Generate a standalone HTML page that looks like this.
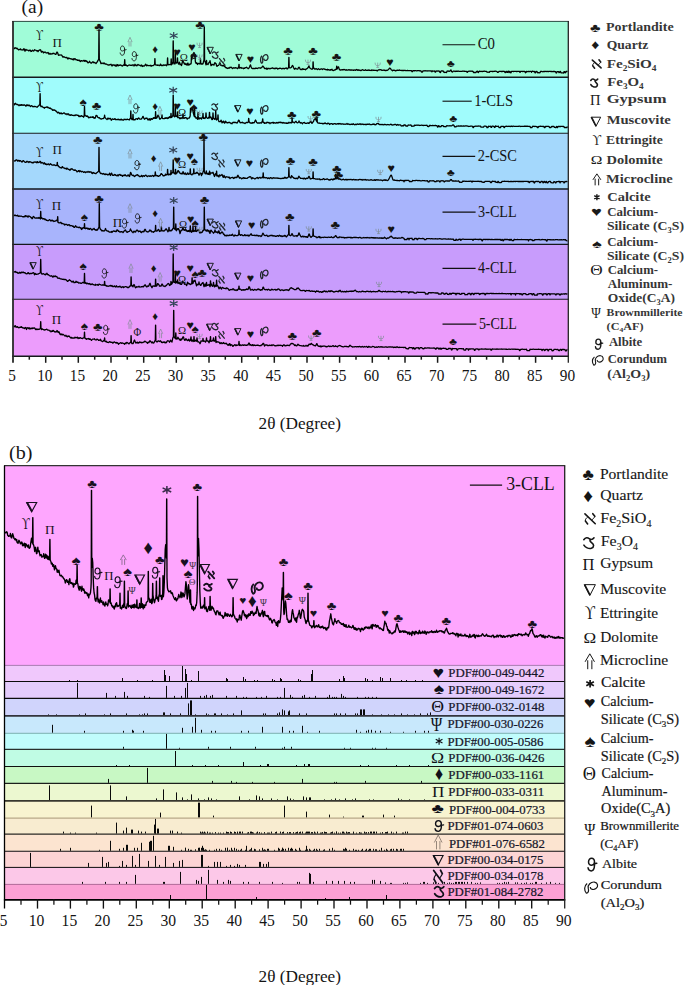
<!DOCTYPE html>
<html><head><meta charset="utf-8"><title>XRD patterns</title>
<style>html,body{margin:0;padding:0;background:#fff;width:685px;height:985px;overflow:hidden}svg{display:block;font-family:"Liberation Serif",serif}</style>
</head><body>
<svg width="685" height="985" viewBox="0 0 685 985" font-family="'Liberation Serif', serif">
<rect width="685" height="985" fill="#fff"/>
<rect x="13.0" y="21.4" width="555.3" height="55.8" fill="#a0fcd8"/>
<rect x="13.0" y="77.2" width="555.3" height="56.1" fill="#a0fcfc"/>
<rect x="13.0" y="133.3" width="555.3" height="55.7" fill="#a4d8fc"/>
<rect x="13.0" y="189.0" width="555.3" height="55.4" fill="#a8b4fc"/>
<rect x="13.0" y="244.4" width="555.3" height="54.8" fill="#c89cfc"/>
<rect x="13.0" y="299.2" width="555.3" height="57.2" fill="#ec9cfc"/>
<polyline points="13.50,48.4 14.00,48.6 14.50,48.5 15.00,47.7 15.50,48.0 16.00,48.0 16.50,48.5 17.00,48.2 17.50,48.9 18.00,49.2 18.50,49.9 19.00,49.7 19.50,49.6 20.00,49.2 20.50,48.9 21.00,49.9 21.50,49.8 22.00,49.8 22.50,49.8 23.00,50.1 23.50,49.1 24.00,48.7 24.50,49.8 25.00,51.2 25.50,49.7 26.00,49.4 26.50,50.2 27.00,50.1 27.50,50.2 28.00,50.2 28.50,50.8 29.00,50.7 29.50,50.6 30.00,50.0 30.50,50.6 31.00,51.5 31.50,51.3 32.00,50.6 32.50,50.1 33.00,50.7 33.50,51.1 34.00,50.8 34.50,49.7 35.00,50.0 35.50,50.2 36.00,50.3 36.50,50.9 37.00,50.5 37.50,50.7 38.00,51.6 38.50,50.8 39.00,50.3 39.50,50.2 40.00,49.7 40.50,49.8 41.00,51.1 41.50,52.1 42.00,51.2 42.50,51.5 43.00,51.9 43.50,52.9 44.00,52.1 44.50,52.3 45.00,52.2 45.50,52.2 46.00,52.8 46.50,52.9 47.00,53.0 47.50,52.8 48.00,52.4 48.50,53.4 49.00,54.2 49.50,53.7 50.00,53.3 50.50,54.0 51.00,54.0 51.50,53.8 52.00,54.1 52.50,53.5 53.00,53.2 53.50,53.6 54.00,53.3 54.50,53.7 55.00,54.0 55.50,54.4 56.00,54.3 56.50,52.8 57.00,52.0 57.50,52.4 58.00,54.1 58.50,55.3 59.00,55.1 59.50,55.1 60.00,54.8 60.50,55.0 61.00,55.2 61.50,55.0 62.00,55.6 62.50,56.5 63.00,57.2 63.50,56.9 64.00,56.7 64.50,57.0 65.00,57.4 65.50,57.6 66.00,57.6 66.50,57.5 67.00,57.5 67.50,58.8 68.00,58.9 68.50,58.0 69.00,58.5 69.50,58.3 70.00,58.6 70.50,58.7 71.00,59.1 71.50,59.0 72.00,59.0 72.50,59.5 73.00,59.8 73.50,58.8 74.00,59.7 74.50,58.9 75.00,58.6 75.50,59.2 76.00,59.9 76.50,59.9 77.00,59.7 77.50,60.4 78.00,60.3 78.50,60.1 79.00,60.6 79.50,60.1 80.00,61.2 80.50,61.5 81.00,60.8 81.50,60.6 82.00,60.7 82.50,61.1 83.00,61.1 83.50,60.6 84.00,60.3 84.50,61.3 85.00,60.7 85.50,60.5 86.00,61.6 86.50,60.9 87.00,61.3 87.50,62.1 88.00,62.9 88.50,62.7 89.00,62.1 89.50,61.3 90.00,62.3 90.50,62.8 91.00,63.0 91.50,63.1 92.00,62.5 92.50,62.1 93.00,61.7 93.50,62.3 94.00,62.9 94.50,62.4 95.00,62.6 95.50,63.1 96.00,63.6 96.50,62.7 97.00,62.3 97.50,61.4 98.00,60.2 98.50,59.8 98.70,59.8 98.95,30.3 99.05,30.3 99.30,59.8 99.50,59.8 100.00,60.9 100.50,62.0 101.00,63.7 101.50,63.4 102.00,63.2 102.50,63.1 103.00,63.7 103.50,63.6 104.00,62.8 104.50,63.6 105.00,64.0 105.50,63.9 106.00,64.0 106.50,64.2 107.00,64.4 107.50,64.8 108.00,64.9 108.50,65.0 109.00,65.0 109.50,64.9 110.00,64.6 110.50,64.7 111.00,64.2 111.50,65.1 112.00,66.0 112.50,65.3 113.00,64.6 113.50,65.1 114.00,65.1 114.50,65.6 115.00,64.8 115.50,65.7 116.00,66.3 116.50,65.8 117.00,64.5 117.50,64.7 118.00,65.9 118.50,65.7 119.00,65.0 119.50,65.2 120.00,65.4 120.50,64.8 121.00,65.1 121.50,65.7 122.00,65.9 122.50,66.0 123.00,65.6 123.50,64.8 124.00,64.7 124.40,65.4 124.65,59.7 124.75,59.7 125.00,65.4 125.50,65.4 126.00,64.8 126.50,65.6 127.00,65.7 127.50,66.1 128.00,65.5 128.50,65.2 129.00,65.2 129.50,65.0 130.00,65.1 130.50,65.4 131.00,65.3 131.50,65.2 132.00,65.5 132.50,64.9 133.00,64.9 133.50,64.9 134.00,66.0 134.50,65.4 135.00,64.3 135.50,65.0 136.00,65.6 136.50,65.1 137.00,65.8 137.50,64.9 138.00,64.4 138.50,65.0 139.00,65.2 139.50,65.2 140.00,65.6 140.50,65.5 141.00,66.0 141.50,65.0 142.00,65.4 142.50,66.5 143.00,65.9 143.50,65.8 144.00,66.2 144.50,65.8 145.00,65.3 145.50,64.2 146.00,64.6 146.50,65.8 147.00,65.7 147.50,65.1 148.00,65.5 148.50,65.6 149.00,65.7 149.50,65.5 150.00,65.7 150.50,65.3 151.00,66.2 151.50,66.2 152.00,65.5 152.50,65.7 153.00,65.6 153.50,65.4 154.00,64.8 154.50,64.5 154.60,64.5 154.85,58.6 154.95,58.6 155.20,64.5 155.50,64.6 156.00,65.2 156.50,65.1 157.00,65.0 157.50,65.4 158.00,65.0 158.50,65.2 159.00,65.5 159.50,65.6 160.00,65.4 160.50,64.1 161.00,64.9 161.50,65.6 162.00,65.1 162.50,65.6 163.00,65.5 163.50,64.9 164.00,65.0 164.50,65.3 165.00,65.1 165.50,64.9 166.00,65.3 166.50,65.7 167.00,64.5 167.30,64.1 167.55,57.9 167.65,57.9 167.90,64.6 168.00,64.9 168.50,64.7 169.00,64.5 169.50,64.6 170.00,64.6 170.50,64.5 170.90,64.4 171.15,59.0 171.25,59.0 171.50,64.8 171.50,64.8 172.00,64.2 172.50,63.2 172.90,61.7 173.15,40.8 173.25,40.8 173.50,61.8 173.50,61.8 174.00,63.8 174.50,63.7 175.00,63.8 175.00,63.8 175.25,52.5 175.35,52.5 175.60,62.8 176.00,62.6 176.50,63.0 177.00,62.1 177.20,62.3 177.45,58.0 177.55,58.0 177.80,62.6 178.00,62.7 178.50,64.1 179.00,63.4 179.50,62.2 180.00,64.7 180.50,64.5 181.00,64.1 181.50,65.6 182.00,63.8 182.50,60.9 183.00,60.7 183.50,62.0 184.00,63.1 184.50,64.1 185.00,63.3 185.50,64.5 186.00,64.3 186.50,63.9 187.00,65.3 187.50,63.4 188.00,63.1 188.50,65.0 189.00,64.9 189.50,64.6 190.00,63.9 190.50,64.2 191.00,63.8 191.20,62.8 191.45,55.0 191.55,55.0 191.80,59.6 192.00,58.5 192.50,56.0 193.00,54.4 193.50,53.3 194.00,52.5 194.50,55.4 194.70,56.9 194.95,54.5 195.05,54.5 195.30,61.0 195.50,62.2 196.00,63.3 196.50,62.7 197.00,63.2 197.50,64.5 198.00,63.4 198.50,63.6 199.00,63.5 199.50,63.9 200.00,63.9 200.20,63.6 200.45,59.0 200.55,59.0 200.80,63.7 201.00,64.0 201.50,64.2 202.00,63.7 202.50,64.0 203.00,63.9 203.50,61.6 204.00,59.8 204.00,59.8 204.25,26.8 204.35,26.8 204.60,60.9 205.00,61.2 205.50,62.9 206.00,64.9 206.20,64.7 206.45,60.5 206.55,60.5 206.80,64.2 207.00,64.1 207.50,64.0 208.00,64.5 208.50,63.6 209.00,62.5 209.50,62.4 210.00,60.7 210.50,63.2 211.00,65.7 211.50,65.3 212.00,64.4 212.50,64.3 213.00,64.9 213.50,64.7 214.00,65.1 214.50,63.1 215.00,62.7 215.50,63.3 216.00,63.5 216.50,65.5 217.00,66.4 217.50,65.8 218.00,65.4 218.50,65.4 219.00,64.8 219.50,63.1 220.00,63.0 220.50,64.3 221.00,65.4 221.50,65.6 222.00,65.4 222.50,65.6 223.00,66.1 223.50,65.3 224.00,65.1 224.50,66.5 225.00,66.5 225.50,67.7 226.00,67.6 226.50,67.6 227.00,68.3 227.50,68.5 228.00,68.1 228.50,67.8 229.00,68.4 229.50,67.7 230.00,67.2 230.50,67.5 231.00,67.2 231.50,67.3 232.00,68.0 232.50,68.6 233.00,68.1 233.50,68.0 234.00,67.6 234.50,68.2 235.00,68.2 235.50,67.6 236.00,67.7 236.50,68.0 237.00,68.3 237.50,68.7 238.00,68.3 238.50,67.0 238.70,67.0 238.95,64.4 239.05,64.4 239.30,67.7 239.50,68.1 240.00,67.6 240.50,67.9 241.00,67.4 241.50,68.3 242.00,68.0 242.50,68.2 243.00,68.0 243.50,68.7 244.00,68.4 244.50,68.3 245.00,67.6 245.50,67.8 246.00,67.7 246.50,67.2 247.00,67.7 247.50,68.0 248.00,68.5 248.50,68.5 249.00,67.8 249.50,67.0 250.00,65.7 250.50,64.9 251.00,66.5 251.50,67.8 252.00,68.4 252.50,68.5 253.00,68.6 253.50,68.5 254.00,68.5 254.50,68.5 255.00,68.7 255.50,68.2 256.00,68.0 256.50,68.4 257.00,68.4 257.50,68.5 258.00,68.2 258.50,67.8 259.00,67.9 259.50,67.9 260.00,68.0 260.50,68.3 261.00,67.9 261.50,67.6 262.00,67.2 262.50,66.2 263.00,66.1 263.50,66.9 264.00,67.3 264.50,68.5 265.00,68.5 265.50,68.6 266.00,68.5 266.50,68.1 267.00,69.4 267.50,68.5 268.00,68.4 268.50,68.6 269.00,68.3 269.50,68.6 270.00,68.8 270.50,68.5 271.00,68.5 271.50,68.3 272.00,67.9 272.50,67.8 273.00,68.3 273.50,68.4 274.00,68.7 274.50,68.3 275.00,68.7 275.50,68.2 276.00,68.4 276.50,68.1 277.00,68.1 277.50,69.0 278.00,68.9 278.50,68.7 279.00,68.5 279.50,68.4 280.00,68.1 280.50,68.3 281.00,68.4 281.50,68.9 282.00,68.8 282.50,68.4 283.00,68.4 283.50,68.5 284.00,68.4 284.50,68.9 285.00,68.4 285.50,68.3 286.00,67.9 286.50,68.1 287.00,68.8 287.50,68.9 288.00,68.1 288.50,67.5 288.60,67.4 288.85,57.5 288.95,57.5 289.20,67.5 289.50,67.6 290.00,67.9 290.50,67.8 291.00,67.6 291.50,67.2 292.00,66.1 292.50,65.5 293.00,65.9 293.50,67.5 294.00,68.5 294.50,69.2 295.00,68.9 295.50,68.2 296.00,68.6 296.50,68.8 297.00,69.0 297.50,69.2 298.00,68.7 298.50,67.6 299.00,67.2 299.50,67.9 300.00,68.8 300.50,69.5 301.00,69.2 301.50,69.3 302.00,69.7 302.50,68.9 303.00,68.7 303.50,69.3 304.00,69.4 304.50,69.3 305.00,69.2 305.50,69.7 306.00,69.3 306.50,68.9 307.00,68.6 307.50,68.3 308.00,67.7 308.50,66.8 309.00,65.9 309.50,67.6 310.00,68.1 310.50,68.5 311.00,68.8 311.50,69.2 312.00,69.0 312.50,69.0 312.80,68.8 313.05,61.8 313.15,61.8 313.40,68.1 313.50,68.0 314.00,68.2 314.50,69.0 315.00,69.0 315.50,69.1 316.00,68.7 316.50,68.9 317.00,69.2 317.50,69.6 318.00,69.1 318.50,68.6 319.00,69.2 319.50,69.5 320.00,69.5 320.50,69.2 321.00,68.8 321.50,68.8 322.00,69.2 322.50,69.5 323.00,68.9 323.50,68.9 324.00,68.9 324.50,69.1 325.00,69.4 325.50,69.5 326.00,69.5 326.50,69.7 327.00,70.0 327.50,69.3 328.00,69.9 328.50,69.7 329.00,69.9 329.50,70.0 330.00,70.3 330.50,69.6 331.00,69.9 331.50,69.8 332.00,69.3 332.50,70.2 333.00,70.6 333.50,70.6 334.00,70.2 334.50,70.0 335.00,70.1 335.50,69.4 336.00,69.4 336.40,69.1 336.65,66.2 336.75,66.2 337.00,69.0 337.00,69.0 337.50,68.4 338.00,67.0 338.50,66.8 339.00,68.4 339.50,69.9 340.00,69.9 340.50,70.0 341.00,70.0 341.50,69.8 342.00,69.6 342.50,69.7 343.00,70.0 343.50,69.6 344.00,69.5 344.50,69.6 345.00,69.8 345.50,70.1 346.00,70.0 346.50,69.7 347.00,70.2 347.50,70.2 348.00,70.0 348.50,69.9 349.00,69.7 349.50,70.1 350.00,69.9 350.50,69.9 351.00,70.3 351.50,69.9 352.00,70.0 352.50,70.1 353.00,70.1 353.50,70.4 354.00,70.0 354.50,70.0 355.00,70.2 355.50,70.3 356.00,69.8 356.50,69.5 357.00,70.0 357.50,70.3 358.00,69.8 358.50,70.3 359.00,70.0 359.50,70.3 360.00,70.2 360.50,70.5 361.00,70.5 361.50,70.4 362.00,69.9 362.50,69.7 363.00,70.1 363.50,70.1 364.00,70.4 364.50,70.3 365.00,70.2 365.50,69.8 366.00,70.3 366.50,70.4 367.00,70.4 367.50,70.4 368.00,70.0 368.50,70.1 369.00,70.4 369.50,70.1 370.00,70.3 370.50,70.5 371.00,70.3 371.50,70.0 372.00,70.5 372.50,70.1 373.00,70.1 373.50,70.3 374.00,70.2 374.50,70.3 375.00,70.4 375.50,70.3 376.00,70.3 376.50,70.3 377.00,70.8 377.50,70.8 378.00,70.2 378.50,69.8 379.00,69.9 379.50,69.9 380.00,69.5 380.50,69.7 381.00,70.0 381.50,70.0 382.00,70.4 382.50,70.3 383.00,70.2 383.50,70.2 384.00,70.4 384.50,70.1 385.00,70.5 385.50,70.5 386.00,70.6 386.50,70.3 387.00,70.2 387.50,70.3 388.00,69.9 388.50,69.3 389.00,68.9 389.50,68.1 390.00,68.2 390.50,68.5 391.00,69.4 391.50,70.0 392.00,70.3 392.50,70.7 393.00,70.2 393.50,70.3 394.00,70.2 394.50,70.4 395.00,70.5 395.50,70.9 396.00,70.8 396.50,70.3 397.00,70.3 397.50,70.1 398.00,70.3 398.50,70.3 399.00,70.1 399.50,70.0 400.00,70.4 400.50,70.4 401.00,70.3 401.50,70.5 402.00,70.5 402.50,70.4 403.00,70.5 403.50,70.5 404.00,70.5 404.50,70.4 405.00,70.4 405.50,70.5 406.00,70.7 406.50,70.6 407.00,70.6 407.50,70.5 408.00,70.5 408.50,70.7 409.00,70.7 409.50,70.6 410.00,70.7 410.50,70.6 411.00,70.6 411.50,70.7 412.00,71.7 412.50,71.6 413.00,70.6 413.50,70.7 414.00,70.7 414.50,70.9 415.00,70.7 415.50,70.7 416.00,70.7 416.50,70.8 417.00,70.8 417.50,70.7 418.00,70.6 418.50,70.6 419.00,70.7 419.50,70.8 420.00,70.7 420.50,70.8 421.00,70.9 421.50,72.1 422.00,72.1 422.50,72.1 423.00,70.8 423.50,70.8 424.00,70.8 424.50,70.8 425.00,70.7 425.50,70.9 426.00,70.9 426.50,70.8 427.00,71.0 427.50,70.9 428.00,70.8 428.50,70.8 429.00,70.9 429.50,70.9 430.00,70.9 430.50,70.9 431.00,71.1 431.50,71.0 432.00,71.8 432.50,70.9 433.00,71.1 433.50,71.1 434.00,71.1 434.50,71.0 435.00,72.0 435.50,72.2 436.00,70.9 436.50,71.1 437.00,71.1 437.50,71.1 438.00,70.9 438.50,71.0 439.00,71.2 439.50,71.2 440.00,72.4 440.50,72.5 441.00,71.1 441.50,70.9 442.00,70.9 442.50,71.0 443.00,71.1 443.50,71.1 444.00,72.4 444.50,72.4 445.00,72.5 445.50,72.3 446.00,72.4 446.50,72.6 447.00,71.2 447.50,71.1 448.00,71.0 448.50,71.1 449.00,71.3 449.50,71.3 450.00,70.9 450.50,70.2 451.00,70.0 451.50,71.4 452.00,71.8 452.50,72.0 453.00,71.3 453.50,71.2 454.00,71.2 454.50,71.2 455.00,71.5 455.50,71.4 456.00,71.2 456.50,71.3 457.00,71.1 457.50,71.3 458.00,71.2 458.50,71.2 459.00,71.4 459.50,71.3 460.00,71.4 460.50,71.4 461.00,71.3 461.50,71.3 462.00,71.4 462.50,71.2 463.00,71.2 463.50,71.2 464.00,71.3 464.50,71.2 465.00,71.3 465.50,71.3 466.00,71.3 466.50,71.3 467.00,72.3 467.50,72.3 468.00,71.4 468.50,71.3 469.00,71.2 469.50,71.2 470.00,71.3 470.50,71.2 471.00,71.2 471.50,71.2 472.00,71.3 472.50,71.2 473.00,71.3 473.50,72.5 474.00,72.5 474.50,72.5 475.00,72.5 475.50,72.5 476.00,72.5 476.50,71.4 477.00,71.4 477.50,71.2 478.00,72.4 478.50,72.5 479.00,71.3 479.50,71.2 480.00,71.3 480.50,71.4 481.00,71.5 481.50,71.4 482.00,71.4 482.50,71.5 483.00,71.4 483.50,71.4 484.00,71.2 484.50,71.2 485.00,71.4 485.50,71.4 486.00,71.3 486.50,71.3 487.00,72.1 487.50,72.2 488.00,72.3 488.50,72.2 489.00,72.2 489.50,72.3 490.00,71.3 490.50,71.3 491.00,71.4 491.50,71.3 492.00,71.5 492.50,71.5 493.00,71.5 493.50,71.4 494.00,71.3 494.50,71.4 495.00,71.1 495.50,71.2 496.00,71.3 496.50,71.3 497.00,71.5 497.50,72.4 498.00,72.3 498.50,72.2 499.00,71.4 499.50,71.4 500.00,71.3 500.50,71.3 501.00,71.5 501.50,71.4 502.00,71.5 502.50,71.5 503.00,71.2 503.50,71.3 504.00,71.5 504.50,71.5 505.00,72.5 505.50,72.5 506.00,71.4 506.50,71.3 507.00,72.4 507.50,72.4 508.00,71.2 508.50,71.2 509.00,72.6 509.50,71.5 510.00,71.4 510.50,72.7 511.00,72.8 511.50,71.4 512.00,71.3 512.50,71.4 513.00,71.4 513.50,71.6 514.00,71.4 514.50,71.3 515.00,71.4 515.50,71.4 516.00,71.4 516.50,71.5 517.00,71.5 517.50,71.4 518.00,71.4 518.50,71.3 519.00,71.3 519.50,71.4 520.00,72.4 520.50,71.4 521.00,71.4 521.50,71.3 522.00,71.4 522.50,71.5 523.00,71.4 523.50,71.4 524.00,71.5 524.50,71.4 525.00,71.6 525.50,72.8 526.00,72.5 526.50,71.3 527.00,71.5 527.50,71.6 528.00,71.6 528.50,71.4 529.00,71.5 529.50,71.7 530.00,71.3 530.50,71.3 531.00,71.3 531.50,72.3 532.00,71.3 532.50,71.2 533.00,71.3 533.50,71.5 534.00,71.6 534.50,71.5 535.00,72.8 535.50,72.8 536.00,71.5 536.50,71.6 537.00,71.5 537.50,72.7 538.00,72.8 538.50,72.6 539.00,72.7 539.50,72.8 540.00,72.7 540.50,71.5 541.00,71.4 541.50,71.4 542.00,71.5 542.50,71.7 543.00,71.8 543.50,71.5 544.00,71.5 544.50,71.5 545.00,71.5 545.50,71.4 546.00,71.3 546.50,71.5 547.00,71.6 547.50,71.3 548.00,71.5 548.50,71.6 549.00,71.4 549.50,71.4 550.00,71.3 550.50,71.4 551.00,71.6 551.50,71.5 552.00,71.6 552.50,71.6 553.00,71.5 553.50,71.5 554.00,71.5 554.50,71.5 555.00,71.6 555.50,71.6 556.00,72.8 556.50,73.0 557.00,71.7 557.50,71.7 558.00,71.6 558.50,71.6 559.00,72.7 559.50,72.5 560.00,71.5 560.50,71.5 561.00,72.8 561.50,72.9 562.00,72.9 562.50,72.8 563.00,72.9 563.50,73.1 564.00,71.7 564.50,71.6 565.00,72.8 565.50,72.7 566.00,71.5 566.50,71.5 567.00,71.4 567.50,71.6" fill="none" stroke="#000" stroke-width="1.3" stroke-linejoin="round"/>
<polyline points="13.50,103.5 14.00,103.6 14.50,104.8 15.00,104.2 15.50,103.3 16.00,104.0 16.50,104.3 17.00,104.6 17.50,104.3 18.00,104.9 18.50,105.0 19.00,105.7 19.50,105.3 20.00,104.8 20.50,105.3 21.00,105.4 21.50,104.6 22.00,105.1 22.50,104.8 23.00,105.4 23.50,105.0 24.00,105.1 24.50,104.9 25.00,105.2 25.50,105.9 26.00,106.1 26.50,105.3 27.00,104.7 27.50,105.5 28.00,105.4 28.50,105.1 29.00,105.8 29.50,105.3 30.00,105.9 30.50,106.5 31.00,106.1 31.50,105.6 32.00,105.8 32.50,106.7 33.00,106.5 33.50,106.8 34.00,106.5 34.50,106.4 35.00,106.5 35.50,106.6 36.00,106.7 36.50,107.0 37.00,107.3 37.50,106.8 38.00,106.2 38.50,105.9 39.00,105.5 39.50,104.5 39.80,104.8 40.05,93.7 40.15,93.7 40.40,105.1 40.50,105.2 41.00,106.7 41.50,106.7 42.00,106.2 42.50,107.0 43.00,107.3 43.50,107.6 44.00,107.5 44.50,108.2 45.00,107.4 45.50,107.4 46.00,107.3 46.50,107.2 47.00,106.7 47.50,107.6 48.00,107.1 48.50,107.6 49.00,108.2 49.50,108.4 50.00,107.8 50.50,108.7 51.00,108.7 51.50,109.1 52.00,109.2 52.50,110.3 53.00,109.9 53.50,109.8 54.00,110.3 54.50,109.9 55.00,110.2 55.50,110.7 56.00,111.2 56.50,111.2 57.00,112.2 57.50,112.9 58.00,112.8 58.50,112.2 59.00,112.5 59.50,113.4 60.00,113.8 60.50,113.4 61.00,112.8 61.50,113.5 62.00,113.9 62.50,113.7 63.00,113.5 63.50,113.0 64.00,112.8 64.50,113.0 65.00,113.8 65.50,114.1 66.00,113.8 66.50,113.9 67.00,114.7 67.50,114.0 68.00,113.9 68.50,113.8 69.00,115.1 69.50,114.8 70.00,115.2 70.50,115.3 71.00,114.6 71.50,115.0 72.00,115.1 72.50,115.3 73.00,115.3 73.50,115.5 74.00,115.6 74.50,115.1 75.00,115.6 75.50,115.3 76.00,114.8 76.50,115.2 77.00,115.2 77.50,115.3 78.00,115.2 78.50,116.0 79.00,116.5 79.50,115.9 80.00,116.6 80.50,116.4 81.00,115.9 81.50,115.7 82.00,116.3 82.50,116.3 83.00,116.2 83.50,117.2 84.00,116.5 84.20,116.1 84.45,106.5 84.55,106.5 84.80,115.3 85.00,115.1 85.50,115.7 86.00,116.1 86.50,116.3 87.00,115.7 87.50,116.5 88.00,116.5 88.50,117.8 89.00,117.4 89.50,117.5 90.00,117.5 90.50,117.0 91.00,117.3 91.50,117.2 92.00,117.2 92.50,117.4 93.00,116.6 93.50,117.8 94.00,118.1 94.50,117.7 95.00,118.3 95.50,117.3 96.00,115.4 96.50,115.5 97.00,115.7 97.50,116.9 98.00,117.5 98.50,117.8 99.00,117.6 99.50,117.9 100.00,118.5 100.50,118.6 101.00,119.1 101.50,119.0 102.00,118.7 102.50,118.6 103.00,118.7 103.50,118.4 104.00,117.7 104.30,117.6 104.55,115.2 104.65,115.2 104.90,117.4 105.00,117.4 105.50,118.1 106.00,118.7 106.50,119.1 107.00,119.5 107.50,119.0 108.00,118.0 108.50,118.4 109.00,119.0 109.50,118.4 110.00,118.4 110.50,118.5 111.00,119.9 111.50,120.2 112.00,119.2 112.50,118.9 113.00,119.2 113.50,119.4 114.00,119.4 114.50,118.8 115.00,118.6 115.50,119.7 116.00,119.5 116.50,119.7 117.00,119.5 117.50,119.4 118.00,119.5 118.50,119.2 119.00,119.8 119.50,119.9 120.00,119.4 120.50,119.4 121.00,120.0 121.50,119.2 122.00,119.5 122.50,120.0 123.00,120.2 123.50,120.2 124.00,119.2 124.50,119.5 125.00,119.3 125.50,119.6 126.00,119.5 126.50,119.7 127.00,119.2 127.50,119.2 128.00,119.6 128.50,119.6 129.00,119.7 129.50,119.9 130.00,118.6 130.50,118.2 130.50,118.2 130.75,110.9 130.85,110.9 131.10,117.8 131.50,118.5 132.00,119.7 132.50,119.2 132.70,119.2 132.95,114.5 133.05,114.5 133.30,119.7 133.50,119.9 134.00,119.6 134.50,119.6 135.00,119.9 135.50,119.1 136.00,118.6 136.50,118.9 137.00,118.8 137.50,119.4 138.00,118.4 138.50,118.0 139.00,118.1 139.50,119.0 140.00,119.2 140.50,119.2 141.00,119.1 141.50,118.9 142.00,118.1 142.50,117.2 143.00,116.4 143.50,117.4 144.00,118.6 144.50,119.2 145.00,118.7 145.50,118.4 146.00,118.1 146.50,118.4 147.00,118.1 147.50,119.1 148.00,120.0 148.50,119.8 149.00,118.7 149.50,118.9 150.00,120.4 150.50,119.7 151.00,118.5 151.50,118.7 152.00,119.5 152.50,119.2 153.00,118.4 153.50,117.7 154.00,118.3 154.50,117.7 155.00,118.2 155.30,118.4 155.55,111.7 155.65,111.7 155.90,118.3 156.00,118.3 156.50,118.1 157.00,117.7 157.50,116.3 158.00,115.1 158.50,115.7 159.00,117.0 159.50,118.6 160.00,119.3 160.50,118.5 161.00,118.2 161.50,117.8 161.70,117.8 161.95,115.0 162.05,115.0 162.30,118.2 162.50,118.5 163.00,118.7 163.50,118.7 164.00,118.7 164.50,118.7 165.00,118.0 165.50,118.4 166.00,117.6 166.50,118.0 167.00,118.4 167.50,118.5 168.00,117.4 168.50,118.2 169.00,117.8 169.50,116.7 170.00,117.3 170.50,117.6 170.70,117.3 170.95,113.5 171.05,113.5 171.30,117.2 171.50,117.5 172.00,117.0 172.50,116.0 172.90,115.1 173.15,95.1 173.25,95.1 173.50,115.6 173.50,115.6 174.00,116.4 174.50,116.9 175.00,115.8 175.00,115.8 175.25,106.5 175.35,106.5 175.60,115.9 176.00,116.5 176.50,116.0 177.00,116.2 177.20,116.9 177.45,112.0 177.55,112.0 177.80,117.7 178.00,117.6 178.50,117.5 179.00,117.4 179.50,118.3 180.00,118.8 180.50,118.4 181.00,117.6 181.50,118.1 182.00,118.5 182.50,117.7 182.70,117.7 182.95,114.0 183.05,114.0 183.30,117.9 183.50,118.1 184.00,118.4 184.50,118.2 185.00,117.5 185.50,117.8 186.00,117.7 186.50,117.8 187.00,118.9 187.50,119.0 188.00,118.2 188.50,118.1 189.00,118.2 189.50,117.8 190.00,116.6 190.20,115.8 190.45,108.5 190.55,108.5 190.80,112.1 191.00,110.5 191.50,108.4 192.00,108.8 192.50,108.2 193.00,111.7 193.50,113.8 194.00,115.6 194.20,116.3 194.45,108.5 194.55,108.5 194.80,116.9 195.00,116.6 195.50,116.6 196.00,118.3 196.50,118.0 197.00,118.0 197.50,119.3 197.70,118.5 197.95,112.5 198.05,112.5 198.30,117.7 198.50,117.9 199.00,119.2 199.50,118.3 200.00,117.7 200.50,118.4 201.00,118.6 201.50,119.1 202.00,117.3 202.50,117.1 202.70,117.6 202.95,113.5 203.05,113.5 203.30,118.3 203.50,118.4 204.00,117.8 204.50,118.4 205.00,118.5 205.50,117.2 205.70,116.8 205.95,113.0 206.05,113.0 206.30,116.7 206.50,117.2 207.00,117.9 207.50,118.3 208.00,118.5 208.50,117.5 209.00,117.1 209.20,117.6 209.45,112.3 209.55,112.3 209.80,118.0 210.00,117.7 210.50,117.0 211.00,117.2 211.50,118.4 212.00,119.7 212.50,119.5 212.70,118.7 212.95,113.0 213.05,113.0 213.30,117.8 213.50,118.0 214.00,118.4 214.50,119.3 215.00,119.2 215.40,118.8 215.65,110.9 215.75,110.9 216.00,118.3 216.00,118.3 216.50,120.0 217.00,119.2 217.50,119.1 217.70,119.0 217.95,115.0 218.05,115.0 218.30,119.9 218.50,120.5 219.00,121.7 219.50,121.5 220.00,121.8 220.50,121.4 221.00,120.2 221.50,121.0 222.00,122.9 222.50,121.9 223.00,122.2 223.50,121.1 224.00,121.9 224.50,123.2 225.00,122.8 225.50,121.1 226.00,122.1 226.50,122.1 227.00,122.9 227.50,122.9 228.00,122.6 228.50,122.7 229.00,122.2 229.50,122.3 230.00,122.9 230.50,122.9 231.00,123.5 231.50,123.3 232.00,123.8 232.50,122.7 233.00,122.4 233.50,122.7 234.00,122.1 234.50,122.6 235.00,122.5 235.50,122.5 236.00,122.5 236.50,122.8 237.00,123.1 237.50,122.3 238.00,121.7 238.50,120.1 239.00,120.4 239.50,121.4 240.00,122.6 240.50,122.8 241.00,122.4 241.50,122.6 242.00,122.7 242.50,122.2 243.00,122.9 243.50,122.9 244.00,123.0 244.50,123.2 245.00,123.6 245.50,123.1 246.00,122.6 246.50,122.4 247.00,122.4 247.50,122.7 248.00,122.4 248.40,122.1 248.65,118.4 248.75,118.4 249.00,121.7 249.00,121.7 249.50,122.1 250.00,122.9 250.50,123.1 251.00,122.9 251.50,123.2 252.00,123.3 252.50,122.5 253.00,122.9 253.50,122.7 254.00,122.8 254.50,122.1 255.00,121.0 255.50,120.0 256.00,120.8 256.50,122.3 257.00,122.8 257.50,123.1 258.00,122.9 258.50,123.0 259.00,123.1 259.50,123.0 260.00,123.1 260.50,122.7 261.00,123.1 261.50,123.1 262.00,121.7 262.40,121.3 262.65,118.8 262.75,118.8 263.00,122.1 263.00,122.1 263.50,122.7 264.00,122.4 264.50,123.4 265.00,123.0 265.50,123.0 266.00,123.3 266.50,122.8 267.00,122.2 267.50,122.5 268.00,122.4 268.50,122.9 269.00,122.4 269.50,122.9 270.00,123.7 270.50,123.1 271.00,122.6 271.50,122.9 272.00,122.9 272.50,122.5 273.00,122.2 273.50,123.2 274.00,122.7 274.50,122.7 275.00,123.0 275.50,123.1 276.00,123.0 276.50,122.5 277.00,122.8 277.50,123.0 278.00,122.4 278.50,122.8 279.00,122.2 279.50,122.5 280.00,122.4 280.50,122.2 281.00,122.8 281.50,122.4 282.00,122.7 282.50,123.1 283.00,122.5 283.50,122.6 284.00,123.2 284.50,122.8 285.00,122.8 285.50,123.1 286.00,123.1 286.50,123.4 287.00,122.8 287.50,123.4 288.00,123.4 288.50,122.8 289.00,122.3 289.50,122.9 290.00,122.9 290.50,122.5 291.00,122.8 291.50,122.9 291.80,122.8 292.05,118.2 292.15,118.2 292.40,122.3 292.50,122.1 293.00,122.1 293.50,122.2 294.00,122.6 294.50,122.9 295.00,122.2 295.50,121.6 296.00,121.3 296.50,122.3 297.00,122.6 297.50,122.8 298.00,122.7 298.50,122.1 299.00,120.9 299.50,122.1 300.00,122.7 300.50,123.1 301.00,122.5 301.50,122.9 302.00,123.2 302.50,123.8 303.00,122.8 303.50,122.7 304.00,122.6 304.50,122.4 305.00,123.3 305.50,123.3 306.00,123.3 306.50,123.3 307.00,123.1 307.50,123.1 308.00,122.7 308.50,123.3 309.00,123.5 309.50,122.7 310.00,122.2 310.50,121.3 311.00,121.4 311.50,122.8 312.00,123.4 312.50,122.5 313.00,122.1 313.50,121.5 314.00,119.9 314.50,119.1 315.00,119.0 315.50,118.6 316.00,120.0 316.50,121.1 316.70,121.3 316.95,117.0 317.05,117.0 317.30,122.3 317.50,122.7 318.00,122.9 318.50,123.2 319.00,123.2 319.50,123.0 320.00,123.4 320.50,123.4 321.00,123.4 321.50,123.3 322.00,123.5 322.50,123.5 323.00,123.9 323.50,123.5 324.00,123.6 324.50,123.4 325.00,122.8 325.50,123.5 326.00,123.7 326.50,123.7 327.00,124.0 327.50,123.4 328.00,123.2 328.50,123.3 329.00,123.4 329.50,124.5 330.00,124.1 330.50,123.8 331.00,123.6 331.50,123.7 332.00,123.7 332.50,124.3 333.00,123.9 333.50,124.1 334.00,123.8 334.50,123.7 335.00,123.6 335.50,124.0 336.00,123.9 336.50,124.1 337.00,124.1 337.50,123.7 338.00,123.5 338.50,124.0 339.00,123.6 339.50,123.9 340.00,123.5 340.50,123.9 341.00,124.1 341.50,124.0 342.00,124.1 342.50,123.8 343.00,123.8 343.50,124.1 344.00,124.3 344.50,124.2 345.00,124.1 345.50,124.1 346.00,124.3 346.50,124.0 347.00,123.5 347.50,124.1 348.00,124.3 348.50,123.9 349.00,124.1 349.50,124.5 350.00,124.7 350.50,124.3 351.00,124.4 351.50,124.1 352.00,124.2 352.50,124.5 353.00,124.1 353.50,123.8 354.00,124.5 354.50,124.7 355.00,124.8 355.50,124.4 356.00,124.1 356.50,124.6 357.00,124.4 357.50,123.9 358.00,124.1 358.50,124.4 359.00,124.4 359.50,123.8 360.00,124.1 360.50,123.9 361.00,124.6 361.50,124.2 362.00,124.0 362.50,124.3 363.00,124.2 363.50,124.6 364.00,124.3 364.50,124.4 365.00,124.5 365.50,124.5 366.00,124.2 366.50,124.7 367.00,124.4 367.50,124.1 368.00,124.3 368.50,124.4 369.00,123.9 369.50,124.1 370.00,124.7 370.50,124.6 371.00,124.5 371.50,124.7 372.00,124.6 372.50,124.2 373.00,124.1 373.50,124.4 374.00,123.9 374.50,124.3 375.00,124.9 375.50,124.6 376.00,124.7 376.50,123.9 377.00,123.7 377.50,123.6 378.00,123.4 378.50,123.6 379.00,124.4 379.50,124.6 380.00,124.5 380.50,124.5 381.00,124.7 381.50,124.5 382.00,124.5 382.50,124.5 383.00,124.8 383.50,124.8 384.00,124.4 384.50,124.5 385.00,124.4 385.50,124.7 386.00,124.7 386.50,124.8 387.00,124.8 387.50,124.5 388.00,124.7 388.50,124.7 389.00,124.8 389.50,124.8 390.00,124.7 390.50,124.3 391.00,124.2 391.50,124.6 392.00,125.1 392.50,125.1 393.00,124.7 393.50,124.8 394.00,124.8 394.50,124.5 395.00,124.5 395.50,124.3 396.00,124.7 396.50,125.3 397.00,125.0 397.50,124.5 398.00,124.8 398.50,125.1 399.00,124.8 399.50,124.9 400.00,124.9 400.50,124.9 401.00,125.8 401.50,125.9 402.00,126.1 402.50,125.7 403.00,125.7 403.50,125.9 404.00,124.9 404.50,124.9 405.00,125.0 405.50,125.1 406.00,126.2 406.50,126.0 407.00,126.1 407.50,126.2 408.00,125.2 408.50,125.0 409.00,125.1 409.50,125.1 410.00,125.2 410.50,125.0 411.00,124.9 411.50,126.1 412.00,126.3 412.50,126.2 413.00,126.2 413.50,126.1 414.00,126.1 414.50,125.1 415.00,125.1 415.50,125.3 416.00,125.3 416.50,125.2 417.00,125.2 417.50,125.1 418.00,125.3 418.50,125.2 419.00,125.2 419.50,125.5 420.00,125.3 420.50,125.3 421.00,125.3 421.50,125.2 422.00,125.2 422.50,125.3 423.00,125.5 423.50,125.5 424.00,125.3 424.50,125.4 425.00,125.4 425.50,125.3 426.00,125.3 426.50,125.4 427.00,125.2 427.50,126.3 428.00,126.5 428.50,126.6 429.00,126.4 429.50,125.3 430.00,125.4 430.50,125.5 431.00,125.6 431.50,125.6 432.00,125.6 432.50,125.5 433.00,125.5 433.50,125.6 434.00,125.7 434.50,125.6 435.00,125.5 435.50,125.5 436.00,125.5 436.50,125.7 437.00,125.7 437.50,127.0 438.00,127.0 438.50,125.7 439.00,125.7 439.50,126.7 440.00,126.8 440.50,126.6 441.00,126.6 441.50,125.6 442.00,125.6 442.50,125.7 443.00,125.6 443.50,126.5 444.00,126.5 444.50,126.6 445.00,126.6 445.50,126.7 446.00,126.8 446.50,125.8 447.00,125.7 447.50,125.9 448.00,125.9 448.50,125.9 449.00,125.9 449.50,125.9 450.00,125.7 450.50,125.8 451.00,125.8 451.50,125.8 452.00,125.6 452.50,125.2 453.00,124.8 453.50,125.1 454.00,125.5 454.50,126.8 455.00,126.7 455.50,126.8 456.00,126.8 456.50,126.1 457.00,126.1 457.50,126.1 458.00,126.1 458.50,125.9 459.00,126.0 459.50,126.1 460.00,126.1 460.50,126.0 461.00,125.9 461.50,126.0 462.00,126.1 462.50,126.2 463.00,126.0 463.50,126.0 464.00,126.1 464.50,126.1 465.00,126.0 465.50,125.9 466.00,125.9 466.50,125.9 467.00,126.0 467.50,126.1 468.00,126.2 468.50,126.5 469.00,126.3 469.50,126.3 470.00,126.3 470.50,126.2 471.00,126.1 471.50,126.1 472.00,126.2 472.50,126.3 473.00,127.5 473.50,127.6 474.00,126.3 474.50,126.3 475.00,126.3 475.50,126.1 476.00,126.1 476.50,126.2 477.00,126.3 477.50,126.2 478.00,126.1 478.50,126.0 479.00,126.2 479.50,126.1 480.00,126.2 480.50,126.1 481.00,127.2 481.50,127.1 482.00,127.2 482.50,127.2 483.00,127.1 483.50,127.1 484.00,126.2 484.50,126.2 485.00,126.2 485.50,126.2 486.00,126.3 486.50,126.3 487.00,127.7 487.50,127.5 488.00,127.6 488.50,126.2 489.00,126.3 489.50,126.3 490.00,126.3 490.50,126.2 491.00,127.3 491.50,127.4 492.00,126.2 492.50,126.1 493.00,126.2 493.50,126.3 494.00,126.4 494.50,127.5 495.00,127.3 495.50,125.9 496.00,126.2 496.50,126.4 497.00,126.3 497.50,126.3 498.00,126.4 498.50,126.2 499.00,127.6 499.50,127.6 500.00,127.7 500.50,127.7 501.00,126.3 501.50,126.4 502.00,126.4 502.50,126.4 503.00,126.3 503.50,126.3 504.00,127.6 504.50,127.5 505.00,126.4 505.50,126.4 506.00,126.3 506.50,126.2 507.00,126.3 507.50,126.5 508.00,126.3 508.50,126.3 509.00,126.2 509.50,126.3 510.00,126.5 510.50,126.5 511.00,126.2 511.50,126.2 512.00,126.4 512.50,126.5 513.00,126.2 513.50,126.2 514.00,126.3 514.50,126.4 515.00,126.4 515.50,126.4 516.00,126.3 516.50,126.4 517.00,126.4 517.50,126.4 518.00,126.4 518.50,126.4 519.00,126.2 519.50,126.2 520.00,126.3 520.50,126.5 521.00,126.4 521.50,126.3 522.00,126.3 522.50,126.3 523.00,126.3 523.50,126.4 524.00,126.4 524.50,126.2 525.00,126.4 525.50,126.2 526.00,126.3 526.50,126.2 527.00,126.3 527.50,126.2 528.00,126.3 528.50,126.3 529.00,126.4 529.50,126.4 530.00,126.3 530.50,127.7 531.00,127.6 531.50,127.7 532.00,127.6 532.50,126.3 533.00,126.2 533.50,126.3 534.00,126.4 534.50,126.5 535.00,126.3 535.50,126.3 536.00,126.5 536.50,126.6 537.00,126.6 537.50,127.6 538.00,127.6 538.50,126.6 539.00,126.5 539.50,126.4 540.00,126.3 540.50,126.2 541.00,126.3 541.50,126.4 542.00,126.4 542.50,126.4 543.00,126.5 543.50,126.4 544.00,126.4 544.50,127.7 545.00,127.6 545.50,126.4 546.00,126.3 546.50,126.4 547.00,126.5 547.50,126.3 548.00,126.4 548.50,126.4 549.00,126.4 549.50,127.6 550.00,127.5 550.50,127.4 551.00,127.5 551.50,126.6 552.00,126.4 552.50,126.5 553.00,126.4 553.50,126.5 554.00,126.5 554.50,127.4 555.00,127.4 555.50,127.6 556.00,127.7 556.50,126.5 557.00,126.6 557.50,127.6 558.00,126.5 558.50,126.5 559.00,126.5 559.50,126.5 560.00,126.6 560.50,126.5 561.00,126.5 561.50,126.3 562.00,126.4 562.50,126.4 563.00,126.5 563.50,126.5 564.00,126.6 564.50,127.7 565.00,127.7 565.50,127.5 566.00,127.5 566.50,127.4 567.00,127.5 567.50,126.4" fill="none" stroke="#000" stroke-width="1.3" stroke-linejoin="round"/>
<polyline points="13.50,160.7 14.00,160.8 14.50,160.8 15.00,161.1 15.50,160.3 16.00,160.0 16.50,160.0 17.00,160.0 17.50,161.0 18.00,161.1 18.50,160.4 19.00,160.3 19.50,161.2 20.00,160.7 20.50,160.6 21.00,161.2 21.50,161.8 22.00,162.0 22.50,161.3 23.00,160.7 23.50,160.7 24.00,161.4 24.50,161.7 25.00,162.2 25.50,162.3 26.00,162.4 26.50,161.5 27.00,161.2 27.50,161.7 28.00,162.1 28.50,161.8 29.00,162.5 29.50,161.6 30.00,161.8 30.50,161.8 31.00,162.3 31.50,162.6 32.00,162.3 32.50,162.5 33.00,163.1 33.50,162.4 34.00,162.1 34.50,162.0 35.00,162.3 35.50,162.2 36.00,161.8 36.50,162.7 37.00,162.4 37.50,161.6 38.00,162.7 38.50,162.4 39.00,162.3 39.50,162.2 40.00,161.3 40.50,161.6 41.00,163.2 41.50,162.7 42.00,162.4 42.50,162.8 43.00,162.9 43.50,163.9 44.00,163.7 44.50,162.8 45.00,163.9 45.50,164.3 46.00,163.8 46.50,164.6 47.00,164.7 47.50,164.5 48.00,163.9 48.50,163.9 49.00,164.8 49.50,164.8 50.00,164.3 50.50,163.7 51.00,164.3 51.50,164.6 52.00,165.0 52.50,165.1 53.00,165.1 53.50,164.9 54.00,165.0 54.50,164.9 55.00,165.2 55.50,165.6 56.00,165.6 56.50,165.2 57.00,165.6 57.25,162.4 57.35,162.4 57.60,165.7 58.00,165.5 58.50,166.2 59.00,166.9 59.50,166.8 60.00,167.7 60.50,167.7 61.00,167.9 61.50,168.0 62.00,167.0 62.50,166.6 63.00,167.7 63.50,167.9 64.00,167.8 64.50,168.3 65.00,168.6 65.50,168.6 66.00,168.2 66.50,169.1 67.00,168.1 67.50,168.9 68.00,169.0 68.50,169.4 69.00,169.5 69.50,169.6 70.00,170.3 70.50,169.7 71.00,168.8 71.50,169.2 72.00,168.8 72.50,169.3 73.00,169.6 73.50,170.2 74.00,170.1 74.50,170.4 75.00,169.8 75.50,170.3 76.00,170.5 76.50,171.0 77.00,171.9 77.50,171.5 78.00,171.4 78.50,170.7 79.00,170.5 79.50,171.8 80.00,170.8 80.50,170.8 81.00,171.5 81.50,171.9 82.00,171.4 82.50,171.4 83.00,171.9 83.50,172.4 84.00,172.0 84.50,171.7 85.00,172.3 85.50,172.6 86.00,171.9 86.50,172.0 87.00,172.1 87.50,172.1 88.00,171.4 88.50,172.0 89.00,172.3 89.50,171.7 90.00,172.1 90.50,172.0 91.00,172.0 91.50,172.2 92.00,173.4 92.50,173.5 93.00,172.4 93.50,173.0 94.00,172.8 94.50,173.3 95.00,173.4 95.50,173.6 96.00,173.6 96.50,172.9 97.00,172.5 97.50,172.3 98.00,171.7 98.50,171.2 98.70,171.3 98.95,147.5 99.05,147.5 99.30,171.4 99.50,171.3 100.00,172.7 100.50,173.4 101.00,173.7 101.50,173.3 102.00,173.6 102.50,174.1 103.00,173.9 103.50,173.5 104.00,173.8 104.50,174.5 105.00,174.7 105.50,174.0 106.00,174.5 106.50,174.3 107.00,174.1 107.50,174.9 108.00,174.9 108.50,174.6 109.00,174.5 109.50,173.2 110.00,174.4 110.50,175.5 111.00,173.9 111.50,173.1 112.00,174.1 112.50,175.3 113.00,175.3 113.50,175.4 114.00,174.8 114.50,174.5 115.00,175.2 115.50,174.7 116.00,175.5 116.50,175.8 117.00,175.4 117.50,174.9 118.00,175.9 118.50,175.7 119.00,174.6 119.50,174.7 120.00,174.4 120.50,175.4 121.00,175.1 121.50,175.2 122.00,175.7 122.50,176.2 123.00,175.2 123.50,175.6 124.00,175.5 124.50,175.5 125.00,174.6 125.50,175.3 126.00,175.8 126.50,175.9 127.00,176.1 127.50,175.6 128.00,174.9 128.50,175.8 129.00,175.3 129.50,176.5 130.00,175.0 130.50,172.3 131.00,173.0 131.50,174.5 132.00,175.1 132.50,175.5 133.00,175.7 133.50,175.2 134.00,176.1 134.50,176.6 135.00,176.2 135.50,175.5 136.00,175.5 136.50,175.2 137.00,174.6 137.50,174.7 138.00,175.6 138.50,175.4 139.00,176.0 139.50,176.7 140.00,176.6 140.50,176.5 141.00,176.3 141.50,175.4 142.00,176.3 142.50,176.7 143.00,175.7 143.50,175.6 144.00,176.2 144.50,176.3 145.00,175.5 145.50,175.2 146.00,175.2 146.50,175.8 147.00,176.4 147.50,176.5 148.00,176.0 148.50,176.0 149.00,175.8 149.50,176.3 150.00,176.2 150.50,175.8 151.00,176.4 151.50,176.2 152.00,175.8 152.50,175.4 153.00,175.7 153.50,176.5 154.00,175.6 154.50,175.9 155.00,175.2 155.00,175.2 155.25,172.0 155.35,172.0 155.60,175.1 156.00,175.9 156.50,175.5 157.00,175.5 157.50,175.7 158.00,176.4 158.50,176.4 159.00,175.8 159.50,175.6 160.00,175.8 160.50,174.7 161.00,173.7 161.50,173.6 162.00,174.5 162.50,174.7 163.00,175.8 163.50,175.6 164.00,175.9 164.50,175.7 165.00,175.1 165.50,174.1 166.00,175.2 166.50,174.5 167.00,174.3 167.30,174.4 167.55,169.4 167.65,169.4 167.90,174.8 168.00,174.8 168.50,174.0 169.00,174.9 169.50,174.4 170.00,173.9 170.50,174.8 170.70,174.6 170.95,170.3 171.05,170.3 171.30,174.0 171.50,173.8 172.00,172.9 172.50,172.7 172.90,171.7 173.15,159.8 173.25,159.8 173.50,172.1 173.50,172.1 174.00,173.3 174.50,173.7 175.00,172.8 175.20,173.5 175.45,169.4 175.55,169.4 175.80,174.1 176.00,173.9 176.50,173.1 177.00,173.1 177.50,171.5 178.00,170.6 178.50,170.9 179.00,172.2 179.50,172.0 180.00,173.4 180.50,173.7 181.00,173.5 181.50,173.9 182.00,173.2 182.50,173.7 183.00,171.7 183.50,172.4 184.00,174.1 184.50,174.0 185.00,173.3 185.50,173.0 186.00,174.6 186.50,174.3 187.00,174.4 187.50,173.0 188.00,173.1 188.50,174.3 189.00,174.1 189.50,173.8 190.00,173.1 190.00,173.1 190.25,168.9 190.35,168.9 190.60,174.1 191.00,174.1 191.50,174.6 192.00,174.9 192.50,173.9 193.00,173.8 193.50,173.9 193.50,173.9 193.75,168.9 193.85,168.9 194.10,173.3 194.50,173.7 195.00,173.7 195.50,173.2 196.00,173.4 196.50,172.6 197.00,172.1 197.50,173.1 198.00,173.5 198.50,173.7 199.00,175.2 199.50,174.5 200.00,173.1 200.50,172.8 201.00,173.5 201.50,175.5 202.00,173.7 202.50,174.0 203.00,172.2 203.50,170.5 203.70,170.2 203.95,137.9 204.05,137.9 204.30,171.0 204.50,171.9 205.00,173.7 205.50,173.2 206.00,174.0 206.00,174.0 206.25,171.0 206.35,171.0 206.60,172.9 207.00,173.1 207.50,174.1 208.00,174.0 208.50,174.4 209.00,172.6 209.30,174.0 209.55,171.2 209.65,171.2 209.90,174.7 210.00,174.6 210.50,172.9 211.00,173.2 211.50,173.1 212.00,172.7 212.50,173.1 213.00,172.3 213.50,173.7 214.00,175.3 214.50,176.5 215.00,174.9 215.50,173.8 216.00,174.5 216.30,175.2 216.55,171.2 216.65,171.2 216.90,176.0 217.00,176.1 217.50,175.3 218.00,175.4 218.50,176.7 219.00,176.9 219.50,174.8 220.00,175.4 220.50,175.8 221.00,175.2 221.50,175.1 222.00,174.5 222.50,175.8 223.00,177.1 223.50,177.3 224.00,175.3 224.50,176.7 225.00,177.5 225.50,177.8 226.00,176.7 226.50,176.9 227.00,176.8 227.50,177.0 228.00,177.3 228.50,177.5 229.00,176.9 229.50,177.6 230.00,178.6 230.50,178.0 231.00,177.7 231.50,177.7 232.00,177.5 232.50,177.5 233.00,177.5 233.50,178.5 234.00,178.3 234.50,177.5 235.00,177.4 235.50,177.6 236.00,177.2 236.50,177.7 237.00,177.7 237.50,175.7 238.00,175.3 238.50,176.5 239.00,177.2 239.50,178.2 240.00,177.6 240.50,177.8 241.00,178.2 241.50,178.8 242.00,178.4 242.50,178.1 243.00,178.5 243.50,177.7 244.00,177.7 244.50,178.4 245.00,178.1 245.50,178.1 246.00,178.4 246.50,178.3 247.00,178.4 247.50,178.2 248.00,177.5 248.50,177.3 249.00,177.0 249.50,177.0 250.00,176.6 250.50,176.8 251.00,177.2 251.50,178.8 252.00,178.7 252.50,177.7 253.00,178.2 253.50,178.2 254.00,178.4 254.50,178.9 255.00,178.9 255.50,178.5 256.00,178.2 256.50,178.0 257.00,177.6 257.50,177.5 258.00,178.6 258.50,178.3 259.00,177.7 259.50,177.7 260.00,177.3 260.50,178.0 261.00,177.9 261.50,177.9 262.00,177.6 262.50,176.7 262.90,177.6 263.15,172.9 263.25,172.9 263.50,177.8 263.50,177.8 264.00,177.3 264.50,177.4 265.00,177.8 265.50,177.9 266.00,177.7 266.50,177.6 267.00,178.1 267.50,178.6 268.00,177.9 268.50,178.0 269.00,178.5 269.50,178.7 270.00,178.0 270.50,177.6 271.00,177.7 271.50,178.1 272.00,178.6 272.50,178.3 273.00,177.8 273.50,177.7 274.00,178.2 274.50,178.0 275.00,177.9 275.50,178.1 276.00,178.1 276.50,178.2 277.00,177.8 277.50,178.0 278.00,178.4 278.50,178.2 279.00,178.3 279.50,178.5 280.00,178.3 280.50,178.6 281.00,178.6 281.50,178.5 282.00,178.3 282.50,178.2 283.00,178.6 283.50,178.2 284.00,178.4 284.50,177.3 285.00,177.2 285.50,177.7 286.00,178.3 286.50,178.1 287.00,177.6 287.50,177.9 288.00,177.3 288.50,176.7 288.60,176.7 288.85,167.7 288.95,167.7 289.20,176.6 289.50,176.8 290.00,177.2 290.50,177.9 291.00,177.9 291.50,175.6 292.00,176.3 292.50,176.7 293.00,177.5 293.50,177.7 294.00,178.3 294.50,178.2 295.00,178.5 295.50,178.3 296.00,178.7 296.50,178.1 297.00,178.3 297.50,178.7 298.00,178.2 298.50,176.9 299.00,176.2 299.50,177.3 300.00,177.6 300.50,178.3 301.00,178.4 301.50,178.3 302.00,178.3 302.50,178.4 303.00,178.7 303.50,178.9 304.00,178.0 304.50,178.6 305.00,178.5 305.50,179.1 306.00,178.7 306.50,178.2 307.00,178.2 307.50,178.5 308.00,178.2 308.50,177.0 309.00,176.3 309.50,176.9 310.00,178.7 310.50,179.0 311.00,178.7 311.50,178.6 312.00,178.6 312.50,178.2 312.80,178.2 313.05,172.0 313.15,172.0 313.40,178.5 313.50,178.6 314.00,178.6 314.50,178.7 315.00,178.7 315.50,179.1 316.00,179.1 316.50,179.2 317.00,178.9 317.50,179.3 318.00,179.0 318.50,179.2 319.00,179.0 319.50,178.9 320.00,179.8 320.50,179.7 321.00,179.3 321.50,179.5 322.00,179.7 322.50,179.4 323.00,179.0 323.50,178.6 324.00,178.7 324.50,179.7 325.00,179.5 325.50,179.3 326.00,179.4 326.50,179.0 327.00,179.2 327.50,178.9 328.00,179.4 328.50,179.9 329.00,179.6 329.50,179.8 330.00,180.2 330.50,179.4 331.00,179.3 331.50,179.1 332.00,179.2 332.50,179.9 333.00,179.9 333.50,178.9 334.00,179.3 334.50,179.3 335.00,178.4 335.40,178.7 335.65,174.2 335.75,174.2 336.00,178.9 336.00,178.9 336.50,178.6 337.00,178.7 337.20,178.6 337.45,175.5 337.55,175.5 337.80,178.5 338.00,178.5 338.50,179.1 339.00,178.9 339.50,178.9 340.00,179.2 340.50,179.5 341.00,179.7 341.50,179.8 342.00,179.8 342.50,179.5 343.00,179.4 343.50,179.2 344.00,179.7 344.50,179.9 345.00,179.9 345.50,179.4 346.00,179.5 346.50,179.5 347.00,180.1 347.50,179.6 348.00,179.4 348.50,179.6 349.00,179.7 349.50,179.5 350.00,179.6 350.50,179.5 351.00,179.3 351.50,179.7 352.00,179.8 352.50,179.6 353.00,179.9 353.50,179.4 354.00,179.4 354.50,179.9 355.00,179.9 355.50,179.7 356.00,179.6 356.50,179.9 357.00,179.9 357.50,179.8 358.00,179.8 358.50,180.0 359.00,179.6 359.50,179.5 360.00,179.3 360.50,179.6 361.00,179.6 361.50,179.8 362.00,179.4 362.50,180.0 363.00,179.9 363.50,179.9 364.00,179.4 364.50,179.9 365.00,179.9 365.50,179.5 366.00,179.9 366.50,180.1 367.00,179.9 367.50,179.8 368.00,179.9 368.50,180.2 369.00,180.2 369.50,180.1 370.00,180.1 370.50,179.8 371.00,179.7 371.50,179.9 372.00,180.0 372.50,180.2 373.00,180.3 373.50,180.2 374.00,180.1 374.50,179.7 375.00,180.3 375.50,180.3 376.00,179.6 376.50,179.9 377.00,180.0 377.50,180.0 378.00,179.7 378.50,180.0 379.00,180.1 379.50,180.1 380.00,180.2 380.50,180.0 381.00,180.1 381.50,180.1 382.00,180.5 382.50,180.8 383.00,180.2 383.50,180.2 384.00,180.3 384.50,179.8 385.00,180.1 385.50,180.3 386.00,179.8 386.50,180.2 387.00,180.5 387.50,180.5 388.00,180.2 388.50,179.8 389.00,178.8 389.50,177.8 390.00,176.7 390.50,175.8 391.00,175.1 391.50,175.5 392.00,176.9 392.50,178.4 393.00,179.7 393.50,180.2 394.00,180.1 394.50,180.0 395.00,180.4 395.50,180.4 396.00,180.3 396.50,180.4 397.00,180.7 397.50,180.4 398.00,180.6 398.50,180.7 399.00,180.6 399.50,180.8 400.00,180.4 400.50,180.2 401.00,180.3 401.50,180.4 402.00,180.6 402.50,180.6 403.00,180.5 403.50,180.6 404.00,181.8 404.50,180.5 405.00,180.5 405.50,180.4 406.00,180.6 406.50,180.3 407.00,180.3 407.50,180.4 408.00,180.4 408.50,180.4 409.00,180.6 409.50,181.7 410.00,181.5 410.50,181.5 411.00,181.6 411.50,181.6 412.00,181.6 412.50,180.5 413.00,180.5 413.50,180.7 414.00,180.7 414.50,180.7 415.00,180.7 415.50,180.5 416.00,180.4 416.50,180.4 417.00,180.4 417.50,180.7 418.00,180.7 418.50,180.6 419.00,180.5 419.50,180.6 420.00,180.7 420.50,180.8 421.00,180.9 421.50,180.8 422.00,180.7 422.50,180.5 423.00,180.7 423.50,180.7 424.00,180.7 424.50,180.7 425.00,180.9 425.50,180.8 426.00,180.8 426.50,180.8 427.00,180.7 427.50,180.7 428.00,181.8 428.50,181.9 429.00,182.0 429.50,180.8 430.00,180.7 430.50,180.8 431.00,180.9 431.50,180.9 432.00,180.8 432.50,180.8 433.00,180.7 433.50,180.9 434.00,180.9 434.50,181.7 435.00,181.7 435.50,181.7 436.00,181.8 436.50,180.9 437.00,181.0 437.50,181.1 438.00,180.8 438.50,180.9 439.00,180.8 439.50,181.8 440.00,182.0 440.50,180.9 441.00,180.9 441.50,180.9 442.00,180.7 442.50,180.9 443.00,180.9 443.50,180.9 444.00,181.8 444.50,181.9 445.00,181.2 445.50,181.0 446.00,181.0 446.50,180.9 447.00,180.9 447.50,181.0 448.00,181.0 448.50,181.0 449.00,181.1 449.50,181.1 450.00,180.5 450.50,179.8 451.00,179.5 451.50,179.7 452.00,180.7 452.50,181.0 453.00,181.0 453.50,181.0 454.00,181.0 454.50,181.1 455.00,181.1 455.50,180.9 456.00,181.0 456.50,181.1 457.00,181.1 457.50,181.1 458.00,181.2 458.50,180.9 459.00,181.2 459.50,182.3 460.00,182.0 460.50,182.3 461.00,182.4 461.50,182.4 462.00,182.2 462.50,181.2 463.00,181.2 463.50,181.4 464.00,181.2 464.50,181.2 465.00,181.3 465.50,181.3 466.00,181.2 466.50,181.3 467.00,181.3 467.50,181.3 468.00,181.3 468.50,181.3 469.00,181.2 469.50,181.4 470.00,181.3 470.50,181.1 471.00,181.1 471.50,181.3 472.00,182.1 472.50,181.2 473.00,181.2 473.50,181.3 474.00,181.3 474.50,181.3 475.00,181.3 475.50,181.4 476.00,181.3 476.50,181.3 477.00,181.4 477.50,181.3 478.00,181.2 478.50,181.4 479.00,181.3 479.50,181.5 480.00,181.5 480.50,181.5 481.00,181.3 481.50,181.3 482.00,182.1 482.50,182.2 483.00,182.3 483.50,182.2 484.00,182.3 484.50,182.2 485.00,181.3 485.50,181.4 486.00,181.4 486.50,181.4 487.00,181.4 487.50,181.4 488.00,181.4 488.50,181.4 489.00,181.4 489.50,181.3 490.00,181.4 490.50,182.6 491.00,182.4 491.50,182.5 492.00,181.3 492.50,181.2 493.00,181.3 493.50,181.4 494.00,181.4 494.50,181.6 495.00,181.4 495.50,181.3 496.00,182.4 496.50,182.4 497.00,182.4 497.50,182.5 498.00,181.3 498.50,181.5 499.00,182.7 499.50,182.7 500.00,182.6 500.50,182.6 501.00,182.5 501.50,182.4 502.00,181.3 502.50,181.4 503.00,181.3 503.50,181.3 504.00,181.3 504.50,181.2 505.00,181.3 505.50,181.4 506.00,181.3 506.50,181.4 507.00,181.4 507.50,181.3 508.00,181.5 508.50,181.4 509.00,181.6 509.50,181.7 510.00,181.5 510.50,181.5 511.00,181.6 511.50,181.5 512.00,181.4 512.50,181.6 513.00,181.6 513.50,181.5 514.00,181.4 514.50,181.4 515.00,181.5 515.50,181.5 516.00,181.4 516.50,181.3 517.00,181.3 517.50,181.4 518.00,181.5 518.50,181.4 519.00,181.5 519.50,181.4 520.00,181.5 520.50,181.4 521.00,181.6 521.50,181.5 522.00,181.4 522.50,181.5 523.00,181.5 523.50,181.5 524.00,181.4 524.50,181.4 525.00,181.3 525.50,181.3 526.00,181.4 526.50,181.4 527.00,181.4 527.50,181.6 528.00,181.5 528.50,181.5 529.00,182.6 529.50,182.5 530.00,181.5 530.50,181.7 531.00,181.4 531.50,181.4 532.00,181.5 532.50,181.5 533.00,181.4 533.50,181.3 534.00,182.7 534.50,183.0 535.00,181.7 535.50,181.6 536.00,181.4 536.50,181.4 537.00,181.5 537.50,181.6 538.00,181.4 538.50,181.3 539.00,181.5 539.50,182.5 540.00,182.5 540.50,182.5 541.00,181.5 541.50,181.5 542.00,181.4 542.50,181.6 543.00,182.8 543.50,182.6 544.00,181.4 544.50,181.5 545.00,182.5 545.50,182.7 546.00,181.5 546.50,181.5 547.00,182.8 547.50,182.7 548.00,182.8 548.50,181.6 549.00,181.7 549.50,181.4 550.00,181.4 550.50,181.4 551.00,182.7 551.50,182.7 552.00,182.8 552.50,182.9 553.00,182.8 553.50,182.8 554.00,181.5 554.50,181.7 555.00,181.8 555.50,182.9 556.00,182.8 556.50,181.7 557.00,181.6 557.50,181.6 558.00,181.6 558.50,181.5 559.00,181.4 559.50,181.5 560.00,182.9 560.50,181.7 561.00,181.7 561.50,181.7 562.00,181.7 562.50,181.7 563.00,181.7 563.50,181.8 564.00,182.9 564.50,182.7 565.00,181.5 565.50,181.6 566.00,181.6 566.50,181.5 567.00,181.6 567.50,181.7" fill="none" stroke="#000" stroke-width="1.3" stroke-linejoin="round"/>
<polyline points="13.50,216.0 14.00,215.7 14.50,215.4 15.00,214.9 15.50,215.4 16.00,215.9 16.50,215.7 17.00,215.6 17.50,215.1 18.00,216.2 18.50,216.4 19.00,215.9 19.50,216.2 20.00,216.3 20.50,216.2 21.00,216.1 21.50,216.2 22.00,216.5 22.50,216.7 23.00,216.9 23.50,216.7 24.00,216.9 24.50,216.6 25.00,215.8 25.50,215.6 26.00,216.7 26.50,216.1 27.00,216.0 27.50,216.5 28.00,217.2 28.50,216.1 29.00,215.9 29.50,216.3 30.00,216.5 30.50,216.9 31.00,217.5 31.50,217.6 32.00,218.6 32.50,218.5 33.00,217.0 33.50,216.4 34.00,217.0 34.50,217.3 35.00,218.0 35.50,218.1 36.00,218.2 36.50,217.9 37.00,218.0 37.50,218.1 38.00,217.9 38.50,218.2 39.00,217.5 39.50,218.1 40.00,218.3 40.40,219.0 40.65,211.5 40.75,211.5 41.00,218.4 41.50,217.5 42.00,218.1 42.50,218.8 43.00,218.8 43.50,218.6 44.00,219.0 44.50,218.8 45.00,219.8 45.50,219.2 46.00,219.7 46.50,220.4 47.00,220.3 47.50,220.7 48.00,220.5 48.50,220.6 49.00,220.1 49.50,219.6 50.00,220.0 50.50,220.5 51.00,221.1 51.50,220.3 52.00,220.2 52.50,220.4 53.00,221.1 53.50,220.9 54.00,221.5 54.50,221.3 55.00,221.0 55.50,221.1 56.00,220.7 56.50,220.1 57.00,220.7 57.40,221.0 57.65,216.7 57.75,216.7 58.00,222.4 58.50,222.6 59.00,222.8 59.50,222.9 60.00,222.8 60.50,222.3 61.00,222.3 61.50,223.7 62.00,223.5 62.50,223.3 63.00,223.9 63.50,223.9 64.00,223.8 64.50,225.0 65.00,224.8 65.50,224.3 66.00,224.3 66.50,224.3 67.00,224.8 67.50,225.3 68.00,224.9 68.50,225.0 69.00,224.6 69.50,225.0 70.00,225.9 70.50,225.5 71.00,225.7 71.50,225.7 72.00,225.8 72.50,226.3 73.00,226.0 73.50,226.7 74.00,227.3 74.50,227.4 75.00,226.6 75.50,225.8 76.00,226.3 76.50,227.0 77.00,227.1 77.50,227.1 78.00,227.3 78.50,227.3 79.00,227.7 79.50,227.1 80.00,227.6 80.50,228.1 81.00,227.8 81.50,229.5 82.00,229.0 82.50,228.3 83.00,227.6 83.50,227.9 84.00,228.0 84.20,228.2 84.45,223.7 84.55,223.7 84.80,228.2 85.00,228.0 85.50,228.7 86.00,228.1 86.50,228.4 87.00,228.0 87.50,228.5 88.00,229.2 88.50,228.4 89.00,229.0 89.50,229.4 90.00,228.5 90.50,228.5 91.00,228.9 91.50,229.5 92.00,230.1 92.50,229.5 93.00,229.0 93.50,229.2 94.00,228.4 94.50,229.4 95.00,229.8 95.50,229.7 96.00,230.4 96.50,230.1 97.00,229.5 97.50,230.0 98.00,229.0 98.50,228.0 99.00,227.1 99.25,203.6 99.35,203.6 99.60,227.4 100.00,228.2 100.50,229.4 101.00,229.6 101.50,230.8 102.00,230.7 102.50,230.5 103.00,231.1 103.50,230.8 104.00,230.9 104.50,230.9 105.00,229.8 105.50,228.5 106.00,229.7 106.50,230.7 107.00,230.8 107.50,230.8 108.00,231.4 108.50,231.2 109.00,231.9 109.50,232.2 110.00,232.0 110.50,232.2 111.00,232.2 111.50,231.5 112.00,232.5 112.50,231.5 113.00,231.4 113.50,230.9 114.00,231.2 114.50,231.4 115.00,231.0 115.50,231.6 116.00,231.7 116.50,231.2 117.00,229.8 117.50,230.0 118.00,230.4 118.50,231.4 119.00,231.1 119.50,232.0 120.00,231.8 120.50,232.1 121.00,231.7 121.50,231.6 122.00,231.9 122.50,231.8 123.00,232.6 123.50,232.0 124.00,231.1 124.50,230.8 125.00,230.1 125.50,230.0 126.00,231.0 126.50,232.0 127.00,232.0 127.50,232.3 128.00,231.5 128.50,231.7 129.00,231.5 129.50,231.2 130.00,230.3 130.50,228.9 131.00,230.0 131.50,230.9 132.00,231.8 132.50,232.1 133.00,232.7 133.50,231.9 134.00,231.1 134.50,231.8 135.00,231.5 135.50,232.1 136.00,231.2 136.50,230.2 137.00,230.3 137.50,230.2 138.00,231.0 138.50,231.7 139.00,231.2 139.50,231.4 140.00,231.1 140.50,231.4 141.00,232.4 141.50,232.6 142.00,231.9 142.50,231.6 143.00,231.3 143.50,231.8 144.00,231.7 144.50,230.0 145.00,229.3 145.50,229.8 146.00,231.1 146.50,231.7 147.00,231.7 147.50,231.9 148.00,232.0 148.50,231.7 149.00,231.4 149.50,230.2 150.00,230.0 150.50,230.9 151.00,230.4 151.50,231.8 152.00,231.9 152.50,231.9 153.00,231.7 153.50,232.2 154.00,231.7 154.50,231.4 155.00,230.8 155.30,230.8 155.55,225.5 155.65,225.5 155.90,231.0 156.00,231.1 156.50,230.8 157.00,231.1 157.50,230.6 158.00,229.7 158.50,229.4 159.00,230.0 159.50,231.5 160.00,231.3 160.50,230.8 161.00,230.8 161.10,230.7 161.35,226.7 161.45,226.7 161.70,230.6 162.00,230.9 162.50,230.8 163.00,230.7 163.50,231.1 164.00,230.9 164.50,230.8 165.00,230.3 165.50,229.4 166.00,228.8 166.50,229.3 167.00,230.0 167.50,231.0 168.00,231.8 168.50,230.8 168.70,230.5 168.95,227.5 169.05,227.5 169.30,230.6 169.50,230.9 170.00,230.7 170.50,230.4 171.00,231.0 171.50,230.2 172.00,230.3 172.50,229.2 173.00,228.5 173.40,228.0 173.65,207.1 173.75,207.1 174.00,227.5 174.00,227.5 174.50,229.0 175.00,228.8 175.50,229.8 175.50,229.8 175.75,224.0 175.85,224.0 176.10,230.0 176.50,230.7 177.00,229.3 177.50,228.7 178.00,229.2 178.50,228.6 179.00,229.7 179.50,231.2 180.00,233.5 180.50,232.0 181.00,230.4 181.50,230.6 182.00,230.2 182.50,228.8 183.00,227.4 183.50,229.9 184.00,229.7 184.50,230.3 185.00,229.7 185.50,228.9 186.00,230.8 186.50,230.3 187.00,231.2 187.50,231.5 188.00,230.6 188.50,231.4 189.00,230.4 189.50,231.0 190.00,231.8 190.00,231.8 190.25,226.0 190.35,226.0 190.60,230.4 191.00,230.7 191.50,232.4 192.00,231.9 192.50,230.2 192.70,230.6 192.95,226.0 193.05,226.0 193.30,231.4 193.50,231.4 194.00,231.5 194.50,230.6 195.00,231.1 195.30,231.3 195.55,226.5 195.65,226.5 195.90,230.7 196.00,230.5 196.50,231.5 197.00,231.1 197.50,230.2 198.00,229.7 198.50,229.5 199.00,230.1 199.50,232.4 200.00,233.0 200.50,231.8 201.00,232.6 201.50,232.7 202.00,232.4 202.50,231.4 203.00,230.3 203.50,230.6 204.00,229.4 204.00,229.4 204.25,207.1 204.35,207.1 204.60,229.0 205.00,230.0 205.50,230.0 206.00,230.8 206.50,230.1 207.00,231.3 207.50,229.8 208.00,230.6 208.50,231.2 209.00,230.5 209.50,232.8 210.00,233.3 210.50,231.1 211.00,230.1 211.50,230.7 212.00,231.6 212.50,231.9 213.00,232.4 213.50,233.2 214.00,232.6 214.50,231.9 215.00,230.0 215.50,232.0 216.00,232.3 216.50,231.8 217.00,231.9 217.50,232.9 218.00,232.6 218.50,231.0 219.00,231.0 219.50,233.5 220.00,233.8 220.50,233.3 221.00,232.7 221.50,232.8 222.00,231.8 222.50,232.6 223.00,232.9 223.50,234.4 224.00,234.1 224.50,235.3 225.00,235.8 225.50,235.3 226.00,235.6 226.50,235.9 227.00,235.0 227.50,235.6 228.00,235.7 228.50,235.7 229.00,235.2 229.50,235.0 230.00,235.5 230.50,235.2 231.00,235.0 231.50,235.4 232.00,234.7 232.50,234.2 233.00,235.3 233.50,235.8 234.00,236.1 234.50,235.8 235.00,234.9 235.50,235.3 236.00,235.6 236.50,235.7 237.00,235.7 237.50,235.5 238.00,235.4 238.50,234.5 238.70,234.6 238.95,230.2 239.05,230.2 239.30,234.5 239.50,234.3 240.00,234.5 240.50,235.3 241.00,235.1 241.50,234.6 242.00,234.8 242.50,235.4 243.00,235.7 243.50,235.6 244.00,235.7 244.50,234.7 245.00,234.9 245.50,235.6 246.00,235.4 246.50,235.5 247.00,235.2 247.50,235.2 248.00,235.8 248.50,235.3 249.00,236.0 249.50,235.7 250.00,234.9 250.50,234.7 251.00,233.7 251.50,234.3 252.00,235.4 252.50,235.3 253.00,235.3 253.50,235.4 254.00,235.4 254.50,235.2 255.00,235.7 255.50,235.7 256.00,235.2 256.50,235.2 257.00,235.8 257.50,235.3 258.00,235.3 258.50,236.0 259.00,236.1 259.50,235.7 260.00,235.8 260.50,235.8 261.00,236.5 261.50,236.2 262.00,235.4 262.50,233.9 263.00,233.2 263.50,234.0 264.00,234.9 264.50,235.5 265.00,235.7 265.50,235.6 266.00,235.5 266.50,235.2 267.00,235.2 267.50,236.2 268.00,236.5 268.50,236.1 269.00,236.0 269.50,235.9 270.00,235.5 270.50,235.7 271.00,235.2 271.50,235.5 272.00,235.4 272.50,235.5 273.00,236.1 273.50,235.9 274.00,235.7 274.50,236.0 275.00,236.0 275.50,236.4 276.00,236.2 276.50,236.3 277.00,235.9 277.50,235.6 278.00,236.0 278.50,236.3 279.00,235.6 279.50,235.2 280.00,235.5 280.50,236.2 281.00,235.8 281.50,235.9 282.00,236.6 282.50,236.4 283.00,236.0 283.50,236.0 284.00,236.3 284.50,235.5 285.00,235.4 285.50,235.8 286.00,236.6 286.50,236.9 287.00,236.1 287.50,235.7 288.00,234.9 288.50,234.5 288.60,234.5 288.85,225.5 288.95,225.5 289.20,234.8 289.50,234.8 290.00,235.5 290.50,235.8 291.00,235.5 291.50,234.6 292.00,233.6 292.50,234.4 293.00,235.6 293.50,235.9 294.00,236.1 294.50,236.1 295.00,235.9 295.50,235.9 296.00,235.9 296.50,235.6 297.00,236.5 297.50,235.7 298.00,235.5 298.50,234.1 299.00,232.8 299.50,234.0 300.00,235.2 300.50,235.9 301.00,236.8 301.50,236.9 302.00,236.6 302.50,236.7 303.00,236.0 303.50,236.8 304.00,236.9 304.50,236.4 305.00,236.6 305.50,237.0 306.00,236.6 306.50,236.6 307.00,237.4 307.50,237.4 308.00,236.6 308.50,235.2 309.00,233.9 309.50,234.7 310.00,236.2 310.50,236.8 311.00,237.4 311.50,236.8 312.00,236.4 312.50,236.0 312.80,235.6 313.05,229.0 313.15,229.0 313.40,235.8 313.50,235.9 314.00,236.1 314.50,236.3 315.00,236.4 315.50,236.9 316.00,236.8 316.50,237.1 317.00,237.8 317.50,237.4 318.00,237.2 318.50,236.9 319.00,236.5 319.50,237.6 320.00,236.8 320.50,237.6 321.00,237.9 321.50,237.3 322.00,237.4 322.50,237.3 323.00,237.4 323.50,237.5 324.00,237.3 324.50,237.1 325.00,237.2 325.50,237.3 326.00,237.3 326.50,237.3 327.00,237.5 327.50,237.4 328.00,237.3 328.50,237.2 329.00,237.2 329.50,237.3 330.00,237.3 330.50,237.4 331.00,237.2 331.50,236.8 332.00,237.4 332.50,237.7 333.00,237.7 333.50,237.7 334.00,237.0 334.50,237.0 335.00,236.4 335.50,235.7 336.00,235.7 336.50,236.7 337.00,237.5 337.50,237.8 338.00,237.4 338.50,237.4 339.00,237.7 339.50,237.0 340.00,237.0 340.50,237.2 341.00,237.1 341.50,237.3 342.00,237.6 342.50,237.4 343.00,237.3 343.50,237.3 344.00,237.8 344.50,238.0 345.00,237.5 345.50,237.7 346.00,237.9 346.50,237.6 347.00,237.5 347.50,237.6 348.00,237.3 348.50,237.4 349.00,237.5 349.50,237.3 350.00,237.4 350.50,237.8 351.00,237.3 351.50,237.7 352.00,238.1 352.50,237.7 353.00,237.6 353.50,237.6 354.00,237.2 354.50,237.5 355.00,237.5 355.50,237.6 356.00,237.1 356.50,237.6 357.00,237.7 357.50,237.7 358.00,237.6 358.50,237.9 359.00,237.6 359.50,237.4 360.00,237.3 360.50,237.6 361.00,237.9 361.50,238.1 362.00,238.0 362.50,237.8 363.00,237.8 363.50,237.6 364.00,237.5 364.50,237.8 365.00,237.8 365.50,237.6 366.00,237.7 366.50,237.9 367.00,237.4 367.50,237.7 368.00,237.8 368.50,237.8 369.00,237.5 369.50,237.9 370.00,238.0 370.50,237.8 371.00,237.5 371.50,237.6 372.00,237.8 372.50,237.7 373.00,237.9 373.50,237.6 374.00,238.2 374.50,237.8 375.00,237.6 375.50,238.0 376.00,238.0 376.50,237.9 377.00,237.8 377.50,238.0 378.00,238.0 378.50,238.1 379.00,238.2 379.50,237.9 380.00,238.2 380.50,238.2 381.00,237.8 381.50,238.3 382.00,237.9 382.50,238.4 383.00,238.0 383.50,238.3 384.00,237.9 384.50,237.2 385.00,237.9 385.50,238.0 386.00,238.3 386.50,238.9 387.00,238.4 387.50,238.0 388.00,238.0 388.50,238.2 389.00,237.8 389.50,237.2 390.00,236.9 390.50,236.8 391.00,236.1 391.50,236.3 392.00,237.0 392.50,237.5 393.00,237.9 393.50,238.2 394.00,238.4 394.50,238.0 395.00,237.7 395.50,238.2 396.00,237.9 396.50,238.1 397.00,238.2 397.50,238.4 398.00,238.2 398.50,238.2 399.00,237.9 399.50,238.1 400.00,238.1 400.50,238.2 401.00,238.1 401.50,237.7 402.00,237.3 402.50,237.5 403.00,237.9 403.50,238.1 404.00,238.3 404.50,239.7 405.00,239.7 405.50,239.6 406.00,239.5 406.50,239.4 407.00,239.6 407.50,238.3 408.00,238.3 408.50,238.4 409.00,239.9 409.50,238.4 410.00,238.3 410.50,238.3 411.00,238.4 411.50,238.3 412.00,238.2 412.50,239.7 413.00,239.7 413.50,239.7 414.00,239.8 414.50,238.5 415.00,238.6 415.50,238.5 416.00,238.4 416.50,238.4 417.00,239.6 417.50,239.6 418.00,238.6 418.50,238.5 419.00,238.4 419.50,238.4 420.00,238.6 420.50,238.6 421.00,238.7 421.50,238.7 422.00,238.6 422.50,238.5 423.00,238.5 423.50,238.6 424.00,238.7 424.50,239.6 425.00,239.6 425.50,239.6 426.00,239.5 426.50,238.6 427.00,238.6 427.50,238.6 428.00,238.6 428.50,238.6 429.00,238.6 429.50,238.6 430.00,238.7 430.50,238.8 431.00,238.8 431.50,238.7 432.00,238.7 432.50,238.9 433.00,238.9 433.50,238.8 434.00,238.8 434.50,238.9 435.00,238.8 435.50,238.7 436.00,238.8 436.50,238.8 437.00,238.8 437.50,239.0 438.00,238.9 438.50,238.8 439.00,238.8 439.50,238.7 440.00,238.7 440.50,238.8 441.00,238.9 441.50,239.1 442.00,239.1 442.50,239.1 443.00,239.0 443.50,238.8 444.00,238.8 444.50,238.9 445.00,238.9 445.50,238.9 446.00,239.1 446.50,239.1 447.00,239.1 447.50,239.2 448.00,239.0 448.50,238.9 449.00,239.1 449.50,239.2 450.00,239.0 450.50,239.0 451.00,239.2 451.50,239.2 452.00,239.3 452.50,239.1 453.00,239.1 453.50,239.2 454.00,240.4 454.50,240.4 455.00,240.4 455.50,240.4 456.00,239.2 456.50,239.3 457.00,240.1 457.50,240.1 458.00,240.1 458.50,239.3 459.00,239.3 459.50,239.2 460.00,239.0 460.50,240.2 461.00,240.3 461.50,239.4 462.00,239.4 462.50,239.2 463.00,239.1 463.50,239.2 464.00,239.3 464.50,239.4 465.00,239.4 465.50,239.4 466.00,239.3 466.50,239.3 467.00,239.4 467.50,239.3 468.00,239.3 468.50,239.3 469.00,239.3 469.50,239.3 470.00,239.3 470.50,239.3 471.00,239.3 471.50,239.4 472.00,239.3 472.50,239.4 473.00,240.4 473.50,239.3 474.00,239.2 474.50,239.3 475.00,239.3 475.50,239.2 476.00,239.3 476.50,239.4 477.00,239.4 477.50,239.4 478.00,239.5 478.50,239.5 479.00,239.5 479.50,239.4 480.00,239.2 480.50,239.4 481.00,239.5 481.50,239.5 482.00,240.9 482.50,240.8 483.00,239.5 483.50,239.4 484.00,239.4 484.50,239.4 485.00,239.5 485.50,239.4 486.00,239.6 486.50,239.4 487.00,239.4 487.50,239.5 488.00,239.5 488.50,239.5 489.00,239.4 489.50,239.4 490.00,239.6 490.50,239.6 491.00,239.4 491.50,239.4 492.00,239.7 492.50,239.5 493.00,239.5 493.50,239.7 494.00,239.7 494.50,239.5 495.00,239.4 495.50,239.5 496.00,239.5 496.50,239.5 497.00,239.5 497.50,239.5 498.00,239.5 498.50,239.6 499.00,239.5 499.50,239.6 500.00,239.4 500.50,239.5 501.00,240.4 501.50,240.3 502.00,239.4 502.50,239.6 503.00,240.8 503.50,240.7 504.00,239.4 504.50,239.5 505.00,239.5 505.50,239.5 506.00,239.5 506.50,239.5 507.00,239.6 507.50,239.4 508.00,239.6 508.50,239.8 509.00,239.6 509.50,239.5 510.00,240.4 510.50,239.5 511.00,239.5 511.50,239.5 512.00,240.6 512.50,240.6 513.00,240.7 513.50,240.7 514.00,239.4 514.50,239.4 515.00,239.6 515.50,239.7 516.00,239.7 516.50,239.6 517.00,239.6 517.50,239.5 518.00,239.6 518.50,239.7 519.00,239.6 519.50,239.7 520.00,239.6 520.50,239.6 521.00,239.6 521.50,239.5 522.00,239.6 522.50,239.7 523.00,239.6 523.50,239.7 524.00,239.7 524.50,239.6 525.00,239.7 525.50,239.7 526.00,239.8 526.50,239.6 527.00,239.6 527.50,239.6 528.00,239.7 528.50,240.9 529.00,239.6 529.50,239.7 530.00,239.5 530.50,239.5 531.00,239.7 531.50,239.8 532.00,239.6 532.50,240.6 533.00,240.7 533.50,240.5 534.00,240.6 534.50,239.7 535.00,239.8 535.50,239.6 536.00,239.6 536.50,239.6 537.00,239.6 537.50,239.6 538.00,239.7 538.50,239.6 539.00,239.5 539.50,239.6 540.00,239.8 540.50,239.8 541.00,239.9 541.50,239.7 542.00,239.5 542.50,239.5 543.00,239.7 543.50,239.6 544.00,239.7 544.50,239.6 545.00,239.8 545.50,239.7 546.00,239.7 546.50,240.9 547.00,241.1 547.50,239.6 548.00,239.5 548.50,239.7 549.00,239.7 549.50,239.7 550.00,239.8 550.50,239.7 551.00,239.8 551.50,239.8 552.00,239.7 552.50,239.8 553.00,239.8 553.50,239.7 554.00,239.8 554.50,239.8 555.00,239.8 555.50,239.7 556.00,239.6 556.50,239.6 557.00,239.6 557.50,239.6 558.00,239.8 558.50,239.9 559.00,239.9 559.50,239.8 560.00,239.6 560.50,239.8 561.00,239.8 561.50,239.7 562.00,239.8 562.50,239.8 563.00,239.9 563.50,239.7 564.00,239.7 564.50,239.8 565.00,239.7 565.50,239.7 566.00,240.5 566.50,240.5 567.00,240.8 567.50,240.8" fill="none" stroke="#000" stroke-width="1.3" stroke-linejoin="round"/>
<polyline points="13.50,272.5 14.00,272.0 14.50,271.8 15.00,271.6 15.50,271.5 16.00,272.5 16.50,272.4 17.00,272.1 17.50,272.6 18.00,273.3 18.50,273.1 19.00,273.0 19.50,272.3 20.00,272.9 20.50,273.1 21.00,272.3 21.50,272.1 22.00,272.8 22.50,272.4 23.00,272.1 23.50,272.2 24.00,272.9 24.50,272.7 25.00,272.7 25.50,273.2 26.00,273.7 26.50,273.8 27.00,273.7 27.50,273.6 28.00,272.6 28.50,272.9 29.00,273.7 29.50,273.9 30.00,273.3 30.50,273.6 31.00,273.5 31.50,273.5 32.00,273.4 32.50,273.1 33.00,272.7 33.50,272.7 34.00,273.2 34.50,274.8 35.00,273.5 35.50,273.6 36.00,274.3 36.50,274.4 37.00,274.1 37.50,274.1 38.00,274.2 38.50,273.8 39.00,273.5 39.50,273.3 40.00,272.9 40.40,272.6 40.65,259.5 40.75,259.5 41.00,272.3 41.50,273.5 42.00,274.2 42.50,274.1 43.00,273.6 43.50,273.6 44.00,274.2 44.50,274.5 45.00,274.4 45.50,274.9 46.00,273.9 46.50,274.0 47.00,273.2 47.50,274.4 48.00,274.9 48.50,274.6 49.00,275.2 49.50,275.6 50.00,275.8 50.50,276.2 51.00,276.1 51.50,275.7 52.00,276.1 52.50,276.9 53.00,277.1 53.50,276.1 54.00,276.0 54.50,276.4 55.00,276.7 55.50,276.0 56.00,276.4 56.50,276.7 57.00,276.7 57.50,278.1 58.00,278.2 58.50,278.1 59.00,278.4 59.50,278.2 60.00,278.6 60.50,278.9 61.00,278.9 61.50,278.9 62.00,279.3 62.50,279.3 63.00,279.1 63.50,279.3 64.00,279.6 64.50,279.4 65.00,279.6 65.50,279.5 66.00,279.8 66.50,280.3 67.00,280.8 67.50,281.4 68.00,281.3 68.50,280.4 69.00,280.4 69.50,279.8 70.00,280.3 70.50,280.6 71.00,281.1 71.50,281.5 72.00,282.0 72.50,281.9 73.00,281.1 73.50,281.4 74.00,282.7 74.50,282.6 75.00,282.5 75.50,282.4 76.00,281.3 76.50,281.8 77.00,282.4 77.50,282.0 78.00,282.2 78.50,283.0 79.00,283.0 79.50,282.9 80.00,282.9 80.50,283.1 81.00,283.4 81.50,283.4 82.00,282.9 82.50,282.7 83.00,282.3 83.50,282.9 84.00,282.6 84.20,282.7 84.45,273.5 84.55,273.5 84.80,283.0 85.00,283.2 85.50,282.7 86.00,283.1 86.50,283.8 87.00,283.0 87.50,283.5 88.00,283.8 88.50,283.6 89.00,284.0 89.50,283.5 90.00,283.8 90.50,284.6 91.00,284.1 91.50,284.5 92.00,284.1 92.50,284.0 93.00,284.6 93.50,284.6 94.00,284.8 94.50,285.0 95.00,285.3 95.50,284.3 96.00,285.0 96.50,284.8 97.00,284.7 97.50,284.5 98.00,285.3 98.50,285.2 99.00,284.1 99.50,284.2 100.00,284.5 100.50,284.7 101.00,285.0 101.50,285.2 102.00,285.0 102.50,285.0 103.00,285.0 103.50,284.8 104.00,285.4 104.30,285.3 104.55,281.4 104.65,281.4 104.90,285.2 105.00,285.1 105.50,285.5 106.00,285.3 106.50,286.1 107.00,286.0 107.50,286.3 108.00,286.0 108.50,286.3 109.00,286.2 109.50,285.8 110.00,285.7 110.50,285.4 111.00,286.2 111.50,285.9 112.00,285.4 112.50,286.5 113.00,286.4 113.50,286.5 114.00,286.5 114.50,285.9 115.00,286.2 115.50,287.0 116.00,286.7 116.50,285.8 117.00,286.8 117.50,286.9 118.00,286.9 118.50,286.6 119.00,286.9 119.50,286.5 120.00,286.1 120.50,287.0 121.00,287.2 121.50,287.6 122.00,286.8 122.50,286.8 123.00,286.6 123.50,287.6 124.00,287.1 124.50,287.1 125.00,286.6 125.50,286.6 126.00,286.7 126.50,287.0 127.00,287.0 127.50,287.5 128.00,287.4 128.50,287.6 129.00,287.0 129.50,286.8 130.00,285.8 130.50,286.0 130.80,285.9 131.05,277.0 131.15,277.0 131.40,285.0 131.50,284.8 132.00,285.8 132.50,286.3 133.00,286.8 133.50,285.3 134.00,284.5 134.50,285.4 135.00,286.7 135.50,287.8 136.00,287.4 136.50,286.7 137.00,287.0 137.50,286.9 138.00,286.8 138.50,286.8 139.00,286.3 139.50,286.9 140.00,287.2 140.50,287.0 141.00,286.8 141.50,286.6 142.00,286.9 142.50,286.6 143.00,286.4 143.50,286.8 144.00,286.0 144.50,285.4 145.00,284.8 145.50,285.3 146.00,286.3 146.50,286.8 147.00,286.8 147.50,286.1 148.00,286.0 148.50,286.3 149.00,285.7 149.50,283.9 150.00,283.3 150.50,284.6 151.00,286.2 151.50,286.9 152.00,287.7 152.50,286.5 153.00,285.9 153.50,286.0 154.00,286.1 154.50,286.0 155.00,286.4 155.30,286.0 155.55,279.1 155.65,279.1 155.90,286.0 156.00,286.0 156.50,286.2 157.00,285.6 157.50,283.7 158.00,283.6 158.50,284.5 159.00,284.8 159.50,286.2 160.00,286.1 160.50,286.0 161.00,286.2 161.50,285.1 162.00,284.0 162.50,284.5 163.00,285.8 163.50,286.2 164.00,286.0 164.50,286.3 165.00,286.6 165.50,286.1 166.00,285.4 166.50,285.5 167.00,284.7 167.50,284.1 168.00,283.7 168.50,283.5 169.00,283.9 169.50,285.5 170.00,285.0 170.50,284.9 170.70,284.8 170.95,281.4 171.05,281.4 171.30,284.4 171.50,284.1 172.00,283.8 172.50,282.2 172.90,281.5 173.15,253.9 173.25,253.9 173.50,281.3 173.50,281.3 174.00,282.4 174.50,282.2 175.00,282.6 175.00,282.6 175.25,273.5 175.35,273.5 175.60,283.1 176.00,283.0 176.50,281.6 177.00,282.2 177.20,282.4 177.45,280.0 177.55,280.0 177.80,283.2 178.00,283.5 178.50,282.9 179.00,282.3 179.50,283.6 180.00,284.0 180.50,283.7 181.00,284.4 181.50,284.3 182.00,283.7 182.50,281.1 183.00,282.1 183.50,282.4 184.00,283.0 184.50,284.3 185.00,284.0 185.50,284.1 186.00,284.3 186.50,285.6 187.00,284.9 187.50,282.2 188.00,282.7 188.50,283.6 189.00,283.9 189.50,283.7 190.00,284.5 190.50,284.5 191.00,284.3 191.50,283.4 191.80,282.7 192.05,277.9 192.15,277.9 192.40,283.4 192.50,283.7 193.00,283.2 193.50,281.6 194.00,280.4 194.50,281.2 195.00,280.2 195.50,282.2 196.00,283.9 196.50,285.9 197.00,284.1 197.50,284.6 198.00,284.9 198.50,283.9 198.70,283.9 198.95,282.0 199.05,282.0 199.30,284.0 199.50,284.0 200.00,284.6 200.50,285.4 201.00,285.4 201.50,283.8 202.00,283.5 202.50,282.8 203.00,282.5 203.50,284.7 204.00,286.7 204.50,285.4 205.00,283.9 205.50,286.0 206.00,285.8 206.20,286.0 206.45,282.5 206.55,282.5 206.80,285.4 207.00,284.9 207.50,285.3 208.00,285.1 208.50,285.1 209.00,284.5 209.50,285.1 210.00,286.7 210.20,286.2 210.45,280.9 210.55,280.9 210.80,285.1 211.00,284.9 211.50,284.1 212.00,285.9 212.50,286.4 213.00,285.9 213.20,285.7 213.45,282.5 213.55,282.5 213.80,285.6 214.00,285.6 214.50,286.9 215.00,285.2 215.50,285.2 216.00,286.5 216.30,286.1 216.55,280.2 216.65,280.2 216.90,285.3 217.00,285.1 217.50,285.8 218.00,286.3 218.50,287.4 219.00,288.8 219.50,288.2 220.00,287.1 220.50,287.4 221.00,288.6 221.50,289.1 222.00,287.7 222.50,287.4 223.00,287.9 223.50,288.0 224.00,288.4 224.50,288.3 225.00,288.5 225.50,288.5 226.00,288.8 226.50,287.9 227.00,288.0 227.50,288.4 228.00,288.9 228.50,288.9 229.00,290.2 229.50,290.3 230.00,289.9 230.50,289.5 231.00,289.7 231.50,289.5 232.00,289.8 232.50,289.1 233.00,288.8 233.50,288.9 234.00,289.9 234.50,290.1 235.00,289.8 235.50,290.2 236.00,290.5 236.50,289.9 237.00,290.2 237.50,290.3 238.00,289.3 238.50,288.7 238.70,289.0 238.95,286.1 239.05,286.1 239.30,289.3 239.50,289.2 240.00,289.0 240.50,289.3 241.00,289.6 241.50,290.3 242.00,289.9 242.50,290.1 243.00,289.6 243.50,289.7 244.00,290.2 244.50,289.8 245.00,289.6 245.50,289.9 246.00,289.5 246.50,289.0 247.00,289.1 247.50,289.4 248.00,289.6 248.50,288.2 249.00,286.7 249.50,287.0 250.00,288.8 250.50,290.1 251.00,289.9 251.50,289.9 252.00,289.4 252.50,289.5 253.00,290.0 253.50,290.4 254.00,289.9 254.50,289.5 255.00,289.5 255.50,289.9 256.00,289.8 256.50,290.1 257.00,289.6 257.50,289.6 258.00,288.8 258.50,289.0 259.00,289.7 259.50,289.4 260.00,289.9 260.50,290.3 261.00,289.6 261.50,289.7 262.00,290.1 262.50,289.0 263.00,287.2 263.50,287.2 264.00,288.9 264.50,289.5 265.00,289.7 265.50,289.8 266.00,289.4 266.50,289.7 267.00,289.5 267.50,290.0 268.00,289.6 268.50,289.2 269.00,289.6 269.50,289.8 270.00,290.3 270.50,290.1 271.00,290.1 271.50,289.4 272.00,289.2 272.50,289.5 273.00,289.9 273.50,289.8 274.00,289.7 274.50,289.5 275.00,289.3 275.50,289.8 276.00,290.2 276.50,289.6 277.00,289.9 277.50,289.7 278.00,289.0 278.50,289.0 279.00,289.2 279.50,289.8 280.00,290.2 280.50,290.6 281.00,290.1 281.50,289.8 282.00,290.0 282.50,290.0 283.00,290.3 283.50,290.6 284.00,290.2 284.50,290.3 285.00,289.9 285.50,289.8 286.00,290.1 286.50,289.7 287.00,290.1 287.50,290.0 288.00,290.0 288.50,290.5 289.00,290.2 289.50,289.4 290.00,288.7 290.50,288.0 291.00,288.2 291.50,287.7 292.00,288.1 292.50,288.6 293.00,288.7 293.50,288.8 294.00,289.4 294.50,289.7 295.00,289.6 295.50,289.6 296.00,289.5 296.50,288.9 297.00,288.2 297.50,288.5 298.00,287.9 298.50,288.2 299.00,288.9 299.50,289.3 300.00,290.0 300.50,290.4 301.00,290.7 301.50,290.7 302.00,290.5 302.50,290.7 303.00,290.3 303.50,290.5 304.00,290.3 304.50,290.6 305.00,291.1 305.50,291.4 306.00,290.7 306.50,290.5 307.00,290.5 307.50,290.7 308.00,290.7 308.50,290.5 309.00,290.9 309.50,290.5 310.00,291.1 310.50,291.3 311.00,291.3 311.50,290.9 312.00,290.9 312.50,291.4 313.00,291.1 313.50,291.3 314.00,291.3 314.50,291.2 315.00,291.6 315.50,292.2 316.00,291.6 316.50,290.9 317.00,291.4 317.50,291.1 318.00,291.3 318.50,291.2 319.00,292.0 319.50,292.0 320.00,291.9 320.50,291.6 321.00,291.8 321.50,292.3 322.00,292.3 322.50,291.5 323.00,291.9 323.50,291.7 324.00,290.8 324.50,290.8 325.00,291.5 325.50,291.8 326.00,291.2 326.50,291.4 327.00,291.8 327.50,291.9 328.00,291.5 328.50,291.0 329.00,291.0 329.50,291.5 330.00,291.1 330.50,291.5 331.00,290.7 331.50,290.8 332.00,291.4 332.50,291.1 333.00,291.6 333.50,291.9 334.00,292.2 334.50,291.8 335.00,291.7 335.50,291.6 336.00,291.2 336.50,291.4 337.00,291.3 337.50,291.4 338.00,291.9 338.50,291.5 339.00,290.7 339.50,291.1 340.00,290.3 340.50,290.8 341.00,291.6 341.50,291.8 342.00,291.6 342.50,291.3 343.00,291.6 343.50,291.8 344.00,291.6 344.50,291.4 345.00,291.9 345.50,291.6 346.00,292.0 346.50,291.1 347.00,291.4 347.50,291.5 348.00,291.7 348.50,291.7 349.00,291.2 349.50,291.3 350.00,291.4 350.50,291.1 351.00,291.3 351.50,291.5 352.00,291.0 352.50,291.3 353.00,291.2 353.50,291.3 354.00,290.9 354.50,290.6 355.00,290.1 355.50,290.4 356.00,290.9 356.50,291.6 357.00,291.7 357.50,291.5 358.00,291.7 358.50,292.0 359.00,291.8 359.50,291.5 360.00,291.7 360.50,291.8 361.00,291.8 361.50,291.7 362.00,291.2 362.50,291.4 363.00,291.2 363.50,291.7 364.00,291.6 364.50,291.6 365.00,291.7 365.50,291.9 366.00,291.6 366.50,291.3 367.00,291.2 367.50,291.4 368.00,291.4 368.50,291.5 369.00,291.8 369.50,291.5 370.00,291.7 370.50,291.2 371.00,291.7 371.50,292.0 372.00,291.6 372.50,291.7 373.00,291.5 373.50,291.4 374.00,291.7 374.50,291.5 375.00,291.7 375.50,291.8 376.00,291.6 376.50,291.7 377.00,291.6 377.50,291.6 378.00,291.6 378.50,290.5 379.00,290.3 379.50,290.8 380.00,291.3 380.50,291.3 381.00,291.7 381.50,291.7 382.00,291.8 382.50,291.8 383.00,291.3 383.50,291.3 384.00,291.5 384.50,291.7 385.00,291.7 385.50,291.1 386.00,291.7 386.50,291.8 387.00,291.9 387.50,291.7 388.00,291.4 388.50,291.5 389.00,291.5 389.50,291.6 390.00,291.6 390.50,291.5 391.00,291.6 391.50,291.6 392.00,291.7 392.50,291.4 393.00,291.5 393.50,291.8 394.00,291.7 394.50,291.9 395.00,292.0 395.50,292.0 396.00,291.8 396.50,291.5 397.00,291.7 397.50,291.6 398.00,291.5 398.50,291.3 399.00,291.5 399.50,291.4 400.00,291.4 400.50,291.7 401.00,291.8 401.50,292.7 402.00,291.7 402.50,291.8 403.00,291.8 403.50,291.7 404.00,291.9 404.50,291.7 405.00,291.6 405.50,291.7 406.00,291.9 406.50,291.8 407.00,291.8 407.50,291.9 408.00,292.0 408.50,293.0 409.00,292.9 409.50,291.9 410.00,292.0 410.50,292.0 411.00,292.0 411.50,292.1 412.00,292.0 412.50,292.0 413.00,292.2 413.50,292.1 414.00,292.9 414.50,293.0 415.00,293.1 415.50,293.1 416.00,293.2 416.50,293.0 417.00,292.2 417.50,292.2 418.00,292.2 418.50,292.3 419.00,292.3 419.50,292.4 420.00,292.3 420.50,292.4 421.00,292.3 421.50,292.3 422.00,292.4 422.50,292.4 423.00,292.3 423.50,292.5 424.00,292.3 424.50,292.4 425.00,292.6 425.50,294.0 426.00,293.9 426.50,293.9 427.00,294.0 427.50,293.9 428.00,294.0 428.50,292.7 429.00,292.7 429.50,292.7 430.00,292.8 430.50,292.7 431.00,292.8 431.50,292.7 432.00,292.8 432.50,292.7 433.00,292.5 433.50,292.7 434.00,292.8 434.50,292.9 435.00,292.8 435.50,293.0 436.00,292.9 436.50,293.0 437.00,293.0 437.50,292.9 438.00,293.0 438.50,294.1 439.00,294.1 439.50,294.0 440.00,294.1 440.50,294.2 441.00,294.2 441.50,293.0 442.00,293.0 442.50,293.0 443.00,293.1 443.50,293.1 444.00,294.2 444.50,294.2 445.00,294.3 445.50,293.4 446.00,293.3 446.50,293.2 447.00,293.3 447.50,294.4 448.00,294.4 448.50,294.4 449.00,294.5 449.50,293.5 450.00,293.4 450.50,293.5 451.00,294.4 451.50,293.6 452.00,293.4 452.50,293.2 453.00,293.3 453.50,293.2 454.00,293.3 454.50,293.5 455.00,293.5 455.50,293.5 456.00,294.8 456.50,293.4 457.00,293.4 457.50,293.5 458.00,293.5 458.50,293.6 459.00,293.5 459.50,293.5 460.00,294.4 460.50,294.4 461.00,294.3 461.50,293.5 462.00,293.5 462.50,293.6 463.00,293.4 463.50,293.4 464.00,293.4 464.50,293.4 465.00,294.8 465.50,294.7 466.00,294.7 466.50,294.6 467.00,294.7 467.50,294.7 468.00,293.5 468.50,293.6 469.00,293.5 469.50,293.4 470.00,293.4 470.50,294.7 471.00,294.8 471.50,293.5 472.00,293.5 472.50,293.4 473.00,293.4 473.50,294.6 474.00,294.6 474.50,293.4 475.00,293.3 475.50,293.4 476.00,293.5 476.50,293.5 477.00,293.4 477.50,293.4 478.00,293.4 478.50,293.5 479.00,293.5 479.50,294.5 480.00,294.4 480.50,293.6 481.00,293.6 481.50,293.6 482.00,293.5 482.50,293.5 483.00,293.6 483.50,293.4 484.00,293.5 484.50,293.6 485.00,294.8 485.50,294.6 486.00,293.4 486.50,293.5 487.00,293.6 487.50,293.5 488.00,293.5 488.50,293.6 489.00,293.6 489.50,293.7 490.00,293.4 490.50,293.4 491.00,293.4 491.50,293.5 492.00,293.5 492.50,293.6 493.00,293.5 493.50,293.6 494.00,293.5 494.50,293.7 495.00,293.7 495.50,293.7 496.00,293.5 496.50,293.6 497.00,293.7 497.50,293.6 498.00,293.6 498.50,293.6 499.00,293.5 499.50,293.5 500.00,293.7 500.50,293.6 501.00,293.6 501.50,293.5 502.00,293.5 502.50,293.5 503.00,293.5 503.50,293.7 504.00,293.7 504.50,293.6 505.00,293.7 505.50,293.7 506.00,293.8 506.50,293.8 507.00,293.7 507.50,293.6 508.00,293.7 508.50,293.8 509.00,293.7 509.50,293.6 510.00,293.7 510.50,293.5 511.00,294.9 511.50,293.6 512.00,293.6 512.50,293.7 513.00,293.7 513.50,293.8 514.00,293.7 514.50,293.7 515.00,293.9 515.50,295.1 516.00,293.5 516.50,293.6 517.00,293.7 517.50,293.7 518.00,293.7 518.50,293.7 519.00,293.7 519.50,293.6 520.00,294.5 520.50,293.7 521.00,293.8 521.50,293.9 522.00,294.9 522.50,294.9 523.00,293.9 523.50,293.7 524.00,293.6 524.50,293.7 525.00,293.7 525.50,293.7 526.00,294.5 526.50,294.4 527.00,294.6 527.50,294.7 528.00,294.6 528.50,294.4 529.00,293.7 529.50,293.8 530.00,293.8 530.50,293.7 531.00,293.7 531.50,293.7 532.00,294.7 532.50,294.9 533.00,293.7 533.50,293.6 534.00,293.8 534.50,295.2 535.00,295.2 535.50,295.1 536.00,295.2 536.50,295.0 537.00,295.3 537.50,293.8 538.00,293.8 538.50,293.8 539.00,293.8 539.50,293.7 540.00,293.7 540.50,293.6 541.00,293.7 541.50,293.8 542.00,293.8 542.50,295.0 543.00,295.1 543.50,293.8 544.00,293.7 544.50,293.8 545.00,293.8 545.50,293.7 546.00,293.5 546.50,294.8 547.00,294.8 547.50,294.7 548.00,293.6 548.50,293.6 549.00,293.7 549.50,293.7 550.00,294.9 550.50,293.9 551.00,293.8 551.50,293.9 552.00,293.9 552.50,293.8 553.00,293.8 553.50,293.8 554.00,293.9 554.50,293.9 555.00,293.8 555.50,294.7 556.00,295.0 556.50,294.0 557.00,293.9 557.50,294.0 558.00,293.8 558.50,293.9 559.00,293.9 559.50,294.9 560.00,294.9 560.50,294.9 561.00,293.9 561.50,294.0 562.00,294.1 562.50,294.1 563.00,294.0 563.50,293.8 564.00,294.0 564.50,294.0 565.00,294.0 565.50,293.7 566.00,293.9 566.50,294.0 567.00,293.9 567.50,293.8" fill="none" stroke="#000" stroke-width="1.3" stroke-linejoin="round"/>
<polyline points="13.50,326.7 14.00,326.3 14.50,326.7 15.00,325.7 15.50,325.9 16.00,327.3 16.50,327.0 17.00,327.0 17.50,326.6 18.00,327.4 18.50,327.7 19.00,327.8 19.50,327.3 20.00,327.4 20.50,327.0 21.00,327.4 21.50,326.7 22.00,327.3 22.50,327.9 23.00,327.6 23.50,328.2 24.00,328.0 24.50,328.6 25.00,328.0 25.50,327.5 26.00,327.8 26.50,329.5 27.00,328.1 27.50,327.7 28.00,328.0 28.50,328.5 29.00,327.8 29.50,328.9 30.00,328.0 30.50,328.8 31.00,328.7 31.50,328.1 32.00,328.7 32.50,328.0 33.00,328.3 33.50,328.1 34.00,327.9 34.50,328.0 35.00,328.5 35.50,329.6 36.00,329.1 36.50,329.5 37.00,329.0 37.50,329.3 38.00,329.6 38.50,329.2 39.00,329.3 39.50,329.2 40.00,328.8 40.40,328.0 40.65,321.7 40.75,321.7 41.00,328.3 41.50,329.6 42.00,328.7 42.50,329.0 43.00,329.5 43.50,329.7 44.00,329.9 44.50,330.1 45.00,329.7 45.50,329.8 46.00,329.5 46.50,329.2 47.00,329.4 47.50,330.0 48.00,330.2 48.50,330.1 49.00,330.1 49.50,330.8 50.00,330.8 50.50,330.8 51.00,331.9 51.50,331.2 52.00,331.0 52.50,331.4 53.00,330.4 53.50,330.6 54.00,331.3 54.50,331.8 55.00,331.6 55.50,331.8 56.00,332.1 56.50,331.7 57.00,330.5 57.50,330.9 58.00,332.3 58.50,332.5 59.00,331.7 59.50,333.0 60.00,334.3 60.50,334.0 61.00,334.9 61.50,334.0 62.00,334.2 62.50,334.9 63.00,334.4 63.50,334.6 64.00,335.1 64.50,335.6 65.00,336.1 65.50,335.9 66.00,335.2 66.50,336.3 67.00,336.6 67.50,336.8 68.00,335.9 68.50,336.3 69.00,336.1 69.50,336.4 70.00,337.3 70.50,337.6 71.00,338.1 71.50,337.4 72.00,338.0 72.50,337.9 73.00,338.0 73.50,338.1 74.00,338.0 74.50,338.0 75.00,337.1 75.50,337.6 76.00,337.9 76.50,337.7 77.00,337.4 77.50,337.2 78.00,338.6 78.50,338.3 79.00,337.7 79.50,338.3 80.00,337.9 80.50,337.6 81.00,338.2 81.50,338.3 82.00,338.4 82.50,338.6 83.00,338.1 83.50,337.8 84.00,337.9 84.20,337.9 84.45,332.2 84.55,332.2 84.80,337.9 85.00,337.9 85.50,338.6 86.00,338.8 86.50,339.3 87.00,338.7 87.50,338.8 88.00,338.9 88.50,338.4 89.00,339.1 89.50,339.3 90.00,338.8 90.50,339.5 91.00,339.8 91.50,340.4 92.00,339.6 92.50,339.1 93.00,339.2 93.50,339.1 94.00,339.2 94.50,338.8 95.00,339.6 95.50,339.8 96.00,339.8 96.50,339.8 97.00,339.0 97.50,339.3 98.00,339.5 98.50,340.3 99.00,340.3 99.50,340.1 100.00,340.0 100.50,339.3 101.00,340.8 101.50,340.9 102.00,341.3 102.50,341.6 103.00,341.4 103.50,340.7 104.00,340.2 104.30,340.7 104.55,338.0 104.65,338.0 104.90,341.1 105.00,341.1 105.50,341.3 106.00,341.9 106.50,341.3 107.00,342.3 107.50,342.3 108.00,342.4 108.50,342.6 109.00,342.2 109.50,341.6 110.00,342.0 110.50,342.0 111.00,342.4 111.50,342.4 112.00,342.2 112.50,343.0 113.00,343.0 113.50,342.5 114.00,342.0 114.50,341.8 115.00,342.4 115.50,342.6 116.00,343.1 116.50,342.5 117.00,343.0 117.50,342.7 118.00,343.2 118.50,344.3 119.00,343.7 119.50,343.5 120.00,343.1 120.50,342.7 121.00,342.9 121.50,343.4 122.00,343.0 122.50,343.0 123.00,343.3 123.50,343.3 124.00,343.5 124.50,344.3 125.00,343.4 125.50,343.0 126.00,343.7 126.50,342.6 127.00,342.4 127.50,342.9 128.00,343.1 128.50,343.7 129.00,343.9 129.50,343.2 130.00,342.7 130.50,342.2 130.80,342.1 131.05,335.7 131.15,335.7 131.40,342.6 131.50,342.7 132.00,343.6 132.50,343.4 133.00,343.6 133.50,342.9 134.00,340.9 134.50,340.0 135.00,341.2 135.50,342.1 136.00,343.1 136.50,342.6 137.00,342.4 137.50,342.2 138.00,343.3 138.50,342.7 139.00,342.7 139.50,342.0 140.00,342.6 140.50,342.3 141.00,342.1 141.50,342.8 142.00,342.5 142.50,342.6 143.00,342.5 143.50,342.1 144.00,342.1 144.50,341.3 145.00,341.1 145.50,341.7 146.00,341.9 146.50,342.3 147.00,342.7 147.50,343.3 148.00,342.2 148.50,342.4 149.00,342.6 149.50,341.2 150.00,340.7 150.50,341.5 151.00,341.7 151.50,342.8 152.00,342.4 152.50,342.0 153.00,343.0 153.50,343.1 154.00,342.7 154.50,341.5 155.00,340.7 155.30,340.5 155.55,325.2 155.65,325.2 155.90,340.9 156.00,341.1 156.50,341.6 157.00,342.0 157.50,341.4 158.00,341.2 158.50,340.8 159.00,341.0 159.50,341.5 160.00,341.2 160.50,340.8 161.00,341.4 161.50,342.5 162.00,341.9 162.50,342.7 163.00,342.5 163.50,342.3 164.00,341.8 164.50,342.3 165.00,342.9 165.50,342.3 166.00,342.8 166.50,342.4 167.00,341.3 167.50,340.9 168.00,340.7 168.50,341.0 169.00,341.3 169.50,342.2 170.00,341.4 170.50,340.2 171.00,341.0 171.50,341.5 172.00,342.0 172.50,339.4 173.00,337.4 173.40,336.9 173.65,310.3 173.75,310.3 174.00,337.0 174.00,337.0 174.50,336.9 175.00,338.2 175.50,338.8 175.50,338.8 175.75,333.0 175.85,333.0 176.10,338.0 176.50,338.8 177.00,339.2 177.50,338.0 178.00,337.2 178.50,338.5 179.00,338.6 179.50,339.9 180.00,339.9 180.50,340.4 181.00,338.8 181.50,339.8 182.00,339.2 182.50,337.9 183.00,336.8 183.50,336.9 184.00,338.9 184.50,340.0 185.00,340.4 185.50,339.2 186.00,338.7 186.50,339.8 187.00,340.0 187.50,340.6 188.00,340.3 188.50,339.3 189.00,340.6 189.50,341.0 190.00,340.3 190.50,338.8 190.70,339.5 190.95,337.0 191.05,337.0 191.30,340.8 191.50,341.0 192.00,340.0 192.50,340.1 193.00,341.6 193.50,341.1 193.70,341.1 193.95,336.6 194.05,336.6 194.30,341.2 194.50,341.3 195.00,341.0 195.50,340.2 196.00,340.9 196.50,341.2 196.70,340.7 196.95,338.0 197.05,338.0 197.30,340.5 197.50,340.7 198.00,342.0 198.50,341.8 199.00,342.0 199.50,342.8 200.00,343.7 200.50,342.9 201.00,340.8 201.50,341.1 202.00,341.1 202.50,341.2 202.70,341.0 202.95,338.5 203.05,338.5 203.30,341.0 203.50,341.3 204.00,340.8 204.50,341.1 205.00,341.3 205.50,342.1 206.00,340.9 206.20,340.7 206.45,338.0 206.55,338.0 206.80,340.7 207.00,340.9 207.50,341.0 208.00,340.8 208.50,341.6 209.00,342.8 209.50,341.5 210.00,339.8 210.20,340.3 210.45,336.6 210.55,336.6 210.80,341.3 211.00,341.4 211.50,341.0 212.00,341.2 212.50,340.6 213.00,339.8 213.20,340.1 213.45,338.0 213.55,338.0 213.80,340.9 214.00,341.2 214.50,341.1 215.00,340.3 215.40,341.0 215.65,336.6 215.75,336.6 216.00,342.5 216.00,342.5 216.50,341.4 217.00,342.1 217.50,341.9 218.00,341.8 218.50,342.2 219.00,342.1 219.50,342.7 220.00,343.7 220.50,343.5 221.00,342.5 221.50,343.0 222.00,343.7 222.50,343.1 223.00,343.4 223.50,342.5 224.00,343.1 224.50,343.7 225.00,343.5 225.50,343.4 226.00,343.7 226.50,343.3 227.00,344.4 227.50,344.9 228.00,345.2 228.50,344.4 229.00,345.2 229.50,343.7 230.00,343.9 230.50,345.6 231.00,344.7 231.50,344.9 232.00,345.0 232.50,346.0 233.00,346.4 233.50,345.6 234.00,345.4 234.50,344.8 235.00,344.6 235.50,345.3 236.00,345.7 236.50,345.0 237.00,345.3 237.50,345.1 238.00,345.1 238.50,344.7 238.70,344.6 238.95,341.5 239.05,341.5 239.30,345.0 239.50,345.5 240.00,344.5 240.50,345.3 241.00,345.6 241.50,345.3 242.00,345.0 242.50,344.9 243.00,345.0 243.50,345.4 244.00,345.1 244.50,345.0 245.00,345.0 245.50,345.3 246.00,345.1 246.50,345.4 247.00,345.3 247.50,344.8 248.00,345.0 248.50,343.6 249.00,343.0 249.50,343.6 250.00,345.3 250.50,344.7 251.00,344.9 251.50,345.4 252.00,345.6 252.50,344.6 253.00,344.9 253.50,345.6 254.00,345.4 254.50,345.0 255.00,345.4 255.50,345.5 256.00,345.4 256.50,345.3 257.00,345.1 257.50,345.4 258.00,345.1 258.50,345.3 259.00,345.6 259.50,345.7 260.00,345.8 260.50,345.4 261.00,345.7 261.50,345.0 262.00,344.9 262.50,344.5 263.00,343.3 263.50,343.3 264.00,344.6 264.50,346.1 265.00,345.4 265.50,344.8 266.00,345.1 266.50,344.8 267.00,345.0 267.50,345.6 268.00,345.4 268.50,345.7 269.00,345.5 269.50,345.1 270.00,345.6 270.50,345.3 271.00,345.3 271.50,344.9 272.00,345.7 272.50,345.1 273.00,344.9 273.50,345.0 274.00,345.1 274.50,345.6 275.00,345.8 275.50,345.7 276.00,345.8 276.50,345.6 277.00,345.3 277.50,345.6 278.00,345.1 278.50,345.5 279.00,345.5 279.50,345.2 280.00,345.5 280.50,345.4 281.00,345.2 281.50,345.5 282.00,345.7 282.50,346.2 283.00,345.5 283.50,345.0 284.00,344.9 284.50,345.1 285.00,345.8 285.50,345.9 286.00,345.4 286.50,345.5 287.00,345.6 287.50,345.2 288.00,345.4 288.50,345.3 289.00,345.6 289.50,345.7 290.00,344.8 290.50,344.0 291.00,343.9 291.50,343.5 292.00,343.5 292.50,343.5 293.00,343.7 293.50,344.2 294.00,344.3 294.50,345.5 295.00,345.7 295.50,345.0 296.00,345.5 296.50,345.9 297.00,345.6 297.50,344.9 298.00,344.2 298.50,344.9 299.00,345.2 299.50,345.3 300.00,345.7 300.50,345.6 301.00,345.6 301.50,345.8 302.00,345.8 302.50,346.0 303.00,346.2 303.50,345.5 304.00,346.0 304.50,346.1 305.00,346.1 305.50,345.9 306.00,345.3 306.50,345.9 307.00,346.0 307.50,345.5 308.00,346.0 308.50,345.1 309.00,344.2 309.50,344.1 310.00,344.7 310.50,344.4 311.00,343.6 311.50,343.4 312.00,344.3 312.50,344.5 313.00,344.9 313.50,345.0 314.00,345.5 314.50,345.6 315.00,345.6 315.50,345.9 316.00,345.2 316.50,343.9 317.00,343.7 317.50,345.2 318.00,345.9 318.50,346.1 319.00,346.4 319.50,346.1 320.00,346.6 320.50,346.0 321.00,346.9 321.50,346.6 322.00,346.0 322.50,346.3 323.00,346.3 323.50,346.0 324.00,346.2 324.50,346.0 325.00,346.3 325.50,346.6 326.00,346.3 326.50,346.9 327.00,346.5 327.50,346.6 328.00,346.3 328.50,345.9 329.00,346.2 329.50,346.6 330.00,346.1 330.50,346.4 331.00,346.5 331.50,346.4 332.00,346.4 332.50,345.9 333.00,345.7 333.50,345.9 334.00,346.5 334.50,346.4 335.00,346.4 335.50,345.8 336.00,346.4 336.50,346.4 337.00,346.5 337.50,346.9 338.00,346.2 338.50,345.8 339.00,345.7 339.50,345.5 340.00,345.6 340.50,345.8 341.00,346.1 341.50,346.3 342.00,346.6 342.50,346.6 343.00,346.8 343.50,346.8 344.00,346.6 344.50,346.3 345.00,346.5 345.50,346.4 346.00,346.4 346.50,346.3 347.00,346.8 347.50,346.7 348.00,346.6 348.50,346.9 349.00,346.5 349.50,345.8 350.00,345.3 350.50,345.8 351.00,346.1 351.50,346.5 352.00,346.7 352.50,347.1 353.00,346.9 353.50,346.9 354.00,346.8 354.50,346.8 355.00,346.6 355.50,346.6 356.00,346.6 356.50,346.9 357.00,346.9 357.50,346.7 358.00,346.6 358.50,346.8 359.00,346.6 359.50,346.5 360.00,346.6 360.50,346.9 361.00,347.0 361.50,346.9 362.00,346.6 362.50,346.5 363.00,346.9 363.50,347.0 364.00,346.9 364.50,346.5 365.00,346.8 365.50,346.8 366.00,346.8 366.50,346.4 367.00,346.7 367.50,347.3 368.00,347.4 368.50,346.5 369.00,346.4 369.50,346.9 370.00,347.1 370.50,347.0 371.00,347.2 371.50,347.1 372.00,346.8 372.50,346.4 373.00,346.5 373.50,346.7 374.00,346.7 374.50,347.0 375.00,347.5 375.50,347.3 376.00,347.0 376.50,346.8 377.00,347.4 377.50,347.1 378.00,347.1 378.50,346.7 379.00,346.6 379.50,347.1 380.00,347.1 380.50,346.9 381.00,346.6 381.50,346.8 382.00,347.2 382.50,346.9 383.00,347.1 383.50,347.1 384.00,347.1 384.50,347.2 385.00,347.0 385.50,346.9 386.00,346.9 386.50,347.0 387.00,347.3 387.50,347.1 388.00,347.1 388.50,347.0 389.00,346.8 389.50,347.0 390.00,347.0 390.50,347.0 391.00,346.8 391.50,347.1 392.00,347.1 392.50,347.0 393.00,347.1 393.50,347.6 394.00,347.2 394.50,347.2 395.00,347.4 395.50,347.2 396.00,347.6 396.50,347.1 397.00,346.6 397.50,347.1 398.00,347.4 398.50,347.4 399.00,347.6 399.50,347.1 400.00,347.3 400.50,347.4 401.00,347.3 401.50,347.3 402.00,347.4 402.50,347.4 403.00,347.4 403.50,347.5 404.00,347.5 404.50,347.4 405.00,347.4 405.50,347.3 406.00,348.6 406.50,348.6 407.00,348.6 407.50,348.8 408.00,348.9 408.50,348.8 409.00,347.7 409.50,347.5 410.00,347.6 410.50,347.7 411.00,347.6 411.50,347.6 412.00,347.6 412.50,348.8 413.00,348.8 413.50,347.6 414.00,347.8 414.50,349.0 415.00,349.0 415.50,348.8 416.00,347.7 416.50,347.9 417.00,347.8 417.50,347.8 418.00,347.7 418.50,347.7 419.00,348.9 419.50,348.9 420.00,347.8 420.50,347.7 421.00,347.7 421.50,347.6 422.00,347.8 422.50,348.6 423.00,348.6 423.50,348.8 424.00,348.8 424.50,347.8 425.00,348.0 425.50,348.0 426.00,348.1 426.50,348.2 427.00,348.0 427.50,347.9 428.00,347.9 428.50,347.9 429.00,348.1 429.50,348.0 430.00,348.1 430.50,348.1 431.00,348.2 431.50,348.2 432.00,348.1 432.50,348.1 433.00,348.2 433.50,348.0 434.00,348.0 434.50,348.1 435.00,348.4 435.50,349.1 436.00,349.1 436.50,348.1 437.00,347.9 437.50,348.0 438.00,348.3 438.50,348.2 439.00,349.3 439.50,348.3 440.00,348.2 440.50,348.2 441.00,349.4 441.50,348.4 442.00,348.5 442.50,348.4 443.00,348.3 443.50,348.2 444.00,348.3 444.50,348.4 445.00,348.5 445.50,348.4 446.00,348.5 446.50,349.4 447.00,349.3 447.50,349.4 448.00,349.3 448.50,348.4 449.00,348.5 449.50,348.5 450.00,348.5 450.50,348.6 451.00,348.5 451.50,350.0 452.00,349.8 452.50,348.5 453.00,348.6 453.50,348.6 454.00,348.6 454.50,348.7 455.00,348.6 455.50,348.7 456.00,348.7 456.50,348.7 457.00,349.9 457.50,350.1 458.00,348.8 458.50,348.8 459.00,348.7 459.50,348.6 460.00,348.7 460.50,348.7 461.00,348.6 461.50,348.7 462.00,348.9 462.50,348.8 463.00,348.6 463.50,348.7 464.00,350.1 464.50,350.2 465.00,350.2 465.50,350.2 466.00,348.7 466.50,348.7 467.00,348.8 467.50,348.9 468.00,349.0 468.50,350.2 469.00,348.9 469.50,349.0 470.00,349.1 470.50,349.0 471.00,348.9 471.50,348.9 472.00,348.8 472.50,349.0 473.00,348.8 473.50,349.0 474.00,349.1 474.50,350.4 475.00,350.3 475.50,349.1 476.00,349.0 476.50,348.8 477.00,349.0 477.50,349.1 478.00,348.9 478.50,349.8 479.00,349.9 479.50,349.1 480.00,349.2 480.50,349.2 481.00,349.1 481.50,349.0 482.00,349.0 482.50,349.1 483.00,349.1 483.50,349.1 484.00,349.2 484.50,349.1 485.00,349.0 485.50,348.9 486.00,349.0 486.50,349.3 487.00,349.2 487.50,349.1 488.00,349.3 488.50,349.2 489.00,349.1 489.50,349.2 490.00,349.2 490.50,349.1 491.00,350.2 491.50,350.2 492.00,349.0 492.50,349.0 493.00,349.1 493.50,349.2 494.00,349.1 494.50,349.2 495.00,349.2 495.50,349.2 496.00,349.3 496.50,349.1 497.00,348.9 497.50,349.2 498.00,349.3 498.50,349.2 499.00,349.2 499.50,349.1 500.00,349.1 500.50,349.1 501.00,349.1 501.50,349.0 502.00,349.3 502.50,349.2 503.00,349.1 503.50,349.1 504.00,349.1 504.50,349.1 505.00,349.2 505.50,349.1 506.00,349.3 506.50,349.1 507.00,349.3 507.50,349.4 508.00,349.3 508.50,349.2 509.00,349.1 509.50,349.2 510.00,349.4 510.50,349.3 511.00,349.2 511.50,349.1 512.00,349.2 512.50,349.1 513.00,349.3 513.50,349.1 514.00,349.1 514.50,349.1 515.00,349.3 515.50,349.2 516.00,349.3 516.50,349.3 517.00,349.2 517.50,349.3 518.00,349.4 518.50,349.4 519.00,349.3 519.50,350.6 520.00,350.6 520.50,349.4 521.00,349.3 521.50,349.3 522.00,349.1 522.50,349.2 523.00,349.4 523.50,349.3 524.00,349.3 524.50,349.5 525.00,349.4 525.50,349.3 526.00,349.3 526.50,349.2 527.00,350.5 527.50,350.6 528.00,350.6 528.50,350.7 529.00,350.6 529.50,350.7 530.00,349.2 530.50,349.3 531.00,349.3 531.50,349.3 532.00,349.3 532.50,349.3 533.00,349.2 533.50,349.2 534.00,349.3 534.50,349.3 535.00,349.3 535.50,349.3 536.00,349.4 536.50,349.4 537.00,349.3 537.50,349.3 538.00,349.3 538.50,349.2 539.00,349.4 539.50,349.3 540.00,349.3 540.50,349.4 541.00,349.3 541.50,349.4 542.00,350.6 542.50,349.6 543.00,349.5 543.50,349.4 544.00,349.4 544.50,350.6 545.00,350.4 545.50,349.5 546.00,349.6 546.50,349.4 547.00,349.3 547.50,349.4 548.00,350.9 548.50,350.6 549.00,349.4 549.50,349.4 550.00,349.4 550.50,349.3 551.00,349.4 551.50,349.3 552.00,350.7 552.50,350.8 553.00,350.6 553.50,350.6 554.00,349.4 554.50,349.3 555.00,349.4 555.50,349.3 556.00,349.4 556.50,349.6 557.00,349.6 557.50,349.5 558.00,349.5 558.50,350.4 559.00,350.6 559.50,350.6 560.00,349.6 560.50,349.5 561.00,349.5 561.50,350.4 562.00,349.5 562.50,349.4 563.00,349.5 563.50,349.5 564.00,349.4 564.50,349.6 565.00,349.6 565.50,350.9 566.00,350.8 566.50,350.8 567.00,349.6 567.50,349.5" fill="none" stroke="#000" stroke-width="1.3" stroke-linejoin="round"/>
<line x1="12.1" x2="568.9" y1="21.4" y2="21.4" stroke="#2a4a40" stroke-width="1.0"/>
<line x1="12.1" x2="568.9" y1="77.2" y2="77.2" stroke="#15181c" stroke-width="1.5"/>
<line x1="12.1" x2="568.9" y1="133.3" y2="133.3" stroke="#15181c" stroke-width="1.1"/>
<line x1="12.1" x2="568.9" y1="189.0" y2="189.0" stroke="#15181c" stroke-width="1.5"/>
<line x1="12.1" x2="568.9" y1="244.4" y2="244.4" stroke="#15181c" stroke-width="1.1"/>
<line x1="12.1" x2="568.9" y1="299.2" y2="299.2" stroke="#15181c" stroke-width="1.1"/>
<line x1="12.1" x2="568.9" y1="356.35" y2="356.35" stroke="#15181c" stroke-width="1.5"/>
<line x1="13.0" x2="13.0" y1="20.9" y2="362.8" stroke="#2a2a2a" stroke-width="1.8"/>
<line x1="568.3" x2="568.3" y1="20.9" y2="362.8" stroke="#222" stroke-width="1.3"/>
<text x="12.1" y="380.7" font-size="17.0" text-anchor="middle" textLength="7.6" lengthAdjust="spacingAndGlyphs" fill="#141414">5</text>
<line x1="45.7" x2="45.7" y1="356.3" y2="362.8" stroke="#1a1a1a" stroke-width="1.5"/>
<text x="44.8" y="380.7" font-size="17.0" text-anchor="middle" textLength="15.3" lengthAdjust="spacingAndGlyphs" fill="#141414">10</text>
<line x1="78.3" x2="78.3" y1="356.3" y2="362.8" stroke="#1a1a1a" stroke-width="1.5"/>
<text x="77.4" y="380.7" font-size="17.0" text-anchor="middle" textLength="15.3" lengthAdjust="spacingAndGlyphs" fill="#141414">15</text>
<line x1="111.0" x2="111.0" y1="356.3" y2="362.8" stroke="#1a1a1a" stroke-width="1.5"/>
<text x="110.1" y="380.7" font-size="17.0" text-anchor="middle" textLength="15.3" lengthAdjust="spacingAndGlyphs" fill="#141414">20</text>
<line x1="143.7" x2="143.7" y1="356.3" y2="362.8" stroke="#1a1a1a" stroke-width="1.5"/>
<text x="142.8" y="380.7" font-size="17.0" text-anchor="middle" textLength="15.3" lengthAdjust="spacingAndGlyphs" fill="#141414">25</text>
<line x1="176.3" x2="176.3" y1="356.3" y2="362.8" stroke="#1a1a1a" stroke-width="1.5"/>
<text x="175.4" y="380.7" font-size="17.0" text-anchor="middle" textLength="15.3" lengthAdjust="spacingAndGlyphs" fill="#141414">30</text>
<line x1="209.0" x2="209.0" y1="356.3" y2="362.8" stroke="#1a1a1a" stroke-width="1.5"/>
<text x="208.1" y="380.7" font-size="17.0" text-anchor="middle" textLength="15.3" lengthAdjust="spacingAndGlyphs" fill="#141414">35</text>
<line x1="241.7" x2="241.7" y1="356.3" y2="362.8" stroke="#1a1a1a" stroke-width="1.5"/>
<text x="240.8" y="380.7" font-size="17.0" text-anchor="middle" textLength="15.3" lengthAdjust="spacingAndGlyphs" fill="#141414">40</text>
<line x1="274.3" x2="274.3" y1="356.3" y2="362.8" stroke="#1a1a1a" stroke-width="1.5"/>
<text x="273.4" y="380.7" font-size="17.0" text-anchor="middle" textLength="15.3" lengthAdjust="spacingAndGlyphs" fill="#141414">45</text>
<line x1="307.0" x2="307.0" y1="356.3" y2="362.8" stroke="#1a1a1a" stroke-width="1.5"/>
<text x="306.1" y="380.7" font-size="17.0" text-anchor="middle" textLength="15.3" lengthAdjust="spacingAndGlyphs" fill="#141414">50</text>
<line x1="339.6" x2="339.6" y1="356.3" y2="362.8" stroke="#1a1a1a" stroke-width="1.5"/>
<text x="338.7" y="380.7" font-size="17.0" text-anchor="middle" textLength="15.3" lengthAdjust="spacingAndGlyphs" fill="#141414">55</text>
<line x1="372.3" x2="372.3" y1="356.3" y2="362.8" stroke="#1a1a1a" stroke-width="1.5"/>
<text x="371.4" y="380.7" font-size="17.0" text-anchor="middle" textLength="15.3" lengthAdjust="spacingAndGlyphs" fill="#141414">60</text>
<line x1="405.0" x2="405.0" y1="356.3" y2="362.8" stroke="#1a1a1a" stroke-width="1.5"/>
<text x="404.1" y="380.7" font-size="17.0" text-anchor="middle" textLength="15.3" lengthAdjust="spacingAndGlyphs" fill="#141414">65</text>
<line x1="437.6" x2="437.6" y1="356.3" y2="362.8" stroke="#1a1a1a" stroke-width="1.5"/>
<text x="436.7" y="380.7" font-size="17.0" text-anchor="middle" textLength="15.3" lengthAdjust="spacingAndGlyphs" fill="#141414">70</text>
<line x1="470.3" x2="470.3" y1="356.3" y2="362.8" stroke="#1a1a1a" stroke-width="1.5"/>
<text x="469.4" y="380.7" font-size="17.0" text-anchor="middle" textLength="15.3" lengthAdjust="spacingAndGlyphs" fill="#141414">75</text>
<line x1="503.0" x2="503.0" y1="356.3" y2="362.8" stroke="#1a1a1a" stroke-width="1.5"/>
<text x="502.1" y="380.7" font-size="17.0" text-anchor="middle" textLength="15.3" lengthAdjust="spacingAndGlyphs" fill="#141414">80</text>
<line x1="535.6" x2="535.6" y1="356.3" y2="362.8" stroke="#1a1a1a" stroke-width="1.5"/>
<text x="534.7" y="380.7" font-size="17.0" text-anchor="middle" textLength="15.3" lengthAdjust="spacingAndGlyphs" fill="#141414">85</text>
<text x="567.4" y="380.7" font-size="17.0" text-anchor="middle" textLength="15.3" lengthAdjust="spacingAndGlyphs" fill="#141414">90</text>
<line x1="29.3" x2="29.3" y1="356.3" y2="359.7" stroke="#1a1a1a" stroke-width="1.5"/>
<line x1="62.0" x2="62.0" y1="356.3" y2="359.7" stroke="#1a1a1a" stroke-width="1.5"/>
<line x1="94.7" x2="94.7" y1="356.3" y2="359.7" stroke="#1a1a1a" stroke-width="1.5"/>
<line x1="127.3" x2="127.3" y1="356.3" y2="359.7" stroke="#1a1a1a" stroke-width="1.5"/>
<line x1="160.0" x2="160.0" y1="356.3" y2="359.7" stroke="#1a1a1a" stroke-width="1.5"/>
<line x1="192.7" x2="192.7" y1="356.3" y2="359.7" stroke="#1a1a1a" stroke-width="1.5"/>
<line x1="225.3" x2="225.3" y1="356.3" y2="359.7" stroke="#1a1a1a" stroke-width="1.5"/>
<line x1="258.0" x2="258.0" y1="356.3" y2="359.7" stroke="#1a1a1a" stroke-width="1.5"/>
<line x1="290.6" x2="290.6" y1="356.3" y2="359.7" stroke="#1a1a1a" stroke-width="1.5"/>
<line x1="323.3" x2="323.3" y1="356.3" y2="359.7" stroke="#1a1a1a" stroke-width="1.5"/>
<line x1="356.0" x2="356.0" y1="356.3" y2="359.7" stroke="#1a1a1a" stroke-width="1.5"/>
<line x1="388.6" x2="388.6" y1="356.3" y2="359.7" stroke="#1a1a1a" stroke-width="1.5"/>
<line x1="421.3" x2="421.3" y1="356.3" y2="359.7" stroke="#1a1a1a" stroke-width="1.5"/>
<line x1="454.0" x2="454.0" y1="356.3" y2="359.7" stroke="#1a1a1a" stroke-width="1.5"/>
<line x1="486.6" x2="486.6" y1="356.3" y2="359.7" stroke="#1a1a1a" stroke-width="1.5"/>
<line x1="519.3" x2="519.3" y1="356.3" y2="359.7" stroke="#1a1a1a" stroke-width="1.5"/>
<line x1="552.0" x2="552.0" y1="356.3" y2="359.7" stroke="#1a1a1a" stroke-width="1.5"/>
<text x="258.6" y="429.4" font-size="17.5" textLength="82.4" lengthAdjust="spacingAndGlyphs" fill="#141414">2θ (Degree)</text>
<text x="21.6" y="13.3" font-size="18.7" textLength="21.5" lengthAdjust="spacingAndGlyphs" fill="#141414">(a)</text>
<line x1="442.5" x2="475.2" y1="44.7" y2="44.7" stroke="#111" stroke-width="1.1"/>
<text x="477.7" y="49.3" font-size="16.2" textLength="17.3" lengthAdjust="spacingAndGlyphs" fill="#141414">C0</text>
<line x1="442.5" x2="471.7" y1="101.2" y2="101.2" stroke="#111" stroke-width="1.1"/>
<text x="474.2" y="105.6" font-size="16.2" textLength="39.0" lengthAdjust="spacingAndGlyphs" fill="#141414">1-CLS</text>
<line x1="442.5" x2="475.2" y1="156.4" y2="156.4" stroke="#111" stroke-width="1.1"/>
<text x="477.7" y="160.8" font-size="16.2" textLength="39.2" lengthAdjust="spacingAndGlyphs" fill="#141414">2-CSC</text>
<line x1="442.5" x2="475.6" y1="212.1" y2="212.1" stroke="#111" stroke-width="1.1"/>
<text x="478.1" y="216.6" font-size="16.2" textLength="38.5" lengthAdjust="spacingAndGlyphs" fill="#141414">3-CLL</text>
<line x1="442.5" x2="475.6" y1="268.4" y2="268.4" stroke="#111" stroke-width="1.1"/>
<text x="478.1" y="272.6" font-size="16.2" textLength="38.5" lengthAdjust="spacingAndGlyphs" fill="#141414">4-CLL</text>
<line x1="442.5" x2="476.4" y1="324.1" y2="324.1" stroke="#111" stroke-width="1.1"/>
<text x="478.9" y="328.6" font-size="16.2" textLength="38.0" lengthAdjust="spacingAndGlyphs" fill="#141414">5-CLL</text>
<text transform="translate(39.6,36.0) scale(0.0958,0.1354) translate(-1.5,32.5)" text-anchor="middle" font-size="100" fill="#141414">ϒ</text>
<text transform="translate(57.2,42.6) scale(0.1303,0.1231) translate(-0.0,32.5)" text-anchor="middle" font-size="100" fill="#141414">Π</text>
<text transform="translate(99.1,27.5) scale(0.1467,0.1167) translate(-0.0,30.0)" text-anchor="middle" font-size="100" fill="#141414">♣</text>
<g transform="translate(123.0,50.6) scale(6.30,9.30)"><path d="M0.25,-0.2 C0.25,-0.6 -0.4,-0.6 -0.4,-0.2 C-0.4,0.15 0.25,0.1 0.25,-0.2 C0.28,0.1 0.25,0.5 -0.1,0.5 C-0.3,0.5 -0.43,0.4 -0.45,0.25 M0.25,-0.06 L0.5,-0.1" fill="none" stroke="#141414" stroke-width="0.9" stroke-linecap="round" vector-effect="non-scaling-stroke"/></g>
<g transform="translate(130.0,41.9) scale(4.30,9.20)"><path d="M-0.22,0.5 V-0.08 M0.22,0.5 V-0.08 M-0.5,0.02 L0,-0.5 L0.5,0.02" fill="none" stroke="#7e8a90" stroke-width="0.7" vector-effect="non-scaling-stroke"/></g>
<g transform="translate(134.8,56.2) scale(6.30,9.30)"><path d="M0.25,-0.2 C0.25,-0.6 -0.4,-0.6 -0.4,-0.2 C-0.4,0.15 0.25,0.1 0.25,-0.2 C0.28,0.1 0.25,0.5 -0.1,0.5 C-0.3,0.5 -0.43,0.4 -0.45,0.25 M0.25,-0.06 L0.5,-0.1" fill="none" stroke="#141414" stroke-width="0.9" stroke-linecap="round" vector-effect="non-scaling-stroke"/></g>
<text transform="translate(155.1,49.4) scale(0.1136,0.1119) translate(-0.0,29.5)" text-anchor="middle" font-size="100" fill="#141414">♦</text>
<g transform="translate(173.7,35.6) scale(8.20,7.00)"><path d="M0,-0.5 V0.5 M-0.48,-0.27 L0.48,0.27 M-0.48,0.27 L0.48,-0.27" fill="none" stroke="#34445a" stroke-width="1.25" vector-effect="non-scaling-stroke"/></g>
<text transform="translate(177.0,53.1) scale(0.1260,0.1179) translate(-0.0,28.0)" text-anchor="middle" font-size="100" fill="#141414">♥</text>
<text transform="translate(183.8,57.7) scale(0.1094,0.1046) translate(-0.0,32.5)" text-anchor="middle" font-size="100" fill="#141414">Ω</text>
<text transform="translate(191.8,47.6) scale(0.1260,0.1179) translate(-0.0,28.0)" text-anchor="middle" font-size="100" fill="#141414">♥</text>
<text transform="translate(193.9,55.7) scale(0.1375,0.1186) translate(-0.0,29.5)" text-anchor="middle" font-size="100" fill="#141414">♠</text>
<g transform="translate(199.6,45.1) scale(5.20,4.80)"><path d="M-0.5,-0.5 C-0.5,0.12 -0.25,0.12 0,0.12 C0.25,0.12 0.5,0.12 0.5,-0.5 M0,-0.5 V0.5 M-0.28,0.5 H0.28" fill="none" stroke="#7c8c94" stroke-width="0.7" vector-effect="non-scaling-stroke"/></g>
<g transform="translate(199.6,56.9) scale(5.20,4.80)"><path d="M-0.5,-0.5 C-0.5,0.12 -0.25,0.12 0,0.12 C0.25,0.12 0.5,0.12 0.5,-0.5 M0,-0.5 V0.5 M-0.28,0.5 H0.28" fill="none" stroke="#7c8c94" stroke-width="0.7" vector-effect="non-scaling-stroke"/></g>
<text transform="translate(200.1,25.5) scale(0.1467,0.1167) translate(-0.0,30.0)" text-anchor="middle" font-size="100" fill="#141414">♣</text>
<g transform="translate(210.2,50.6) scale(6.30,6.60)"><path d="M-0.5,-0.5 L0.5,-0.5 L0,0.5 Z" fill="none" stroke="#15181c" stroke-width="0.95" stroke-linejoin="miter" vector-effect="non-scaling-stroke"/><path d="M-0.46,-0.5 L0.02,0.46" fill="none" stroke="#15181c" stroke-width="1.52" vector-effect="non-scaling-stroke"/></g>
<g transform="translate(215.2,55.2) scale(6.20,7.00)"><path d="M-0.46,-0.3 C-0.3,-0.52 -0.1,-0.5 0.05,-0.38 C0.2,-0.28 0.35,-0.3 0.48,-0.46 M0.16,-0.33 C-0.05,-0.1 0.44,-0.05 0.44,0.2 C0.44,0.45 0.1,0.5 -0.15,0.4 C-0.3,0.34 -0.4,0.24 -0.45,0.16" fill="none" stroke="#20262c" stroke-width="1.2800000000000002" stroke-linecap="round" vector-effect="non-scaling-stroke"/></g>
<g transform="translate(222.2,61.9) scale(6.00,7.50)"><path d="M-0.46,-0.44 L0.46,0.44" fill="none" stroke="#20262c" stroke-width="1.2800000000000002" stroke-linecap="round" vector-effect="non-scaling-stroke"/><path d="M0.24,-0.46 L0.42,-0.22 M-0.42,0.2 L-0.22,0.46" fill="none" stroke="#20262c" stroke-width="1.2800000000000002" stroke-linecap="round" vector-effect="non-scaling-stroke"/><path d="M0.42,-0.22 C0.4,-0.1 0.28,-0.02 0.16,0.1 M-0.42,0.2 C-0.45,0.05 -0.35,-0.05 -0.2,-0.18" fill="none" stroke="#20262c" stroke-width="0.8" vector-effect="non-scaling-stroke"/></g>
<g transform="translate(239.0,57.7) scale(6.30,6.60)"><path d="M-0.5,-0.5 L0.5,-0.5 L0,0.5 Z" fill="none" stroke="#15181c" stroke-width="0.95" stroke-linejoin="miter" vector-effect="non-scaling-stroke"/><path d="M-0.46,-0.5 L0.02,0.46" fill="none" stroke="#15181c" stroke-width="1.52" vector-effect="non-scaling-stroke"/></g>
<text transform="translate(250.3,59.4) scale(0.1260,0.1179) translate(-0.0,28.0)" text-anchor="middle" font-size="100" fill="#141414">♥</text>
<g transform="translate(264.2,58.7) scale(8.00,9.00)"><path d="M-0.28,-0.32 C-0.52,-0.1 -0.5,0.3 -0.34,0.5 C-0.2,0.52 -0.14,0.3 -0.2,0.1 C-0.27,-0.2 0,-0.47 0.25,-0.44 C0.5,-0.4 0.56,-0.05 0.36,0.12 C0.2,0.26 -0.06,0.2 -0.05,-0.02" fill="none" stroke="#20262c" stroke-width="1.2800000000000002" vector-effect="non-scaling-stroke"/></g>
<text transform="translate(288.0,51.1) scale(0.1467,0.1167) translate(-0.0,30.0)" text-anchor="middle" font-size="100" fill="#141414">♣</text>
<g transform="translate(308.0,62.0) scale(5.20,4.80)"><path d="M-0.5,-0.5 C-0.5,0.12 -0.25,0.12 0,0.12 C0.25,0.12 0.5,0.12 0.5,-0.5 M0,-0.5 V0.5 M-0.28,0.5 H0.28" fill="none" stroke="#7c8c94" stroke-width="0.7" vector-effect="non-scaling-stroke"/></g>
<text transform="translate(313.1,51.9) scale(0.1467,0.1167) translate(-0.0,30.0)" text-anchor="middle" font-size="100" fill="#141414">♣</text>
<text transform="translate(336.6,57.5) scale(0.1467,0.1167) translate(-0.0,30.0)" text-anchor="middle" font-size="100" fill="#141414">♣</text>
<g transform="translate(377.7,65.0) scale(5.20,4.80)"><path d="M-0.5,-0.5 C-0.5,0.12 -0.25,0.12 0,0.12 C0.25,0.12 0.5,0.12 0.5,-0.5 M0,-0.5 V0.5 M-0.28,0.5 H0.28" fill="none" stroke="#7c8c94" stroke-width="0.7" vector-effect="non-scaling-stroke"/></g>
<text transform="translate(389.8,62.7) scale(0.1260,0.1179) translate(-0.0,28.0)" text-anchor="middle" font-size="100" fill="#141414">♥</text>
<text transform="translate(450.8,64.0) scale(0.1233,0.1000) translate(-0.0,30.0)" text-anchor="middle" font-size="100" fill="#141414">♣</text>
<text transform="translate(39.6,87.8) scale(0.0958,0.1354) translate(-1.5,32.5)" text-anchor="middle" font-size="100" fill="#141414">ϒ</text>
<text transform="translate(83.1,102.1) scale(0.1375,0.1186) translate(-0.0,29.5)" text-anchor="middle" font-size="100" fill="#141414">♠</text>
<text transform="translate(96.6,106.4) scale(0.1467,0.1167) translate(-0.0,30.0)" text-anchor="middle" font-size="100" fill="#141414">♣</text>
<g transform="translate(130.0,99.6) scale(4.30,9.20)"><path d="M-0.22,0.5 V-0.08 M0.22,0.5 V-0.08 M-0.5,0.02 L0,-0.5 L0.5,0.02" fill="none" stroke="#7e8a90" stroke-width="0.7" vector-effect="non-scaling-stroke"/></g>
<g transform="translate(136.3,108.4) scale(6.30,9.30)"><path d="M0.25,-0.2 C0.25,-0.6 -0.4,-0.6 -0.4,-0.2 C-0.4,0.15 0.25,0.1 0.25,-0.2 C0.28,0.1 0.25,0.5 -0.1,0.5 C-0.3,0.5 -0.43,0.4 -0.45,0.25 M0.25,-0.06 L0.5,-0.1" fill="none" stroke="#141414" stroke-width="0.9" stroke-linecap="round" vector-effect="non-scaling-stroke"/></g>
<text transform="translate(155.1,106.4) scale(0.1136,0.1119) translate(-0.0,29.5)" text-anchor="middle" font-size="100" fill="#141414">♦</text>
<g transform="translate(159.9,110.9) scale(4.30,9.20)"><path d="M-0.22,0.5 V-0.08 M0.22,0.5 V-0.08 M-0.5,0.02 L0,-0.5 L0.5,0.02" fill="none" stroke="#7e8a90" stroke-width="0.7" vector-effect="non-scaling-stroke"/></g>
<g transform="translate(173.2,90.3) scale(8.20,7.00)"><path d="M0,-0.5 V0.5 M-0.48,-0.27 L0.48,0.27 M-0.48,0.27 L0.48,-0.27" fill="none" stroke="#34445a" stroke-width="1.25" vector-effect="non-scaling-stroke"/></g>
<text transform="translate(177.0,106.4) scale(0.1260,0.1179) translate(-0.0,28.0)" text-anchor="middle" font-size="100" fill="#141414">♥</text>
<text transform="translate(182.0,112.2) scale(0.1094,0.1046) translate(-0.0,32.5)" text-anchor="middle" font-size="100" fill="#141414">Ω</text>
<text transform="translate(190.1,102.9) scale(0.1260,0.1179) translate(-0.0,28.0)" text-anchor="middle" font-size="100" fill="#141414">♥</text>
<text transform="translate(193.9,107.9) scale(0.1375,0.1186) translate(-0.0,29.5)" text-anchor="middle" font-size="100" fill="#141414">♠</text>
<g transform="translate(199.6,112.9) scale(5.20,4.80)"><path d="M-0.5,-0.5 C-0.5,0.12 -0.25,0.12 0,0.12 C0.25,0.12 0.5,0.12 0.5,-0.5 M0,-0.5 V0.5 M-0.28,0.5 H0.28" fill="none" stroke="#7c8c94" stroke-width="0.7" vector-effect="non-scaling-stroke"/></g>
<g transform="translate(214.7,107.1) scale(6.20,7.00)"><path d="M-0.46,-0.3 C-0.3,-0.52 -0.1,-0.5 0.05,-0.38 C0.2,-0.28 0.35,-0.3 0.48,-0.46 M0.16,-0.33 C-0.05,-0.1 0.44,-0.05 0.44,0.2 C0.44,0.45 0.1,0.5 -0.15,0.4 C-0.3,0.34 -0.4,0.24 -0.45,0.16" fill="none" stroke="#20262c" stroke-width="1.2800000000000002" stroke-linecap="round" vector-effect="non-scaling-stroke"/></g>
<g transform="translate(237.8,108.9) scale(6.30,6.60)"><path d="M-0.5,-0.5 L0.5,-0.5 L0,0.5 Z" fill="none" stroke="#15181c" stroke-width="0.95" stroke-linejoin="miter" vector-effect="non-scaling-stroke"/><path d="M-0.46,-0.5 L0.02,0.46" fill="none" stroke="#15181c" stroke-width="1.52" vector-effect="non-scaling-stroke"/></g>
<text transform="translate(249.8,111.4) scale(0.1260,0.1179) translate(-0.0,28.0)" text-anchor="middle" font-size="100" fill="#141414">♥</text>
<g transform="translate(264.2,109.6) scale(8.00,9.00)"><path d="M-0.28,-0.32 C-0.52,-0.1 -0.5,0.3 -0.34,0.5 C-0.2,0.52 -0.14,0.3 -0.2,0.1 C-0.27,-0.2 0,-0.47 0.25,-0.44 C0.5,-0.4 0.56,-0.05 0.36,0.12 C0.2,0.26 -0.06,0.2 -0.05,-0.02" fill="none" stroke="#20262c" stroke-width="1.2800000000000002" vector-effect="non-scaling-stroke"/></g>
<text transform="translate(291.8,115.4) scale(0.1467,0.1167) translate(-0.0,30.0)" text-anchor="middle" font-size="100" fill="#141414">♣</text>
<g transform="translate(310.6,118.4) scale(5.20,4.80)"><path d="M-0.5,-0.5 C-0.5,0.12 -0.25,0.12 0,0.12 C0.25,0.12 0.5,0.12 0.5,-0.5 M0,-0.5 V0.5 M-0.28,0.5 H0.28" fill="none" stroke="#7c8c94" stroke-width="0.7" vector-effect="non-scaling-stroke"/></g>
<text transform="translate(316.4,114.2) scale(0.1467,0.1167) translate(-0.0,30.0)" text-anchor="middle" font-size="100" fill="#141414">♣</text>
<g transform="translate(378.5,119.2) scale(5.20,4.80)"><path d="M-0.5,-0.5 C-0.5,0.12 -0.25,0.12 0,0.12 C0.25,0.12 0.5,0.12 0.5,-0.5 M0,-0.5 V0.5 M-0.28,0.5 H0.28" fill="none" stroke="#7c8c94" stroke-width="0.7" vector-effect="non-scaling-stroke"/></g>
<text transform="translate(453.4,119.2) scale(0.1233,0.1000) translate(-0.0,30.0)" text-anchor="middle" font-size="100" fill="#141414">♣</text>
<text transform="translate(39.6,152.1) scale(0.0958,0.1354) translate(-1.5,32.5)" text-anchor="middle" font-size="100" fill="#141414">ϒ</text>
<text transform="translate(57.2,149.6) scale(0.1303,0.1231) translate(-0.0,32.5)" text-anchor="middle" font-size="100" fill="#141414">Π</text>
<text transform="translate(97.9,140.5) scale(0.1467,0.1167) translate(-0.0,30.0)" text-anchor="middle" font-size="100" fill="#141414">♣</text>
<g transform="translate(130.0,153.9) scale(4.30,9.20)"><path d="M-0.22,0.5 V-0.08 M0.22,0.5 V-0.08 M-0.5,0.02 L0,-0.5 L0.5,0.02" fill="none" stroke="#7e8a90" stroke-width="0.7" vector-effect="non-scaling-stroke"/></g>
<g transform="translate(137.5,165.1) scale(6.30,9.30)"><path d="M0.25,-0.2 C0.25,-0.6 -0.4,-0.6 -0.4,-0.2 C-0.4,0.15 0.25,0.1 0.25,-0.2 C0.28,0.1 0.25,0.5 -0.1,0.5 C-0.3,0.5 -0.43,0.4 -0.45,0.25 M0.25,-0.06 L0.5,-0.1" fill="none" stroke="#141414" stroke-width="0.9" stroke-linecap="round" vector-effect="non-scaling-stroke"/></g>
<text transform="translate(153.6,158.9) scale(0.1136,0.1119) translate(-0.0,29.5)" text-anchor="middle" font-size="100" fill="#141414">♦</text>
<g transform="translate(160.6,166.4) scale(4.30,9.20)"><path d="M-0.22,0.5 V-0.08 M0.22,0.5 V-0.08 M-0.5,0.02 L0,-0.5 L0.5,0.02" fill="none" stroke="#7e8a90" stroke-width="0.7" vector-effect="non-scaling-stroke"/></g>
<g transform="translate(173.2,150.1) scale(8.20,7.00)"><path d="M0,-0.5 V0.5 M-0.48,-0.27 L0.48,0.27 M-0.48,0.27 L0.48,-0.27" fill="none" stroke="#34445a" stroke-width="1.25" vector-effect="non-scaling-stroke"/></g>
<text transform="translate(177.0,160.6) scale(0.1260,0.1179) translate(-0.0,28.0)" text-anchor="middle" font-size="100" fill="#141414">♥</text>
<text transform="translate(182.1,164.6) scale(0.1094,0.1046) translate(-0.0,32.5)" text-anchor="middle" font-size="100" fill="#141414">Ω</text>
<text transform="translate(190.1,157.1) scale(0.1260,0.1179) translate(-0.0,28.0)" text-anchor="middle" font-size="100" fill="#141414">♥</text>
<text transform="translate(194.4,161.4) scale(0.1375,0.1186) translate(-0.0,29.5)" text-anchor="middle" font-size="100" fill="#141414">♠</text>
<g transform="translate(199.6,170.2) scale(5.20,4.80)"><path d="M-0.5,-0.5 C-0.5,0.12 -0.25,0.12 0,0.12 C0.25,0.12 0.5,0.12 0.5,-0.5 M0,-0.5 V0.5 M-0.28,0.5 H0.28" fill="none" stroke="#7c8c94" stroke-width="0.7" vector-effect="non-scaling-stroke"/></g>
<text transform="translate(203.4,137.5) scale(0.1467,0.1167) translate(-0.0,30.0)" text-anchor="middle" font-size="100" fill="#141414">♣</text>
<g transform="translate(214.7,156.4) scale(6.20,7.00)"><path d="M-0.46,-0.3 C-0.3,-0.52 -0.1,-0.5 0.05,-0.38 C0.2,-0.28 0.35,-0.3 0.48,-0.46 M0.16,-0.33 C-0.05,-0.1 0.44,-0.05 0.44,0.2 C0.44,0.45 0.1,0.5 -0.15,0.4 C-0.3,0.34 -0.4,0.24 -0.45,0.16" fill="none" stroke="#20262c" stroke-width="1.2800000000000002" stroke-linecap="round" vector-effect="non-scaling-stroke"/></g>
<g transform="translate(221.5,163.4) scale(6.00,7.50)"><path d="M-0.46,-0.44 L0.46,0.44" fill="none" stroke="#20262c" stroke-width="1.2800000000000002" stroke-linecap="round" vector-effect="non-scaling-stroke"/><path d="M0.24,-0.46 L0.42,-0.22 M-0.42,0.2 L-0.22,0.46" fill="none" stroke="#20262c" stroke-width="1.2800000000000002" stroke-linecap="round" vector-effect="non-scaling-stroke"/><path d="M0.42,-0.22 C0.4,-0.1 0.28,-0.02 0.16,0.1 M-0.42,0.2 C-0.45,0.05 -0.35,-0.05 -0.2,-0.18" fill="none" stroke="#20262c" stroke-width="0.8" vector-effect="non-scaling-stroke"/></g>
<g transform="translate(237.8,163.1) scale(6.30,6.60)"><path d="M-0.5,-0.5 L0.5,-0.5 L0,0.5 Z" fill="none" stroke="#15181c" stroke-width="0.95" stroke-linejoin="miter" vector-effect="non-scaling-stroke"/><path d="M-0.46,-0.5 L0.02,0.46" fill="none" stroke="#15181c" stroke-width="1.52" vector-effect="non-scaling-stroke"/></g>
<text transform="translate(249.3,163.9) scale(0.1260,0.1179) translate(-0.0,28.0)" text-anchor="middle" font-size="100" fill="#141414">♥</text>
<g transform="translate(264.2,162.6) scale(8.00,9.00)"><path d="M-0.28,-0.32 C-0.52,-0.1 -0.5,0.3 -0.34,0.5 C-0.2,0.52 -0.14,0.3 -0.2,0.1 C-0.27,-0.2 0,-0.47 0.25,-0.44 C0.5,-0.4 0.56,-0.05 0.36,0.12 C0.2,0.26 -0.06,0.2 -0.05,-0.02" fill="none" stroke="#20262c" stroke-width="1.2800000000000002" vector-effect="non-scaling-stroke"/></g>
<text transform="translate(290.5,161.4) scale(0.1467,0.1167) translate(-0.0,30.0)" text-anchor="middle" font-size="100" fill="#141414">♣</text>
<g transform="translate(308.8,171.4) scale(5.20,4.80)"><path d="M-0.5,-0.5 C-0.5,0.12 -0.25,0.12 0,0.12 C0.25,0.12 0.5,0.12 0.5,-0.5 M0,-0.5 V0.5 M-0.28,0.5 H0.28" fill="none" stroke="#7c8c94" stroke-width="0.7" vector-effect="non-scaling-stroke"/></g>
<text transform="translate(313.1,162.1) scale(0.1467,0.1167) translate(-0.0,30.0)" text-anchor="middle" font-size="100" fill="#141414">♣</text>
<text transform="translate(336.8,169.4) scale(0.1467,0.1167) translate(-0.0,30.0)" text-anchor="middle" font-size="100" fill="#141414">♣</text>
<text transform="translate(338.6,175.9) scale(0.1467,0.1167) translate(-0.0,30.0)" text-anchor="middle" font-size="100" fill="#141414">♣</text>
<g transform="translate(380.2,172.2) scale(5.20,4.80)"><path d="M-0.5,-0.5 C-0.5,0.12 -0.25,0.12 0,0.12 C0.25,0.12 0.5,0.12 0.5,-0.5 M0,-0.5 V0.5 M-0.28,0.5 H0.28" fill="none" stroke="#7c8c94" stroke-width="0.7" vector-effect="non-scaling-stroke"/></g>
<text transform="translate(391.0,168.9) scale(0.1260,0.1179) translate(-0.0,28.0)" text-anchor="middle" font-size="100" fill="#141414">♥</text>
<text transform="translate(450.8,173.2) scale(0.1233,0.1000) translate(-0.0,30.0)" text-anchor="middle" font-size="100" fill="#141414">♣</text>
<text transform="translate(39.6,204.8) scale(0.0958,0.1354) translate(-1.5,32.5)" text-anchor="middle" font-size="100" fill="#141414">ϒ</text>
<text transform="translate(56.4,206.1) scale(0.1303,0.1231) translate(-0.0,32.5)" text-anchor="middle" font-size="100" fill="#141414">Π</text>
<text transform="translate(84.3,217.9) scale(0.1375,0.1186) translate(-0.0,29.5)" text-anchor="middle" font-size="100" fill="#141414">♠</text>
<text transform="translate(99.1,199.8) scale(0.1467,0.1167) translate(-0.0,30.0)" text-anchor="middle" font-size="100" fill="#141414">♣</text>
<text transform="translate(117.5,222.9) scale(0.1303,0.1231) translate(-0.0,32.5)" text-anchor="middle" font-size="100" fill="#141414">Π</text>
<g transform="translate(125.0,223.4) scale(6.30,9.30)"><path d="M0.25,-0.2 C0.25,-0.6 -0.4,-0.6 -0.4,-0.2 C-0.4,0.15 0.25,0.1 0.25,-0.2 C0.28,0.1 0.25,0.5 -0.1,0.5 C-0.3,0.5 -0.43,0.4 -0.45,0.25 M0.25,-0.06 L0.5,-0.1" fill="none" stroke="#141414" stroke-width="0.9" stroke-linecap="round" vector-effect="non-scaling-stroke"/></g>
<g transform="translate(130.0,208.3) scale(4.30,9.20)"><path d="M-0.22,0.5 V-0.08 M0.22,0.5 V-0.08 M-0.5,0.02 L0,-0.5 L0.5,0.02" fill="none" stroke="#7e8a90" stroke-width="0.7" vector-effect="non-scaling-stroke"/></g>
<g transform="translate(138.0,218.4) scale(6.30,9.30)"><path d="M0.25,-0.2 C0.25,-0.6 -0.4,-0.6 -0.4,-0.2 C-0.4,0.15 0.25,0.1 0.25,-0.2 C0.28,0.1 0.25,0.5 -0.1,0.5 C-0.3,0.5 -0.43,0.4 -0.45,0.25 M0.25,-0.06 L0.5,-0.1" fill="none" stroke="#141414" stroke-width="0.9" stroke-linecap="round" vector-effect="non-scaling-stroke"/></g>
<text transform="translate(155.1,214.1) scale(0.1136,0.1119) translate(-0.0,29.5)" text-anchor="middle" font-size="100" fill="#141414">♦</text>
<g transform="translate(160.6,222.9) scale(4.30,9.20)"><path d="M-0.22,0.5 V-0.08 M0.22,0.5 V-0.08 M-0.5,0.02 L0,-0.5 L0.5,0.02" fill="none" stroke="#7e8a90" stroke-width="0.7" vector-effect="non-scaling-stroke"/></g>
<g transform="translate(173.7,200.6) scale(8.20,7.00)"><path d="M0,-0.5 V0.5 M-0.48,-0.27 L0.48,0.27 M-0.48,0.27 L0.48,-0.27" fill="none" stroke="#34445a" stroke-width="1.25" vector-effect="non-scaling-stroke"/></g>
<text transform="translate(183.1,224.2) scale(0.1094,0.1046) translate(-0.0,32.5)" text-anchor="middle" font-size="100" fill="#141414">Ω</text>
<text transform="translate(190.6,219.9) scale(0.1260,0.1179) translate(-0.0,28.0)" text-anchor="middle" font-size="100" fill="#141414">♥</text>
<text transform="translate(195.1,223.4) scale(0.1375,0.1186) translate(-0.0,29.5)" text-anchor="middle" font-size="100" fill="#141414">♠</text>
<g transform="translate(199.6,229.2) scale(5.20,4.80)"><path d="M-0.5,-0.5 C-0.5,0.12 -0.25,0.12 0,0.12 C0.25,0.12 0.5,0.12 0.5,-0.5 M0,-0.5 V0.5 M-0.28,0.5 H0.28" fill="none" stroke="#7c8c94" stroke-width="0.7" vector-effect="non-scaling-stroke"/></g>
<text transform="translate(204.6,200.3) scale(0.1467,0.1167) translate(-0.0,30.0)" text-anchor="middle" font-size="100" fill="#141414">♣</text>
<g transform="translate(210.2,222.4) scale(6.30,6.60)"><path d="M-0.5,-0.5 L0.5,-0.5 L0,0.5 Z" fill="none" stroke="#15181c" stroke-width="0.95" stroke-linejoin="miter" vector-effect="non-scaling-stroke"/><path d="M-0.46,-0.5 L0.02,0.46" fill="none" stroke="#15181c" stroke-width="1.52" vector-effect="non-scaling-stroke"/></g>
<g transform="translate(215.2,224.9) scale(6.20,7.00)"><path d="M-0.46,-0.3 C-0.3,-0.52 -0.1,-0.5 0.05,-0.38 C0.2,-0.28 0.35,-0.3 0.48,-0.46 M0.16,-0.33 C-0.05,-0.1 0.44,-0.05 0.44,0.2 C0.44,0.45 0.1,0.5 -0.15,0.4 C-0.3,0.34 -0.4,0.24 -0.45,0.16" fill="none" stroke="#20262c" stroke-width="1.2800000000000002" stroke-linecap="round" vector-effect="non-scaling-stroke"/></g>
<g transform="translate(222.2,226.7) scale(6.00,7.50)"><path d="M-0.46,-0.44 L0.46,0.44" fill="none" stroke="#20262c" stroke-width="1.2800000000000002" stroke-linecap="round" vector-effect="non-scaling-stroke"/><path d="M0.24,-0.46 L0.42,-0.22 M-0.42,0.2 L-0.22,0.46" fill="none" stroke="#20262c" stroke-width="1.2800000000000002" stroke-linecap="round" vector-effect="non-scaling-stroke"/><path d="M0.42,-0.22 C0.4,-0.1 0.28,-0.02 0.16,0.1 M-0.42,0.2 C-0.45,0.05 -0.35,-0.05 -0.2,-0.18" fill="none" stroke="#20262c" stroke-width="0.8" vector-effect="non-scaling-stroke"/></g>
<g transform="translate(238.5,224.2) scale(6.30,6.60)"><path d="M-0.5,-0.5 L0.5,-0.5 L0,0.5 Z" fill="none" stroke="#15181c" stroke-width="0.95" stroke-linejoin="miter" vector-effect="non-scaling-stroke"/><path d="M-0.46,-0.5 L0.02,0.46" fill="none" stroke="#15181c" stroke-width="1.52" vector-effect="non-scaling-stroke"/></g>
<text transform="translate(251.6,225.4) scale(0.1260,0.1179) translate(-0.0,28.0)" text-anchor="middle" font-size="100" fill="#141414">♥</text>
<g transform="translate(264.2,223.4) scale(8.00,9.00)"><path d="M-0.28,-0.32 C-0.52,-0.1 -0.5,0.3 -0.34,0.5 C-0.2,0.52 -0.14,0.3 -0.2,0.1 C-0.27,-0.2 0,-0.47 0.25,-0.44 C0.5,-0.4 0.56,-0.05 0.36,0.12 C0.2,0.26 -0.06,0.2 -0.05,-0.02" fill="none" stroke="#20262c" stroke-width="1.2800000000000002" vector-effect="non-scaling-stroke"/></g>
<text transform="translate(289.8,217.4) scale(0.1467,0.1167) translate(-0.0,30.0)" text-anchor="middle" font-size="100" fill="#141414">♣</text>
<g transform="translate(308.8,228.7) scale(5.20,4.80)"><path d="M-0.5,-0.5 C-0.5,0.12 -0.25,0.12 0,0.12 C0.25,0.12 0.5,0.12 0.5,-0.5 M0,-0.5 V0.5 M-0.28,0.5 H0.28" fill="none" stroke="#7c8c94" stroke-width="0.7" vector-effect="non-scaling-stroke"/></g>
<text transform="translate(335.2,225.1) scale(0.1467,0.1167) translate(-0.0,30.0)" text-anchor="middle" font-size="100" fill="#141414">♣</text>
<g transform="translate(378.5,231.2) scale(5.20,4.80)"><path d="M-0.5,-0.5 C-0.5,0.12 -0.25,0.12 0,0.12 C0.25,0.12 0.5,0.12 0.5,-0.5 M0,-0.5 V0.5 M-0.28,0.5 H0.28" fill="none" stroke="#7c8c94" stroke-width="0.7" vector-effect="non-scaling-stroke"/></g>
<text transform="translate(391.0,229.9) scale(0.1260,0.1179) translate(-0.0,28.0)" text-anchor="middle" font-size="100" fill="#141414">♥</text>
<text transform="translate(39.6,251.5) scale(0.0958,0.1354) translate(-1.5,32.5)" text-anchor="middle" font-size="100" fill="#141414">ϒ</text>
<g transform="translate(33.1,265.9) scale(6.30,6.60)"><path d="M-0.5,-0.5 L0.5,-0.5 L0,0.5 Z" fill="none" stroke="#15181c" stroke-width="0.95" stroke-linejoin="miter" vector-effect="non-scaling-stroke"/><path d="M-0.46,-0.5 L0.02,0.46" fill="none" stroke="#15181c" stroke-width="1.52" vector-effect="non-scaling-stroke"/></g>
<text transform="translate(83.1,266.4) scale(0.1375,0.1186) translate(-0.0,29.5)" text-anchor="middle" font-size="100" fill="#141414">♠</text>
<g transform="translate(104.9,273.4) scale(6.30,9.30)"><path d="M0.25,-0.2 C0.25,-0.6 -0.4,-0.6 -0.4,-0.2 C-0.4,0.15 0.25,0.1 0.25,-0.2 C0.28,0.1 0.25,0.5 -0.1,0.5 C-0.3,0.5 -0.43,0.4 -0.45,0.25 M0.25,-0.06 L0.5,-0.1" fill="none" stroke="#141414" stroke-width="0.9" stroke-linecap="round" vector-effect="non-scaling-stroke"/></g>
<g transform="translate(131.0,268.4) scale(4.30,9.20)"><path d="M-0.22,0.5 V-0.08 M0.22,0.5 V-0.08 M-0.5,0.02 L0,-0.5 L0.5,0.02" fill="none" stroke="#7e8a90" stroke-width="0.7" vector-effect="non-scaling-stroke"/></g>
<text transform="translate(153.6,268.4) scale(0.1136,0.1119) translate(-0.0,29.5)" text-anchor="middle" font-size="100" fill="#141414">♦</text>
<g transform="translate(160.1,277.1) scale(4.30,9.20)"><path d="M-0.22,0.5 V-0.08 M0.22,0.5 V-0.08 M-0.5,0.02 L0,-0.5 L0.5,0.02" fill="none" stroke="#7e8a90" stroke-width="0.7" vector-effect="non-scaling-stroke"/></g>
<g transform="translate(173.7,247.5) scale(8.20,7.00)"><path d="M0,-0.5 V0.5 M-0.48,-0.27 L0.48,0.27 M-0.48,0.27 L0.48,-0.27" fill="none" stroke="#34445a" stroke-width="1.25" vector-effect="non-scaling-stroke"/></g>
<text transform="translate(177.0,273.4) scale(0.1260,0.1179) translate(-0.0,28.0)" text-anchor="middle" font-size="100" fill="#141414">♥</text>
<text transform="translate(182.1,279.2) scale(0.1094,0.1046) translate(-0.0,32.5)" text-anchor="middle" font-size="100" fill="#141414">Ω</text>
<text transform="translate(190.1,269.1) scale(0.1260,0.1179) translate(-0.0,28.0)" text-anchor="middle" font-size="100" fill="#141414">♥</text>
<text transform="translate(195.1,274.1) scale(0.1375,0.1186) translate(-0.0,29.5)" text-anchor="middle" font-size="100" fill="#141414">♠</text>
<text transform="translate(202.1,273.4) scale(0.1467,0.1167) translate(-0.0,30.0)" text-anchor="middle" font-size="100" fill="#141414">♣</text>
<g transform="translate(210.2,266.6) scale(6.30,6.60)"><path d="M-0.5,-0.5 L0.5,-0.5 L0,0.5 Z" fill="none" stroke="#15181c" stroke-width="0.95" stroke-linejoin="miter" vector-effect="non-scaling-stroke"/><path d="M-0.46,-0.5 L0.02,0.46" fill="none" stroke="#15181c" stroke-width="1.52" vector-effect="non-scaling-stroke"/></g>
<g transform="translate(215.2,272.9) scale(6.20,7.00)"><path d="M-0.46,-0.3 C-0.3,-0.52 -0.1,-0.5 0.05,-0.38 C0.2,-0.28 0.35,-0.3 0.48,-0.46 M0.16,-0.33 C-0.05,-0.1 0.44,-0.05 0.44,0.2 C0.44,0.45 0.1,0.5 -0.15,0.4 C-0.3,0.34 -0.4,0.24 -0.45,0.16" fill="none" stroke="#20262c" stroke-width="1.2800000000000002" stroke-linecap="round" vector-effect="non-scaling-stroke"/></g>
<g transform="translate(221.5,279.7) scale(6.00,7.50)"><path d="M-0.46,-0.44 L0.46,0.44" fill="none" stroke="#20262c" stroke-width="1.2800000000000002" stroke-linecap="round" vector-effect="non-scaling-stroke"/><path d="M0.24,-0.46 L0.42,-0.22 M-0.42,0.2 L-0.22,0.46" fill="none" stroke="#20262c" stroke-width="1.2800000000000002" stroke-linecap="round" vector-effect="non-scaling-stroke"/><path d="M0.42,-0.22 C0.4,-0.1 0.28,-0.02 0.16,0.1 M-0.42,0.2 C-0.45,0.05 -0.35,-0.05 -0.2,-0.18" fill="none" stroke="#20262c" stroke-width="0.8" vector-effect="non-scaling-stroke"/></g>
<g transform="translate(237.8,276.4) scale(6.30,6.60)"><path d="M-0.5,-0.5 L0.5,-0.5 L0,0.5 Z" fill="none" stroke="#15181c" stroke-width="0.95" stroke-linejoin="miter" vector-effect="non-scaling-stroke"/><path d="M-0.46,-0.5 L0.02,0.46" fill="none" stroke="#15181c" stroke-width="1.52" vector-effect="non-scaling-stroke"/></g>
<text transform="translate(250.3,278.4) scale(0.1260,0.1179) translate(-0.0,28.0)" text-anchor="middle" font-size="100" fill="#141414">♥</text>
<g transform="translate(264.2,274.1) scale(8.00,9.00)"><path d="M-0.28,-0.32 C-0.52,-0.1 -0.5,0.3 -0.34,0.5 C-0.2,0.52 -0.14,0.3 -0.2,0.1 C-0.27,-0.2 0,-0.47 0.25,-0.44 C0.5,-0.4 0.56,-0.05 0.36,0.12 C0.2,0.26 -0.06,0.2 -0.05,-0.02" fill="none" stroke="#20262c" stroke-width="1.2800000000000002" vector-effect="non-scaling-stroke"/></g>
<g transform="translate(379.0,284.2) scale(5.20,4.80)"><path d="M-0.5,-0.5 C-0.5,0.12 -0.25,0.12 0,0.12 C0.25,0.12 0.5,0.12 0.5,-0.5 M0,-0.5 V0.5 M-0.28,0.5 H0.28" fill="none" stroke="#7c8c94" stroke-width="0.7" vector-effect="non-scaling-stroke"/></g>
<text transform="translate(39.6,310.3) scale(0.0958,0.1354) translate(-1.5,32.5)" text-anchor="middle" font-size="100" fill="#141414">ϒ</text>
<text transform="translate(56.4,319.8) scale(0.1303,0.1231) translate(-0.0,32.5)" text-anchor="middle" font-size="100" fill="#141414">Π</text>
<text transform="translate(84.3,326.6) scale(0.1375,0.1186) translate(-0.0,29.5)" text-anchor="middle" font-size="100" fill="#141414">♠</text>
<text transform="translate(97.9,327.4) scale(0.1467,0.1167) translate(-0.0,30.0)" text-anchor="middle" font-size="100" fill="#141414">♣</text>
<g transform="translate(106.2,329.9) scale(6.30,9.30)"><path d="M0.25,-0.2 C0.25,-0.6 -0.4,-0.6 -0.4,-0.2 C-0.4,0.15 0.25,0.1 0.25,-0.2 C0.28,0.1 0.25,0.5 -0.1,0.5 C-0.3,0.5 -0.43,0.4 -0.45,0.25 M0.25,-0.06 L0.5,-0.1" fill="none" stroke="#141414" stroke-width="0.9" stroke-linecap="round" vector-effect="non-scaling-stroke"/></g>
<g transform="translate(130.0,324.3) scale(4.30,9.20)"><path d="M-0.22,0.5 V-0.08 M0.22,0.5 V-0.08 M-0.5,0.02 L0,-0.5 L0.5,0.02" fill="none" stroke="#7e8a90" stroke-width="0.7" vector-effect="non-scaling-stroke"/></g>
<text transform="translate(137.3,331.9) scale(0.1045,0.1277) translate(-0.5,32.5)" text-anchor="middle" font-size="100" fill="#141414">Φ</text>
<text transform="translate(155.1,316.6) scale(0.1136,0.1119) translate(-0.0,29.5)" text-anchor="middle" font-size="100" fill="#141414">♦</text>
<g transform="translate(160.6,333.6) scale(4.30,9.20)"><path d="M-0.22,0.5 V-0.08 M0.22,0.5 V-0.08 M-0.5,0.02 L0,-0.5 L0.5,0.02" fill="none" stroke="#7e8a90" stroke-width="0.7" vector-effect="non-scaling-stroke"/></g>
<g transform="translate(173.7,303.5) scale(8.20,7.00)"><path d="M0,-0.5 V0.5 M-0.48,-0.27 L0.48,0.27 M-0.48,0.27 L0.48,-0.27" fill="none" stroke="#34445a" stroke-width="1.25" vector-effect="non-scaling-stroke"/></g>
<text transform="translate(182.1,331.1) scale(0.1094,0.1046) translate(-0.0,32.5)" text-anchor="middle" font-size="100" fill="#141414">Ω</text>
<text transform="translate(190.1,326.1) scale(0.1260,0.1179) translate(-0.0,28.0)" text-anchor="middle" font-size="100" fill="#141414">♥</text>
<text transform="translate(195.1,329.4) scale(0.1375,0.1186) translate(-0.0,29.5)" text-anchor="middle" font-size="100" fill="#141414">♠</text>
<g transform="translate(199.6,336.2) scale(5.20,4.80)"><path d="M-0.5,-0.5 C-0.5,0.12 -0.25,0.12 0,0.12 C0.25,0.12 0.5,0.12 0.5,-0.5 M0,-0.5 V0.5 M-0.28,0.5 H0.28" fill="none" stroke="#7c8c94" stroke-width="0.7" vector-effect="non-scaling-stroke"/></g>
<g transform="translate(209.7,327.4) scale(6.30,6.60)"><path d="M-0.5,-0.5 L0.5,-0.5 L0,0.5 Z" fill="none" stroke="#15181c" stroke-width="0.95" stroke-linejoin="miter" vector-effect="non-scaling-stroke"/><path d="M-0.46,-0.5 L0.02,0.46" fill="none" stroke="#15181c" stroke-width="1.52" vector-effect="non-scaling-stroke"/></g>
<g transform="translate(215.2,326.6) scale(6.20,7.00)"><path d="M-0.46,-0.3 C-0.3,-0.52 -0.1,-0.5 0.05,-0.38 C0.2,-0.28 0.35,-0.3 0.48,-0.46 M0.16,-0.33 C-0.05,-0.1 0.44,-0.05 0.44,0.2 C0.44,0.45 0.1,0.5 -0.15,0.4 C-0.3,0.34 -0.4,0.24 -0.45,0.16" fill="none" stroke="#20262c" stroke-width="1.2800000000000002" stroke-linecap="round" vector-effect="non-scaling-stroke"/></g>
<g transform="translate(221.5,334.9) scale(6.00,7.50)"><path d="M-0.46,-0.44 L0.46,0.44" fill="none" stroke="#20262c" stroke-width="1.2800000000000002" stroke-linecap="round" vector-effect="non-scaling-stroke"/><path d="M0.24,-0.46 L0.42,-0.22 M-0.42,0.2 L-0.22,0.46" fill="none" stroke="#20262c" stroke-width="1.2800000000000002" stroke-linecap="round" vector-effect="non-scaling-stroke"/><path d="M0.42,-0.22 C0.4,-0.1 0.28,-0.02 0.16,0.1 M-0.42,0.2 C-0.45,0.05 -0.35,-0.05 -0.2,-0.18" fill="none" stroke="#20262c" stroke-width="0.8" vector-effect="non-scaling-stroke"/></g>
<g transform="translate(237.8,331.9) scale(6.30,6.60)"><path d="M-0.5,-0.5 L0.5,-0.5 L0,0.5 Z" fill="none" stroke="#15181c" stroke-width="0.95" stroke-linejoin="miter" vector-effect="non-scaling-stroke"/><path d="M-0.46,-0.5 L0.02,0.46" fill="none" stroke="#15181c" stroke-width="1.52" vector-effect="non-scaling-stroke"/></g>
<text transform="translate(250.3,334.9) scale(0.1260,0.1179) translate(-0.0,28.0)" text-anchor="middle" font-size="100" fill="#141414">♥</text>
<g transform="translate(264.2,331.1) scale(8.00,9.00)"><path d="M-0.28,-0.32 C-0.52,-0.1 -0.5,0.3 -0.34,0.5 C-0.2,0.52 -0.14,0.3 -0.2,0.1 C-0.27,-0.2 0,-0.47 0.25,-0.44 C0.5,-0.4 0.56,-0.05 0.36,0.12 C0.2,0.26 -0.06,0.2 -0.05,-0.02" fill="none" stroke="#20262c" stroke-width="1.2800000000000002" vector-effect="non-scaling-stroke"/></g>
<text transform="translate(292.3,336.2) scale(0.1467,0.1167) translate(-0.0,30.0)" text-anchor="middle" font-size="100" fill="#141414">♣</text>
<g transform="translate(311.1,337.9) scale(5.20,4.80)"><path d="M-0.5,-0.5 C-0.5,0.12 -0.25,0.12 0,0.12 C0.25,0.12 0.5,0.12 0.5,-0.5 M0,-0.5 V0.5 M-0.28,0.5 H0.28" fill="none" stroke="#7c8c94" stroke-width="0.7" vector-effect="non-scaling-stroke"/></g>
<text transform="translate(316.9,333.6) scale(0.1467,0.1167) translate(-0.0,30.0)" text-anchor="middle" font-size="100" fill="#141414">♣</text>
<g transform="translate(381.0,338.2) scale(5.20,4.80)"><path d="M-0.5,-0.5 C-0.5,0.12 -0.25,0.12 0,0.12 C0.25,0.12 0.5,0.12 0.5,-0.5 M0,-0.5 V0.5 M-0.28,0.5 H0.28" fill="none" stroke="#7c8c94" stroke-width="0.7" vector-effect="non-scaling-stroke"/></g>
<text transform="translate(453.0,341.9) scale(0.1233,0.1000) translate(-0.0,30.0)" text-anchor="middle" font-size="100" fill="#141414">♣</text>
<text transform="translate(595.3,28.5) scale(0.1600,0.1200) translate(-0.0,30.0)" text-anchor="middle" font-size="100" fill="#1a1a1a">♣</text>
<text transform="translate(595.3,45.5) scale(0.1591,0.1305) translate(-0.0,29.5)" text-anchor="middle" font-size="100" fill="#1a1a1a">♦</text>
<g transform="translate(596.7,64.0) scale(9.50,9.00)"><path d="M-0.46,-0.44 L0.46,0.44" fill="none" stroke="#1a1a1a" stroke-width="1.6" stroke-linecap="round" vector-effect="non-scaling-stroke"/><path d="M0.24,-0.46 L0.42,-0.22 M-0.42,0.2 L-0.22,0.46" fill="none" stroke="#1a1a1a" stroke-width="1.6" stroke-linecap="round" vector-effect="non-scaling-stroke"/><path d="M0.42,-0.22 C0.4,-0.1 0.28,-0.02 0.16,0.1 M-0.42,0.2 C-0.45,0.05 -0.35,-0.05 -0.2,-0.18" fill="none" stroke="#1a1a1a" stroke-width="1.0" vector-effect="non-scaling-stroke"/></g>
<g transform="translate(594.2,83.1) scale(7.40,8.80)"><path d="M-0.46,-0.3 C-0.3,-0.52 -0.1,-0.5 0.05,-0.38 C0.2,-0.28 0.35,-0.3 0.48,-0.46 M0.16,-0.33 C-0.05,-0.1 0.44,-0.05 0.44,0.2 C0.44,0.45 0.1,0.5 -0.15,0.4 C-0.3,0.34 -0.4,0.24 -0.45,0.16" fill="none" stroke="#1a1a1a" stroke-width="1.6" stroke-linecap="round" vector-effect="non-scaling-stroke"/></g>
<text transform="translate(595.3,100.2) scale(0.1455,0.1385) translate(-0.0,32.5)" text-anchor="middle" font-size="100" fill="#1a1a1a">Π</text>
<g transform="translate(595.9,121.8) scale(9.60,9.20)"><path d="M-0.5,-0.5 L0.5,-0.5 L0,0.5 Z" fill="none" stroke="#1a1a1a" stroke-width="1.0" stroke-linejoin="miter" vector-effect="non-scaling-stroke"/><path d="M-0.46,-0.5 L0.02,0.46" fill="none" stroke="#1a1a1a" stroke-width="1.6" vector-effect="non-scaling-stroke"/></g>
<text transform="translate(596.9,140.1) scale(0.1183,0.1492) translate(-1.5,32.5)" text-anchor="middle" font-size="100" fill="#1a1a1a">ϒ</text>
<text transform="translate(596.5,160.3) scale(0.1562,0.1292) translate(-0.0,32.5)" text-anchor="middle" font-size="100" fill="#1a1a1a">Ω</text>
<g transform="translate(596.9,179.6) scale(8.00,11.50)"><path d="M-0.22,0.5 V-0.08 M0.22,0.5 V-0.08 M-0.5,0.02 L0,-0.5 L0.5,0.02" fill="none" stroke="#1a1a1a" stroke-width="1.0" vector-effect="non-scaling-stroke"/></g>
<g transform="translate(596.9,197.2) scale(5.50,5.90)"><path d="M0,-0.5 V0.5 M-0.48,-0.27 L0.48,0.27 M-0.48,0.27 L0.48,-0.27" fill="none" stroke="#1a1a1a" stroke-width="1.5" vector-effect="non-scaling-stroke"/></g>
<text transform="translate(596.5,212.8) scale(0.1840,0.1286) translate(-0.0,28.0)" text-anchor="middle" font-size="100" fill="#1a1a1a">♥</text>
<text transform="translate(596.9,244.3) scale(0.1875,0.1169) translate(-0.0,29.5)" text-anchor="middle" font-size="100" fill="#1a1a1a">♠</text>
<text transform="translate(596.5,270.3) scale(0.1719,0.1545) translate(-0.0,32.0)" text-anchor="middle" font-size="100" fill="#1a1a1a">Θ</text>
<text transform="translate(596.0,313.9) scale(0.1297,0.1385) translate(-0.0,32.5)" text-anchor="middle" font-size="100" fill="#1a1a1a">Ψ</text>
<g transform="translate(598.9,344.2) scale(7.60,10.20)"><path d="M0.25,-0.2 C0.25,-0.6 -0.4,-0.6 -0.4,-0.2 C-0.4,0.15 0.25,0.1 0.25,-0.2 C0.28,0.1 0.25,0.5 -0.1,0.5 C-0.3,0.5 -0.43,0.4 -0.45,0.25 M0.25,-0.06 L0.5,-0.1" fill="none" stroke="#1a1a1a" stroke-width="1.4" stroke-linecap="round" vector-effect="non-scaling-stroke"/></g>
<g transform="translate(597.7,360.1) scale(11.50,10.00)"><path d="M-0.28,-0.32 C-0.52,-0.1 -0.5,0.3 -0.34,0.5 C-0.2,0.52 -0.14,0.3 -0.2,0.1 C-0.27,-0.2 0,-0.47 0.25,-0.44 C0.5,-0.4 0.56,-0.05 0.36,0.12 C0.2,0.26 -0.06,0.2 -0.05,-0.02" fill="none" stroke="#1a1a1a" stroke-width="1.1199999999999999" vector-effect="non-scaling-stroke"/></g>
<text x="606.1" y="31.3" font-size="12.6" textLength="67.5" lengthAdjust="spacingAndGlyphs" font-weight="bold" fill="#363636">Portlandite</text>
<text x="606.7" y="49.0" font-size="12.6" textLength="41.6" lengthAdjust="spacingAndGlyphs" font-weight="bold" fill="#363636">Quartz</text>
<text x="606.7" y="67.5" font-size="12.6" textLength="49.8" lengthAdjust="spacingAndGlyphs" font-weight="bold" fill="#363636">Fe<tspan font-size="7.8" dy="3.0">2</tspan><tspan dy="-3.0">SiO</tspan><tspan font-size="7.8" dy="3.0">4</tspan></text>
<text x="607.3" y="86.0" font-size="12.6" textLength="36.4" lengthAdjust="spacingAndGlyphs" font-weight="bold" fill="#363636">Fe<tspan font-size="7.8" dy="3.0">3</tspan><tspan dy="-3.0">O</tspan><tspan font-size="7.8" dy="3.0">4</tspan></text>
<text x="606.7" y="103.0" font-size="12.6" textLength="59.8" lengthAdjust="spacingAndGlyphs" font-weight="bold" fill="#363636">Gypsum</text>
<text x="606.7" y="124.4" font-size="12.6" textLength="64.1" lengthAdjust="spacingAndGlyphs" font-weight="bold" fill="#363636">Muscovite</text>
<text x="606.1" y="144.3" font-size="12.6" textLength="56.7" lengthAdjust="spacingAndGlyphs" font-weight="bold" fill="#363636">Ettringite</text>
<text x="606.6" y="164.1" font-size="12.6" textLength="56.2" lengthAdjust="spacingAndGlyphs" font-weight="bold" fill="#363636">Dolomite</text>
<text x="606.1" y="183.0" font-size="12.6" textLength="66.6" lengthAdjust="spacingAndGlyphs" font-weight="bold" fill="#363636">Microcline</text>
<text x="607.3" y="200.6" font-size="12.6" textLength="43.3" lengthAdjust="spacingAndGlyphs" font-weight="bold" fill="#363636">Calcite</text>
<text x="607.3" y="215.7" font-size="12.6" textLength="50.8" lengthAdjust="spacingAndGlyphs" font-weight="bold" fill="#363636">Calcium-</text>
<text x="606.9" y="230.0" font-size="12.6" textLength="77.1" lengthAdjust="spacingAndGlyphs" font-weight="bold" fill="#363636">Silicate (C<tspan font-size="7.8" dy="3.0">3</tspan><tspan dy="-3.0">S)</tspan></text>
<text x="607.3" y="245.9" font-size="12.6" textLength="50.8" lengthAdjust="spacingAndGlyphs" font-weight="bold" fill="#363636">Calcium-</text>
<text x="606.9" y="260.2" font-size="12.6" textLength="77.1" lengthAdjust="spacingAndGlyphs" font-weight="bold" fill="#363636">Silicate (C<tspan font-size="7.8" dy="3.0">2</tspan><tspan dy="-3.0">S)</tspan></text>
<text x="607.8" y="274.0" font-size="12.6" textLength="50.2" lengthAdjust="spacingAndGlyphs" font-weight="bold" fill="#363636">Calcium-</text>
<text x="607.8" y="287.9" font-size="12.6" textLength="64.6" lengthAdjust="spacingAndGlyphs" font-weight="bold" fill="#363636">Aluminum-</text>
<text x="607.8" y="302.2" font-size="12.6" textLength="67.1" lengthAdjust="spacingAndGlyphs" font-weight="bold" fill="#363636">Oxide(C<tspan font-size="7.8" dy="3.0">3</tspan><tspan dy="-3.0">A)</tspan></text>
<text x="606.6" y="315.6" font-size="10.6" textLength="75.9" lengthAdjust="spacingAndGlyphs" font-weight="bold" fill="#363636">Brownmillerite</text>
<text x="606.6" y="329.9" font-size="10.6" textLength="36.9" lengthAdjust="spacingAndGlyphs" font-weight="bold" fill="#363636">(C<tspan font-size="6.6" dy="2.5">4</tspan><tspan dy="-2.5">AF)</tspan></text>
<text x="608.9" y="346.2" font-size="12.6" textLength="33.3" lengthAdjust="spacingAndGlyphs" font-weight="bold" fill="#363636">Albite</text>
<text x="607.8" y="362.6" font-size="12.6" textLength="59.2" lengthAdjust="spacingAndGlyphs" font-weight="bold" fill="#363636">Corundum</text>
<text x="607.3" y="377.8" font-size="12.6" textLength="42.9" lengthAdjust="spacingAndGlyphs" font-weight="bold" fill="#363636">(Al<tspan font-size="7.8" dy="3.0">2</tspan><tspan dy="-3.0">O</tspan><tspan font-size="7.8" dy="3.0">3</tspan><tspan dy="-3.0">)</tspan></text>
<rect x="4.5" y="465.6" width="560.2" height="199.8" fill="#fea6fe"/>
<rect x="4.5" y="665.4" width="560.2" height="16.1" fill="#f0c8fc"/>
<rect x="4.5" y="681.5" width="560.2" height="16.9" fill="#e4ccfc"/>
<rect x="4.5" y="698.35" width="560.2" height="17.5" fill="#d0d4fc"/>
<rect x="4.5" y="715.9" width="560.2" height="17.4" fill="#c8e8fc"/>
<rect x="4.5" y="733.3" width="560.2" height="16.0" fill="#c0fcfc"/>
<rect x="4.5" y="749.3" width="560.2" height="17.2" fill="#c0fce4"/>
<rect x="4.5" y="766.5" width="560.2" height="16.9" fill="#c8f8c4"/>
<rect x="4.5" y="783.4" width="560.2" height="17.5" fill="#ecf8d0"/>
<rect x="4.5" y="800.9" width="560.2" height="17.2" fill="#f8f4d0"/>
<rect x="4.5" y="818.1" width="560.2" height="16.0" fill="#f8ecd0"/>
<rect x="4.5" y="834.1" width="560.2" height="17.2" fill="#fce4d0"/>
<rect x="4.5" y="851.3" width="560.2" height="16.1" fill="#fcd4d4"/>
<rect x="4.5" y="867.4" width="560.2" height="17.0" fill="#fcc8e8"/>
<rect x="4.5" y="884.4" width="560.2" height="15.1" fill="#fca0d4"/>
<polyline points="5.00,531.8 5.45,532.9 5.90,532.7 6.35,532.4 6.80,531.7 7.25,532.7 7.70,535.4 8.15,535.6 8.60,536.4 9.05,535.9 9.50,535.9 9.95,536.1 10.40,533.5 10.85,536.3 11.30,537.8 11.75,537.9 12.20,534.9 12.65,533.7 13.10,535.2 13.55,536.8 14.00,538.5 14.45,538.8 14.90,539.7 15.35,538.7 15.80,539.6 16.25,540.7 16.70,539.5 17.15,542.7 17.60,542.8 18.05,543.3 18.50,541.4 18.95,540.3 19.40,541.1 19.85,542.1 20.30,543.6 20.75,543.9 21.20,542.9 21.65,542.0 22.10,542.6 22.55,545.7 23.00,544.1 23.45,544.5 23.90,545.7 24.35,543.2 24.80,544.4 25.25,547.5 25.70,543.7 26.15,544.2 26.60,545.9 27.05,545.2 27.50,546.9 27.95,547.1 28.40,544.9 28.85,547.4 29.30,548.4 29.75,547.8 30.20,547.1 30.65,543.7 31.10,540.9 31.55,538.2 32.00,541.3 32.45,543.2 32.50,543.3 32.75,517.6 32.85,517.6 33.10,544.5 33.35,544.3 33.80,545.6 34.25,547.6 34.70,551.5 35.15,548.3 35.60,547.3 36.05,550.5 36.50,553.7 36.95,553.5 37.40,549.5 37.85,547.2 38.30,551.3 38.75,551.8 39.20,550.8 39.65,553.9 40.10,555.8 40.55,554.7 41.00,554.5 41.45,555.1 41.90,557.2 42.35,556.8 42.80,556.2 43.25,556.5 43.70,553.6 44.15,556.7 44.60,558.4 45.05,557.8 45.50,554.1 45.95,554.6 46.40,558.0 46.85,555.3 47.30,556.2 47.75,559.2 48.20,556.5 48.65,559.4 49.10,559.7 49.55,558.0 49.60,558.1 49.85,539.5 49.95,539.5 50.20,559.6 50.45,560.7 50.90,561.5 51.35,564.0 51.80,563.2 52.25,563.2 52.70,566.2 53.15,566.2 53.60,564.7 54.05,567.3 54.50,569.8 54.95,567.9 55.40,565.7 55.85,567.5 56.30,568.8 56.75,569.1 57.20,572.1 57.65,570.1 58.10,572.4 58.55,570.7 59.00,570.3 59.45,573.2 59.90,575.4 60.35,575.9 60.80,575.5 61.25,575.3 61.70,575.8 62.15,576.9 62.60,576.6 63.05,577.3 63.50,578.6 63.95,578.4 64.40,579.7 64.85,580.5 65.30,583.0 65.75,581.9 66.20,579.9 66.65,579.7 67.10,580.5 67.55,582.4 68.00,581.3 68.45,581.8 68.90,584.6 69.35,579.3 69.80,578.7 70.25,581.9 70.70,583.3 71.15,583.4 71.60,582.5 72.05,583.9 72.50,584.3 72.95,583.1 73.40,587.1 73.85,586.2 74.30,583.7 74.75,584.0 75.20,584.2 75.65,584.2 76.10,580.1 76.55,581.2 76.80,583.2 77.05,565.2 77.15,565.2 77.40,583.2 77.45,583.0 77.90,584.1 78.35,587.4 78.80,588.8 79.25,590.2 79.70,586.4 80.15,586.6 80.60,587.8 81.05,589.5 81.50,591.2 81.95,586.2 82.40,589.6 82.85,588.6 83.30,590.4 83.75,588.9 84.20,590.2 84.65,593.1 85.10,592.1 85.55,592.0 86.00,593.4 86.45,593.2 86.90,592.7 87.35,595.2 87.80,595.9 88.25,593.9 88.70,597.9 89.15,594.4 89.60,594.9 90.05,594.2 90.50,592.5 90.95,588.0 91.20,582.1 91.45,490.3 91.55,490.3 91.80,567.4 91.85,566.1 92.30,558.2 92.75,562.5 93.20,577.8 93.65,587.9 94.10,593.0 94.55,594.9 95.00,599.4 95.45,600.7 95.90,601.3 96.35,598.1 96.80,597.6 97.10,596.8 97.35,586.6 97.45,586.6 97.70,598.7 97.70,598.7 98.15,601.8 98.60,599.3 99.05,601.8 99.50,603.0 99.95,601.2 100.40,598.0 100.85,602.0 101.30,602.2 101.75,600.6 102.20,602.0 102.65,602.9 103.10,604.7 103.55,601.9 104.00,603.6 104.45,605.7 104.90,606.1 105.35,603.8 105.80,602.0 106.25,604.4 106.70,604.3 107.15,603.9 107.60,605.9 108.05,604.3 108.50,600.0 108.95,601.2 109.40,599.9 109.80,602.2 110.05,588.8 110.15,588.8 110.40,603.4 110.75,602.5 111.20,603.5 111.65,605.7 112.10,605.5 112.55,607.1 113.00,606.1 113.45,606.9 113.90,608.4 114.35,609.0 114.80,605.9 115.25,606.8 115.70,603.9 116.15,603.3 116.60,602.7 117.05,606.7 117.50,605.4 117.95,605.7 118.40,606.2 118.85,606.0 119.30,604.9 119.70,605.5 119.95,593.2 120.05,593.2 120.30,608.2 120.65,607.4 121.10,607.5 121.55,609.0 122.00,607.8 122.45,605.3 122.90,605.2 123.35,607.3 123.80,603.5 124.10,602.9 124.35,581.1 124.45,581.1 124.70,605.9 124.70,605.9 125.15,607.5 125.60,607.1 126.05,608.6 126.50,608.4 126.95,605.5 127.40,603.5 127.80,604.1 128.05,591.0 128.15,591.0 128.40,607.0 128.75,606.4 129.20,605.6 129.65,606.1 130.10,605.4 130.55,607.2 131.00,606.6 131.45,608.2 131.90,605.1 132.35,607.2 132.80,607.4 133.25,604.7 133.70,607.7 134.15,607.9 134.60,604.2 135.05,604.7 135.50,607.0 135.95,606.4 136.40,607.3 136.60,607.6 136.85,599.8 136.95,599.8 137.20,607.7 137.30,607.7 137.75,607.2 138.20,608.6 138.65,608.4 139.10,607.6 139.55,603.5 140.00,605.9 140.45,608.0 140.90,605.5 141.15,598.0 141.25,598.0 141.50,605.0 141.80,607.3 142.25,603.6 142.70,604.4 143.15,608.8 143.60,605.0 144.05,605.0 144.50,607.6 144.95,605.2 145.40,604.7 145.85,605.4 146.30,602.5 146.75,601.8 147.20,601.8 147.65,601.5 148.00,600.1 148.25,571.3 148.35,571.3 148.60,598.6 149.00,598.0 149.45,599.4 149.90,602.3 150.35,602.3 150.80,600.3 151.25,599.1 151.70,603.6 152.15,602.8 152.40,601.6 152.65,583.3 152.75,583.3 153.00,596.0 153.05,595.4 153.50,598.4 153.95,600.7 154.40,602.7 154.85,601.3 155.30,599.0 155.75,598.7 156.10,595.7 156.35,581.1 156.45,581.1 156.70,597.6 157.10,598.7 157.55,597.2 158.00,599.8 158.45,601.3 158.90,595.9 159.35,594.1 159.40,594.3 159.65,577.9 159.75,577.9 160.00,596.0 160.25,596.4 160.70,596.1 161.15,595.5 161.60,599.5 162.05,599.2 162.50,594.4 162.70,593.4 162.95,575.7 163.05,575.7 163.30,595.7 163.40,596.7 163.85,592.5 164.30,582.7 164.75,566.6 165.20,549.5 165.65,544.8 166.10,548.6 166.40,558.1 166.65,499.0 166.75,499.0 167.00,578.1 167.00,578.1 167.45,587.8 167.90,590.0 168.35,590.6 168.80,591.8 169.25,591.7 169.70,591.6 170.15,591.0 170.60,590.8 171.05,593.0 171.50,593.5 171.95,592.6 172.40,593.2 172.85,595.2 173.30,596.3 173.75,597.5 174.20,598.3 174.65,599.4 175.10,599.7 175.55,597.6 176.00,599.1 176.45,600.9 176.90,600.2 177.35,598.6 177.80,598.9 178.25,597.0 178.70,594.5 179.15,596.5 179.60,596.1 180.05,597.7 180.50,595.9 180.95,592.0 181.40,593.0 181.85,597.6 182.30,596.0 182.75,592.9 183.20,593.2 183.65,596.0 184.10,596.9 184.55,595.4 185.00,593.4 185.45,587.1 185.90,581.6 186.35,584.4 186.80,593.2 187.25,599.0 187.70,595.7 188.15,587.1 188.60,584.6 189.05,590.0 189.50,595.7 189.95,602.1 190.20,602.9 190.45,590.0 190.55,590.0 190.80,604.4 190.85,604.4 191.30,603.9 191.75,608.3 192.20,609.1 192.65,606.7 193.10,606.4 193.55,610.5 194.00,607.9 194.45,607.9 194.90,609.0 195.35,607.6 195.80,605.0 196.25,605.5 196.70,602.5 197.15,592.4 197.30,585.6 197.55,496.4 197.65,496.4 197.90,555.9 198.05,547.8 198.50,538.3 198.95,548.9 199.40,571.2 199.85,591.5 200.30,602.5 200.75,608.1 201.20,607.3 201.65,607.1 202.10,608.4 202.55,606.6 203.00,607.0 203.45,605.1 203.90,605.7 204.30,607.9 204.55,597.6 204.65,597.6 204.90,608.9 205.25,608.5 205.70,608.3 206.15,606.9 206.60,611.1 207.05,611.5 207.50,611.6 207.95,609.0 208.40,608.6 208.85,606.4 209.30,608.8 209.75,610.4 209.80,609.9 210.05,596.5 210.15,596.5 210.40,606.8 210.65,607.4 211.10,610.2 211.55,607.6 212.00,606.3 212.45,607.6 212.90,608.8 213.35,608.0 213.80,609.7 214.25,611.1 214.70,612.0 215.15,612.7 215.60,614.3 216.05,614.7 216.50,611.1 216.95,611.0 217.40,611.0 217.85,611.0 218.30,612.8 218.75,613.9 219.20,615.0 219.65,612.6 220.10,612.1 220.55,614.5 221.00,615.3 221.45,615.4 221.90,616.0 222.35,615.5 222.80,617.5 223.25,618.3 223.70,617.2 224.15,615.9 224.60,616.1 225.05,612.5 225.50,613.3 225.95,615.8 226.40,614.0 226.85,615.4 227.30,616.3 227.75,613.8 228.20,614.3 228.65,614.9 229.10,615.8 229.55,616.4 230.00,615.6 230.45,614.3 230.90,615.1 231.35,615.8 231.80,616.9 232.25,616.4 232.70,614.4 232.80,614.0 233.05,597.6 233.15,597.6 233.40,613.8 233.60,614.6 234.05,615.8 234.50,616.0 234.95,618.0 235.40,618.6 235.85,619.1 236.30,620.0 236.75,618.7 237.20,622.0 237.65,619.7 238.10,619.9 238.55,619.2 239.00,619.9 239.45,615.2 239.90,615.1 240.35,617.5 240.80,618.3 241.25,620.2 241.70,616.5 242.15,613.8 242.60,611.2 243.05,610.5 243.50,611.7 243.95,613.0 244.40,615.4 244.85,614.3 245.30,616.8 245.75,614.9 246.20,615.2 246.65,618.6 247.10,616.3 247.55,614.9 248.00,616.7 248.45,615.7 248.90,613.7 249.35,614.6 249.80,615.5 250.25,615.2 250.70,611.7 251.15,612.8 251.60,613.3 252.05,611.1 252.50,611.8 252.95,612.4 253.40,615.5 253.85,613.9 254.30,614.6 254.75,613.7 255.20,612.2 255.65,613.3 256.10,613.4 256.55,609.7 257.00,606.5 257.45,608.7 257.90,610.2 258.35,612.1 258.80,615.2 259.25,615.9 259.70,613.3 260.15,616.3 260.60,614.7 261.05,614.3 261.50,612.6 261.95,612.5 262.40,610.3 262.85,614.6 263.30,616.7 263.75,613.0 264.20,611.3 264.65,611.3 265.10,615.7 265.55,615.6 266.00,615.5 266.45,615.8 266.90,616.3 267.35,615.4 267.80,616.8 268.25,615.7 268.70,617.2 269.15,619.0 269.60,619.9 270.05,619.4 270.50,618.3 270.95,619.8 271.40,620.0 271.85,622.7 272.30,623.0 272.75,621.3 273.20,620.3 273.65,619.9 274.10,619.5 274.55,620.3 275.00,621.8 275.45,622.7 275.90,623.0 276.35,625.4 276.80,622.4 277.25,621.8 277.70,626.5 278.15,621.6 278.60,620.6 279.05,622.6 279.50,622.7 279.95,622.2 280.40,619.0 280.85,614.1 281.30,605.3 281.75,596.7 282.20,587.9 282.65,589.8 283.10,599.9 283.35,572.4 283.45,572.4 283.70,610.4 284.00,614.5 284.45,613.1 284.90,604.9 285.35,600.9 285.80,603.0 286.25,608.7 286.70,615.7 287.15,619.4 287.60,619.0 288.05,620.7 288.50,622.4 288.95,621.2 289.40,621.1 289.85,622.5 290.30,620.3 290.75,620.7 291.20,621.6 291.65,615.9 292.10,611.8 292.55,609.7 293.00,612.4 293.45,614.4 293.90,617.7 294.35,618.3 294.80,619.5 295.25,620.5 295.70,618.0 296.15,621.4 296.60,622.3 297.05,617.2 297.50,617.7 297.95,615.9 298.40,614.0 298.85,613.0 299.30,610.3 299.75,612.6 300.20,617.5 300.65,618.4 301.10,615.6 301.55,612.8 302.00,610.1 302.45,609.3 302.90,610.3 303.35,610.4 303.80,612.0 304.25,617.0 304.70,618.3 305.15,619.4 305.60,622.1 306.05,623.6 306.50,622.0 306.95,620.4 307.40,620.9 307.70,621.0 307.95,593.2 308.05,593.2 308.30,620.0 308.30,620.0 308.75,621.5 309.20,623.0 309.65,624.9 310.10,625.5 310.55,625.7 311.00,625.6 311.45,626.9 311.90,627.9 312.35,626.3 312.80,626.6 313.25,625.4 313.60,625.4 313.85,620.6 313.95,620.6 314.20,626.7 314.60,627.7 315.05,626.5 315.50,626.2 315.95,626.8 316.40,625.4 316.85,626.1 317.30,626.2 317.75,627.0 318.20,626.0 318.65,624.6 319.10,626.2 319.55,627.4 320.00,626.8 320.45,627.9 320.90,627.4 321.35,626.7 321.80,627.6 322.25,626.2 322.70,626.2 323.15,627.3 323.60,628.5 324.05,628.0 324.50,628.1 324.95,627.4 325.40,628.0 325.85,629.7 326.30,628.1 326.75,630.1 327.20,628.5 327.65,627.5 328.10,627.6 328.55,627.9 329.00,625.0 329.45,620.8 329.90,619.1 330.35,616.1 330.80,613.8 331.25,617.2 331.70,619.4 332.15,621.6 332.60,623.9 333.05,624.1 333.50,624.9 333.95,622.4 334.40,621.6 334.85,618.7 335.30,621.1 335.75,621.5 336.20,621.9 336.65,623.3 337.10,621.6 337.55,620.8 338.00,620.7 338.45,620.5 338.90,620.9 339.35,622.4 339.80,622.7 340.25,622.7 340.70,622.8 341.15,624.0 341.60,624.4 342.05,623.8 342.50,624.6 342.95,624.5 343.40,623.4 343.85,625.8 344.30,626.2 344.75,624.7 345.20,626.3 345.65,626.8 346.10,624.7 346.55,627.0 347.00,627.3 347.45,627.3 347.90,627.0 348.35,626.5 348.80,625.1 349.25,627.0 349.70,627.3 350.15,626.6 350.60,627.2 351.05,627.3 351.50,627.9 351.95,627.2 352.40,627.2 352.85,625.4 353.30,626.2 353.75,628.1 354.20,629.3 354.65,628.0 355.10,627.6 355.55,629.5 356.00,628.4 356.45,628.7 356.90,630.2 357.35,629.1 357.80,629.6 358.25,628.3 358.70,628.4 359.15,628.6 359.60,628.8 360.05,629.9 360.50,631.6 360.95,629.3 361.40,628.2 361.85,629.3 362.30,628.4 362.75,629.2 363.20,630.1 363.65,629.1 364.10,629.3 364.55,627.5 365.00,628.6 365.45,627.2 365.90,626.9 366.35,627.2 366.80,627.2 367.25,628.3 367.70,627.9 368.15,627.0 368.60,627.5 369.05,628.7 369.50,627.5 369.95,627.0 370.40,627.8 370.85,627.0 371.30,624.9 371.75,627.7 372.20,628.9 372.65,624.6 373.10,624.4 373.55,625.5 374.00,626.1 374.45,626.1 374.90,625.4 375.35,624.6 375.80,625.6 376.25,627.3 376.70,626.0 377.15,625.4 377.60,626.7 378.05,625.6 378.50,626.7 378.95,627.6 379.40,628.7 379.85,628.2 380.30,627.9 380.75,628.6 381.20,629.2 381.65,628.9 382.10,629.3 382.55,630.2 383.00,630.5 383.45,630.4 383.90,626.9 384.35,624.6 384.80,621.2 385.25,623.5 385.70,623.0 386.15,623.6 386.60,626.3 387.05,626.6 387.50,629.2 387.95,630.6 388.40,629.4 388.85,631.1 389.30,633.1 389.75,630.7 390.20,632.1 390.65,632.8 391.10,633.0 391.55,633.2 392.00,634.0 392.45,632.9 392.90,633.2 393.35,632.4 393.80,632.7 394.25,631.5 394.70,630.9 395.15,632.0 395.60,630.1 396.05,627.3 396.50,624.6 396.95,623.7 397.40,624.9 397.85,627.1 398.30,628.4 398.75,629.8 399.20,630.5 399.65,632.3 400.10,631.6 400.55,630.9 401.00,632.2 401.45,632.0 401.90,631.3 402.35,630.9 402.80,631.0 403.25,632.1 403.70,632.3 404.15,630.8 404.60,631.7 405.05,632.3 405.50,631.1 405.95,632.4 406.40,632.2 406.85,631.8 407.30,632.9 407.75,634.0 408.20,632.4 408.65,632.7 409.10,632.0 409.55,634.5 410.00,633.3 410.45,633.8 410.90,632.8 411.35,633.5 411.80,635.5 412.25,631.5 412.70,631.4 413.15,633.2 413.60,633.0 414.05,632.2 414.50,634.6 414.95,633.8 415.40,631.3 415.85,632.9 416.30,631.5 416.75,633.1 417.20,632.7 417.65,632.6 418.10,634.0 418.55,633.3 419.00,631.4 419.45,630.4 419.90,633.0 420.35,633.5 420.80,632.2 421.25,632.9 421.70,633.1 422.15,633.1 422.60,631.1 423.05,631.6 423.50,633.0 423.95,633.2 424.40,633.2 424.85,631.0 425.30,631.7 425.75,632.7 426.20,634.3 426.65,632.4 427.10,631.8 427.55,632.2 428.00,632.9 428.45,632.2 428.90,632.9 429.35,632.0 429.80,632.1 430.25,631.8 430.70,632.0 431.15,631.6 431.60,630.7 432.05,632.3 432.50,632.5 432.95,631.7 433.40,631.9 433.85,632.6 434.30,631.5 434.75,631.4 435.20,632.1 435.65,632.3 436.10,631.7 436.55,630.1 437.00,631.9 437.45,632.3 437.90,631.7 438.35,631.4 438.80,631.7 439.25,631.3 439.70,630.7 440.15,630.7 440.60,631.0 441.05,631.1 441.50,630.8 441.95,631.9 442.40,631.2 442.85,632.1 443.30,631.6 443.75,632.1 444.20,633.1 444.65,632.3 445.10,630.6 445.55,630.0 446.00,629.5 446.45,628.2 446.90,629.1 447.35,631.1 447.80,631.8 448.25,632.6 448.70,633.5 449.15,633.9 449.60,634.1 450.05,634.1 450.50,633.4 450.95,633.4 451.40,633.4 451.85,633.4 452.30,633.6 452.75,632.6 453.20,633.2 453.65,633.9 454.10,633.4 454.55,633.9 455.00,634.6 455.45,634.4 455.90,635.8 456.35,633.4 456.80,633.6 457.25,633.4 457.70,634.9 458.15,637.0 458.60,634.0 459.05,634.3 459.50,635.5 459.95,635.1 460.40,635.6 460.85,634.0 461.30,635.3 461.75,636.0 462.20,635.7 462.65,635.3 463.10,636.0 463.55,635.7 464.00,635.9 464.45,635.6 464.90,634.2 465.35,635.2 465.80,636.0 466.25,636.5 466.70,635.5 467.15,635.6 467.60,636.3 468.05,636.2 468.50,636.8 468.95,637.7 469.40,635.9 469.85,634.3 470.30,635.9 470.75,637.2 471.20,637.0 471.65,636.8 472.10,635.7 472.55,635.2 473.00,636.3 473.45,635.5 473.90,634.4 474.35,634.6 474.80,637.3 475.25,638.0 475.70,636.0 476.15,635.2 476.60,635.8 477.05,635.5 477.50,636.6 477.95,636.3 478.40,635.1 478.85,636.5 479.30,635.9 479.75,635.9 480.20,636.0 480.65,635.7 481.10,636.0 481.55,635.5 482.00,634.4 482.45,633.8 482.90,634.3 483.35,635.0 483.80,635.6 484.25,635.9 484.70,636.3 485.15,636.2 485.60,635.4 486.05,635.2 486.50,634.2 486.95,635.1 487.40,636.2 487.85,636.4 488.30,636.0 488.75,635.7 489.20,636.5 489.65,636.2 490.10,636.4 490.55,636.5 491.00,636.2 491.45,636.9 491.90,635.9 492.35,635.5 492.80,635.2 493.25,635.1 493.70,636.7 494.15,637.6 494.60,636.5 495.05,636.3 495.50,636.9 495.95,636.8 496.40,637.0 496.85,635.4 497.30,635.1 497.75,636.0 498.20,637.0 498.65,636.4 499.10,635.3 499.55,635.4 500.00,635.3 500.45,635.1 500.90,636.7 501.35,635.9 501.80,635.7 502.25,637.4 502.70,637.4 503.15,636.5 503.60,635.6 504.05,636.0 504.50,637.2 504.95,636.8 505.40,637.0 505.85,636.4 506.30,636.3 506.75,635.9 507.20,636.1 507.65,636.9 508.10,635.3 508.55,635.3 509.00,635.9 509.45,635.4 509.90,635.3 510.35,636.1 510.80,637.3 511.25,636.7 511.70,636.0 512.15,634.6 512.60,636.4 513.05,636.1 513.50,635.4 513.95,634.6 514.40,635.0 514.85,634.5 515.30,635.0 515.75,635.6 516.20,635.4 516.65,635.4 517.10,634.6 517.55,635.8 518.00,635.1 518.45,633.6 518.90,634.3 519.35,634.4 519.80,634.0 520.25,634.3 520.70,634.9 521.15,634.1 521.60,634.3 522.05,635.7 522.50,635.6 522.95,634.8 523.40,634.7 523.85,634.5 524.30,634.5 524.75,635.0 525.20,634.7 525.65,632.9 526.10,633.8 526.55,634.0 527.00,634.9 527.45,634.5 527.90,634.7 528.35,636.4 528.80,634.8 529.25,633.7 529.70,633.2 530.15,631.7 530.60,630.5 531.05,630.8 531.50,629.8 531.95,628.7 532.40,629.8 532.85,632.9 533.30,633.9 533.75,634.4 534.20,635.3 534.65,636.4 535.10,637.2 535.55,636.8 536.00,635.9 536.45,635.7 536.90,636.9 537.35,637.2 537.80,635.9 538.25,635.9 538.70,636.1 539.15,635.9 539.60,635.5 540.05,634.8 540.50,635.1 540.95,634.7 541.40,636.4 541.85,636.8 542.30,635.4 542.75,636.7 543.20,637.2 543.65,635.1 544.10,636.9 544.55,637.4 545.00,638.0 545.45,636.2 545.90,636.4 546.35,636.9 546.80,636.8 547.25,636.7 547.70,637.4 548.15,635.9 548.60,635.3 549.05,635.3 549.50,635.9 549.95,636.2 550.40,636.9 550.85,637.2 551.30,637.0 551.75,636.5 552.20,636.5 552.65,637.5 553.10,637.9 553.55,637.4 554.00,636.9 554.45,638.2 554.90,637.3 555.35,637.5 555.80,638.3 556.25,637.5 556.70,637.9 557.15,636.9 557.60,637.8 558.05,638.0 558.50,636.5 558.95,637.6 559.40,637.2 559.85,638.3 560.30,637.6 560.75,637.4 561.20,637.9 561.65,637.7 562.10,638.0 562.55,637.6 563.00,638.3 563.45,638.2 563.90,638.2" fill="none" stroke="#000" stroke-width="1.35" stroke-linejoin="round"/>
<rect x="69" y="680.0" width="1" height="1.0" fill="#0a0a0a"/>
<rect x="77" y="680.0" width="1" height="1.0" fill="#0a0a0a"/>
<rect x="122" y="678.0" width="1" height="3.0" fill="#0a0a0a"/>
<rect x="137" y="680.0" width="1" height="1.0" fill="#0a0a0a"/>
<rect x="152" y="680.0" width="1" height="1.0" fill="#0a0a0a"/>
<rect x="164" y="670.0" width="1" height="11.0" fill="#0a0a0a"/>
<rect x="165" y="675.0" width="1" height="6.0" fill="#0a0a0a"/>
<rect x="169" y="676.0" width="1" height="5.0" fill="#0a0a0a"/>
<rect x="182" y="666.0" width="1" height="15.0" fill="#0a0a0a"/>
<rect x="185" y="669.0" width="1" height="12.0" fill="#0a0a0a"/>
<rect x="186" y="674.0" width="1" height="7.0" fill="#0a0a0a"/>
<rect x="191" y="680.0" width="1" height="1.0" fill="#0a0a0a"/>
<rect x="198" y="671.0" width="1" height="10.0" fill="#0a0a0a"/>
<rect x="226" y="678.0" width="1" height="3.0" fill="#0a0a0a"/>
<rect x="227" y="679.0" width="1" height="2.0" fill="#0a0a0a"/>
<rect x="243" y="677.0" width="1" height="4.0" fill="#0a0a0a"/>
<rect x="245" y="679.0" width="1" height="2.0" fill="#0a0a0a"/>
<rect x="254" y="680.0" width="1" height="1.0" fill="#0a0a0a"/>
<rect x="257" y="680.0" width="1" height="1.0" fill="#0a0a0a"/>
<rect x="272" y="679.0" width="1" height="2.0" fill="#0a0a0a"/>
<rect x="274" y="680.0" width="1" height="1.0" fill="#0a0a0a"/>
<rect x="280" y="678.0" width="1" height="3.0" fill="#0a0a0a"/>
<rect x="281" y="679.0" width="1" height="2.0" fill="#0a0a0a"/>
<rect x="298" y="679.0" width="1" height="2.0" fill="#0a0a0a"/>
<rect x="300" y="680.0" width="1" height="1.0" fill="#0a0a0a"/>
<rect x="311" y="674.0" width="1" height="7.0" fill="#0a0a0a"/>
<rect x="312" y="670.0" width="1" height="11.0" fill="#0a0a0a"/>
<rect x="339" y="679.0" width="1" height="2.0" fill="#0a0a0a"/>
<rect x="343" y="676.0" width="1" height="5.0" fill="#0a0a0a"/>
<rect x="344" y="678.0" width="1" height="3.0" fill="#0a0a0a"/>
<rect x="365" y="678.0" width="1" height="3.0" fill="#0a0a0a"/>
<rect x="367" y="679.0" width="1" height="2.0" fill="#0a0a0a"/>
<rect x="372" y="680.0" width="1" height="1.0" fill="#0a0a0a"/>
<rect x="380" y="677.0" width="1" height="4.0" fill="#0a0a0a"/>
<rect x="382" y="678.0" width="1" height="3.0" fill="#0a0a0a"/>
<rect x="390" y="678.0" width="1" height="3.0" fill="#0a0a0a"/>
<rect x="401" y="680.0" width="1" height="1.0" fill="#0a0a0a"/>
<rect x="406" y="680.0" width="1" height="1.0" fill="#0a0a0a"/>
<rect x="415" y="680.0" width="1" height="1.0" fill="#0a0a0a"/>
<rect x="422" y="680.0" width="1" height="1.0" fill="#0a0a0a"/>
<rect x="77" y="682.9" width="1" height="15.0" fill="#0a0a0a"/>
<rect x="106" y="692.9" width="1" height="5.0" fill="#0a0a0a"/>
<rect x="115" y="695.9" width="1" height="2.0" fill="#0a0a0a"/>
<rect x="124" y="691.9" width="1" height="6.0" fill="#0a0a0a"/>
<rect x="127" y="695.9" width="1" height="2.0" fill="#0a0a0a"/>
<rect x="144" y="695.9" width="1" height="2.0" fill="#0a0a0a"/>
<rect x="149" y="696.9" width="1" height="1.0" fill="#0a0a0a"/>
<rect x="166" y="685.9" width="1" height="12.0" fill="#0a0a0a"/>
<rect x="174" y="695.9" width="1" height="2.0" fill="#0a0a0a"/>
<rect x="181" y="695.9" width="1" height="2.0" fill="#0a0a0a"/>
<rect x="185" y="687.9" width="1" height="10.0" fill="#0a0a0a"/>
<rect x="187" y="682.9" width="1" height="15.0" fill="#0a0a0a"/>
<rect x="200" y="695.9" width="1" height="2.0" fill="#0a0a0a"/>
<rect x="204" y="695.9" width="1" height="2.0" fill="#0a0a0a"/>
<rect x="206" y="694.9" width="1" height="3.0" fill="#0a0a0a"/>
<rect x="210" y="695.9" width="1" height="2.0" fill="#0a0a0a"/>
<rect x="212" y="694.9" width="1" height="3.0" fill="#0a0a0a"/>
<rect x="226" y="695.9" width="1" height="2.0" fill="#0a0a0a"/>
<rect x="236" y="695.9" width="1" height="2.0" fill="#0a0a0a"/>
<rect x="243" y="696.9" width="1" height="1.0" fill="#0a0a0a"/>
<rect x="246" y="696.9" width="1" height="1.0" fill="#0a0a0a"/>
<rect x="256" y="696.9" width="1" height="1.0" fill="#0a0a0a"/>
<rect x="261" y="696.9" width="1" height="1.0" fill="#0a0a0a"/>
<rect x="266" y="695.9" width="1" height="2.0" fill="#0a0a0a"/>
<rect x="277" y="696.9" width="1" height="1.0" fill="#0a0a0a"/>
<rect x="280" y="696.9" width="1" height="1.0" fill="#0a0a0a"/>
<rect x="284" y="687.9" width="1" height="10.0" fill="#0a0a0a"/>
<rect x="290" y="694.9" width="1" height="3.0" fill="#0a0a0a"/>
<rect x="292" y="696.9" width="1" height="1.0" fill="#0a0a0a"/>
<rect x="302" y="695.9" width="1" height="2.0" fill="#0a0a0a"/>
<rect x="304" y="694.9" width="1" height="3.0" fill="#0a0a0a"/>
<rect x="309" y="696.9" width="1" height="1.0" fill="#0a0a0a"/>
<rect x="315" y="695.9" width="1" height="2.0" fill="#0a0a0a"/>
<rect x="327" y="696.9" width="1" height="1.0" fill="#0a0a0a"/>
<rect x="329" y="694.9" width="1" height="3.0" fill="#0a0a0a"/>
<rect x="332" y="696.9" width="1" height="1.0" fill="#0a0a0a"/>
<rect x="334" y="696.9" width="1" height="1.0" fill="#0a0a0a"/>
<rect x="336" y="696.9" width="1" height="1.0" fill="#0a0a0a"/>
<rect x="341" y="693.9" width="1" height="4.0" fill="#0a0a0a"/>
<rect x="343" y="695.9" width="1" height="2.0" fill="#0a0a0a"/>
<rect x="345" y="696.9" width="1" height="1.0" fill="#0a0a0a"/>
<rect x="357" y="696.9" width="1" height="1.0" fill="#0a0a0a"/>
<rect x="365" y="696.9" width="1" height="1.0" fill="#0a0a0a"/>
<rect x="368" y="696.9" width="1" height="1.0" fill="#0a0a0a"/>
<rect x="372" y="696.9" width="1" height="1.0" fill="#0a0a0a"/>
<rect x="376" y="696.9" width="1" height="1.0" fill="#0a0a0a"/>
<rect x="48" y="714.4" width="1" height="1.0" fill="#0a0a0a"/>
<rect x="56" y="714.4" width="1" height="1.0" fill="#0a0a0a"/>
<rect x="79" y="714.4" width="1" height="1.0" fill="#0a0a0a"/>
<rect x="85" y="713.4" width="1" height="2.0" fill="#0a0a0a"/>
<rect x="104" y="714.4" width="1" height="1.0" fill="#0a0a0a"/>
<rect x="110" y="713.4" width="1" height="2.0" fill="#0a0a0a"/>
<rect x="126" y="713.4" width="1" height="2.0" fill="#0a0a0a"/>
<rect x="139" y="714.4" width="1" height="1.0" fill="#0a0a0a"/>
<rect x="142" y="714.4" width="1" height="1.0" fill="#0a0a0a"/>
<rect x="144" y="713.4" width="1" height="2.0" fill="#0a0a0a"/>
<rect x="147" y="713.4" width="1" height="2.0" fill="#0a0a0a"/>
<rect x="163" y="712.4" width="1" height="3.0" fill="#0a0a0a"/>
<rect x="164" y="712.4" width="1" height="3.0" fill="#0a0a0a"/>
<rect x="170" y="713.4" width="1" height="2.0" fill="#0a0a0a"/>
<rect x="180" y="713.4" width="1" height="2.0" fill="#0a0a0a"/>
<rect x="188" y="703.4" width="1" height="12.0" fill="#0a0a0a"/>
<rect x="190" y="700.4" width="2" height="15.0" fill="#0a0a0a"/>
<rect x="195" y="714.4" width="1" height="1.0" fill="#0a0a0a"/>
<rect x="206" y="713.4" width="1" height="2.0" fill="#0a0a0a"/>
<rect x="208" y="714.4" width="1" height="1.0" fill="#0a0a0a"/>
<rect x="214" y="713.4" width="1" height="2.0" fill="#0a0a0a"/>
<rect x="215" y="713.4" width="1" height="2.0" fill="#0a0a0a"/>
<rect x="221" y="713.4" width="1" height="2.0" fill="#0a0a0a"/>
<rect x="227" y="714.4" width="1" height="1.0" fill="#0a0a0a"/>
<rect x="233" y="713.4" width="1" height="2.0" fill="#0a0a0a"/>
<rect x="241" y="710.4" width="1" height="5.0" fill="#0a0a0a"/>
<rect x="263" y="713.4" width="1" height="2.0" fill="#0a0a0a"/>
<rect x="265" y="713.4" width="1" height="2.0" fill="#0a0a0a"/>
<rect x="277" y="713.4" width="1" height="2.0" fill="#0a0a0a"/>
<rect x="279" y="712.4" width="1" height="3.0" fill="#0a0a0a"/>
<rect x="282" y="709.4" width="1" height="6.0" fill="#0a0a0a"/>
<rect x="284" y="710.4" width="1" height="5.0" fill="#0a0a0a"/>
<rect x="288" y="711.4" width="1" height="4.0" fill="#0a0a0a"/>
<rect x="289" y="710.4" width="1" height="5.0" fill="#0a0a0a"/>
<rect x="299" y="713.4" width="1" height="2.0" fill="#0a0a0a"/>
<rect x="306" y="713.4" width="1" height="2.0" fill="#0a0a0a"/>
<rect x="334" y="713.4" width="1" height="2.0" fill="#0a0a0a"/>
<rect x="336" y="713.4" width="1" height="2.0" fill="#0a0a0a"/>
<rect x="340" y="713.4" width="1" height="2.0" fill="#0a0a0a"/>
<rect x="345" y="713.4" width="1" height="2.0" fill="#0a0a0a"/>
<rect x="355" y="713.4" width="1" height="2.0" fill="#0a0a0a"/>
<rect x="357" y="713.4" width="1" height="2.0" fill="#0a0a0a"/>
<rect x="360" y="709.4" width="2" height="6.0" fill="#0a0a0a"/>
<rect x="363" y="709.4" width="2" height="6.0" fill="#0a0a0a"/>
<rect x="372" y="714.4" width="1" height="1.0" fill="#0a0a0a"/>
<rect x="381" y="714.4" width="1" height="1.0" fill="#0a0a0a"/>
<rect x="388" y="714.4" width="1" height="1.0" fill="#0a0a0a"/>
<rect x="394" y="714.4" width="1" height="1.0" fill="#0a0a0a"/>
<rect x="401" y="713.4" width="1" height="2.0" fill="#0a0a0a"/>
<rect x="407" y="714.4" width="1" height="1.0" fill="#0a0a0a"/>
<rect x="414" y="714.4" width="1" height="1.0" fill="#0a0a0a"/>
<rect x="420" y="713.4" width="1" height="2.0" fill="#0a0a0a"/>
<rect x="427" y="713.4" width="1" height="2.0" fill="#0a0a0a"/>
<rect x="430" y="712.4" width="1" height="3.0" fill="#0a0a0a"/>
<rect x="52" y="724.8" width="1" height="8.0" fill="#0a0a0a"/>
<rect x="84" y="730.8" width="1" height="2.0" fill="#0a0a0a"/>
<rect x="123" y="730.8" width="1" height="2.0" fill="#0a0a0a"/>
<rect x="132" y="729.8" width="1" height="3.0" fill="#0a0a0a"/>
<rect x="133" y="730.8" width="1" height="2.0" fill="#0a0a0a"/>
<rect x="143" y="730.8" width="1" height="2.0" fill="#0a0a0a"/>
<rect x="182" y="727.8" width="1" height="5.0" fill="#0a0a0a"/>
<rect x="192" y="726.8" width="1" height="6.0" fill="#0a0a0a"/>
<rect x="195" y="717.8" width="1" height="15.0" fill="#0a0a0a"/>
<rect x="201" y="729.8" width="1" height="3.0" fill="#0a0a0a"/>
<rect x="211" y="730.8" width="1" height="2.0" fill="#0a0a0a"/>
<rect x="215" y="730.8" width="1" height="2.0" fill="#0a0a0a"/>
<rect x="241" y="730.8" width="1" height="2.0" fill="#0a0a0a"/>
<rect x="248" y="730.8" width="1" height="2.0" fill="#0a0a0a"/>
<rect x="262" y="726.8" width="1" height="6.0" fill="#0a0a0a"/>
<rect x="282" y="726.8" width="1" height="6.0" fill="#0a0a0a"/>
<rect x="289" y="730.8" width="1" height="2.0" fill="#0a0a0a"/>
<rect x="293" y="730.8" width="1" height="2.0" fill="#0a0a0a"/>
<rect x="302" y="725.8" width="1" height="7.0" fill="#0a0a0a"/>
<rect x="307" y="731.8" width="1" height="1.0" fill="#0a0a0a"/>
<rect x="319" y="730.8" width="1" height="2.0" fill="#0a0a0a"/>
<rect x="356" y="729.8" width="1" height="3.0" fill="#0a0a0a"/>
<rect x="360" y="731.8" width="1" height="1.0" fill="#0a0a0a"/>
<rect x="366" y="730.8" width="1" height="2.0" fill="#0a0a0a"/>
<rect x="368" y="729.8" width="1" height="3.0" fill="#0a0a0a"/>
<rect x="371" y="729.8" width="1" height="3.0" fill="#0a0a0a"/>
<rect x="375" y="730.8" width="1" height="2.0" fill="#0a0a0a"/>
<rect x="380" y="730.8" width="1" height="2.0" fill="#0a0a0a"/>
<rect x="390" y="731.8" width="1" height="1.0" fill="#0a0a0a"/>
<rect x="403" y="731.8" width="1" height="1.0" fill="#0a0a0a"/>
<rect x="415" y="730.8" width="1" height="2.0" fill="#0a0a0a"/>
<rect x="424" y="730.8" width="1" height="2.0" fill="#0a0a0a"/>
<rect x="428" y="730.8" width="1" height="2.0" fill="#0a0a0a"/>
<rect x="123" y="746.8" width="1" height="2.0" fill="#0a0a0a"/>
<rect x="166" y="733.8" width="1" height="15.0" fill="#0a0a0a"/>
<rect x="179" y="747.8" width="1" height="1.0" fill="#0a0a0a"/>
<rect x="208" y="746.8" width="1" height="2.0" fill="#0a0a0a"/>
<rect x="230" y="746.8" width="1" height="2.0" fill="#0a0a0a"/>
<rect x="255" y="746.8" width="1" height="2.0" fill="#0a0a0a"/>
<rect x="282" y="747.8" width="1" height="1.0" fill="#0a0a0a"/>
<rect x="284" y="746.8" width="1" height="2.0" fill="#0a0a0a"/>
<rect x="291" y="746.8" width="1" height="2.0" fill="#0a0a0a"/>
<rect x="344" y="747.8" width="1" height="1.0" fill="#0a0a0a"/>
<rect x="350" y="747.8" width="1" height="1.0" fill="#0a0a0a"/>
<rect x="372" y="747.8" width="1" height="1.0" fill="#0a0a0a"/>
<rect x="375" y="747.8" width="1" height="1.0" fill="#0a0a0a"/>
<rect x="386" y="747.8" width="1" height="1.0" fill="#0a0a0a"/>
<rect x="116" y="765.0" width="1" height="1.0" fill="#0a0a0a"/>
<rect x="129" y="765.0" width="1" height="1.0" fill="#0a0a0a"/>
<rect x="175" y="751.0" width="1" height="15.0" fill="#0a0a0a"/>
<rect x="192" y="765.0" width="1" height="1.0" fill="#0a0a0a"/>
<rect x="205" y="765.0" width="1" height="1.0" fill="#0a0a0a"/>
<rect x="218" y="765.0" width="1" height="1.0" fill="#0a0a0a"/>
<rect x="243" y="762.0" width="1" height="4.0" fill="#0a0a0a"/>
<rect x="260" y="765.0" width="1" height="1.0" fill="#0a0a0a"/>
<rect x="267" y="764.0" width="1" height="2.0" fill="#0a0a0a"/>
<rect x="268" y="764.0" width="1" height="2.0" fill="#0a0a0a"/>
<rect x="296" y="765.0" width="1" height="1.0" fill="#0a0a0a"/>
<rect x="304" y="764.0" width="1" height="2.0" fill="#0a0a0a"/>
<rect x="308" y="764.0" width="1" height="2.0" fill="#0a0a0a"/>
<rect x="309" y="764.0" width="1" height="2.0" fill="#0a0a0a"/>
<rect x="360" y="765.0" width="1" height="1.0" fill="#0a0a0a"/>
<rect x="368" y="765.0" width="1" height="1.0" fill="#0a0a0a"/>
<rect x="396" y="765.0" width="1" height="1.0" fill="#0a0a0a"/>
<rect x="409" y="765.0" width="1" height="1.0" fill="#0a0a0a"/>
<rect x="428" y="765.0" width="1" height="1.0" fill="#0a0a0a"/>
<rect x="108" y="778.9" width="1" height="4.0" fill="#0a0a0a"/>
<rect x="147" y="767.9" width="1" height="15.0" fill="#0a0a0a"/>
<rect x="212" y="780.9" width="1" height="2.0" fill="#0a0a0a"/>
<rect x="231" y="780.9" width="1" height="2.0" fill="#0a0a0a"/>
<rect x="236" y="781.9" width="1" height="1.0" fill="#0a0a0a"/>
<rect x="252" y="781.9" width="1" height="1.0" fill="#0a0a0a"/>
<rect x="274" y="781.9" width="1" height="1.0" fill="#0a0a0a"/>
<rect x="302" y="778.9" width="1" height="4.0" fill="#0a0a0a"/>
<rect x="334" y="781.9" width="1" height="1.0" fill="#0a0a0a"/>
<rect x="336" y="781.9" width="1" height="1.0" fill="#0a0a0a"/>
<rect x="365" y="780.9" width="1" height="2.0" fill="#0a0a0a"/>
<rect x="421" y="780.9" width="1" height="2.0" fill="#0a0a0a"/>
<rect x="49" y="785.4" width="1" height="15.0" fill="#0a0a0a"/>
<rect x="110" y="785.4" width="1" height="15.0" fill="#0a0a0a"/>
<rect x="126" y="796.4" width="1" height="4.0" fill="#0a0a0a"/>
<rect x="156" y="798.4" width="1" height="2.0" fill="#0a0a0a"/>
<rect x="163" y="789.4" width="1" height="11.0" fill="#0a0a0a"/>
<rect x="176" y="792.4" width="1" height="8.0" fill="#0a0a0a"/>
<rect x="182" y="797.4" width="1" height="3.0" fill="#0a0a0a"/>
<rect x="187" y="799.4" width="1" height="1.0" fill="#0a0a0a"/>
<rect x="191" y="794.4" width="1" height="6.0" fill="#0a0a0a"/>
<rect x="198" y="798.4" width="1" height="2.0" fill="#0a0a0a"/>
<rect x="204" y="799.4" width="1" height="1.0" fill="#0a0a0a"/>
<rect x="208" y="797.4" width="1" height="3.0" fill="#0a0a0a"/>
<rect x="211" y="798.4" width="1" height="2.0" fill="#0a0a0a"/>
<rect x="216" y="799.4" width="1" height="1.0" fill="#0a0a0a"/>
<rect x="239" y="796.4" width="1" height="4.0" fill="#0a0a0a"/>
<rect x="249" y="799.4" width="1" height="1.0" fill="#0a0a0a"/>
<rect x="256" y="795.4" width="1" height="5.0" fill="#0a0a0a"/>
<rect x="259" y="796.4" width="1" height="4.0" fill="#0a0a0a"/>
<rect x="262" y="798.4" width="1" height="2.0" fill="#0a0a0a"/>
<rect x="271" y="798.4" width="1" height="2.0" fill="#0a0a0a"/>
<rect x="277" y="799.4" width="1" height="1.0" fill="#0a0a0a"/>
<rect x="287" y="796.4" width="1" height="4.0" fill="#0a0a0a"/>
<rect x="290" y="798.4" width="1" height="2.0" fill="#0a0a0a"/>
<rect x="293" y="799.4" width="1" height="1.0" fill="#0a0a0a"/>
<rect x="303" y="796.4" width="1" height="4.0" fill="#0a0a0a"/>
<rect x="306" y="797.4" width="1" height="3.0" fill="#0a0a0a"/>
<rect x="309" y="797.4" width="2" height="3.0" fill="#0a0a0a"/>
<rect x="324" y="799.4" width="1" height="1.0" fill="#0a0a0a"/>
<rect x="331" y="799.4" width="1" height="1.0" fill="#0a0a0a"/>
<rect x="335" y="798.4" width="1" height="2.0" fill="#0a0a0a"/>
<rect x="339" y="799.4" width="1" height="1.0" fill="#0a0a0a"/>
<rect x="345" y="798.4" width="1" height="2.0" fill="#0a0a0a"/>
<rect x="352" y="799.4" width="1" height="1.0" fill="#0a0a0a"/>
<rect x="355" y="798.4" width="1" height="2.0" fill="#0a0a0a"/>
<rect x="369" y="799.4" width="1" height="1.0" fill="#0a0a0a"/>
<rect x="373" y="799.4" width="1" height="1.0" fill="#0a0a0a"/>
<rect x="398" y="798.4" width="1" height="2.0" fill="#0a0a0a"/>
<rect x="401" y="799.4" width="1" height="1.0" fill="#0a0a0a"/>
<rect x="409" y="799.4" width="1" height="1.0" fill="#0a0a0a"/>
<rect x="424" y="799.4" width="1" height="1.0" fill="#0a0a0a"/>
<rect x="91" y="805.6" width="1" height="12.0" fill="#0a0a0a"/>
<rect x="160" y="812.6" width="1" height="5.0" fill="#0a0a0a"/>
<rect x="198" y="802.6" width="2" height="15.0" fill="#0a0a0a"/>
<rect x="213" y="815.6" width="1" height="2.0" fill="#0a0a0a"/>
<rect x="284" y="805.6" width="1" height="12.0" fill="#0a0a0a"/>
<rect x="306" y="811.6" width="1" height="6.0" fill="#0a0a0a"/>
<rect x="329" y="814.6" width="1" height="3.0" fill="#0a0a0a"/>
<rect x="343" y="816.6" width="1" height="1.0" fill="#0a0a0a"/>
<rect x="362" y="815.6" width="1" height="2.0" fill="#0a0a0a"/>
<rect x="363" y="815.6" width="1" height="2.0" fill="#0a0a0a"/>
<rect x="383" y="814.6" width="1" height="3.0" fill="#0a0a0a"/>
<rect x="394" y="815.6" width="1" height="2.0" fill="#0a0a0a"/>
<rect x="60" y="848.8" width="1" height="2.0" fill="#0a0a0a"/>
<rect x="70" y="847.8" width="1" height="3.0" fill="#0a0a0a"/>
<rect x="99" y="849.8" width="1" height="1.0" fill="#0a0a0a"/>
<rect x="110" y="840.8" width="1" height="10.0" fill="#0a0a0a"/>
<rect x="119" y="848.8" width="1" height="2.0" fill="#0a0a0a"/>
<rect x="123" y="847.8" width="1" height="3.0" fill="#0a0a0a"/>
<rect x="126" y="844.8" width="2" height="6.0" fill="#0a0a0a"/>
<rect x="134" y="847.8" width="1" height="3.0" fill="#0a0a0a"/>
<rect x="137" y="847.8" width="1" height="3.0" fill="#0a0a0a"/>
<rect x="141" y="842.8" width="1" height="8.0" fill="#0a0a0a"/>
<rect x="149" y="841.8" width="2" height="9.0" fill="#0a0a0a"/>
<rect x="150" y="840.8" width="2" height="10.0" fill="#0a0a0a"/>
<rect x="153" y="835.8" width="1" height="15.0" fill="#0a0a0a"/>
<rect x="168" y="845.8" width="2" height="5.0" fill="#0a0a0a"/>
<rect x="173" y="846.8" width="1" height="4.0" fill="#0a0a0a"/>
<rect x="181" y="849.8" width="1" height="1.0" fill="#0a0a0a"/>
<rect x="185" y="847.8" width="1" height="3.0" fill="#0a0a0a"/>
<rect x="185" y="847.8" width="1" height="3.0" fill="#0a0a0a"/>
<rect x="199" y="847.8" width="1" height="3.0" fill="#0a0a0a"/>
<rect x="202" y="845.8" width="1" height="5.0" fill="#0a0a0a"/>
<rect x="203" y="847.8" width="1" height="3.0" fill="#0a0a0a"/>
<rect x="246" y="845.8" width="1" height="5.0" fill="#0a0a0a"/>
<rect x="251" y="847.8" width="1" height="3.0" fill="#0a0a0a"/>
<rect x="254" y="848.8" width="1" height="2.0" fill="#0a0a0a"/>
<rect x="282" y="847.8" width="1" height="3.0" fill="#0a0a0a"/>
<rect x="285" y="848.8" width="1" height="2.0" fill="#0a0a0a"/>
<rect x="306" y="845.8" width="1" height="5.0" fill="#0a0a0a"/>
<rect x="188" y="848.8" width="1" height="2.0" fill="#0a0a0a"/>
<rect x="190" y="849.8" width="1" height="1.0" fill="#0a0a0a"/>
<rect x="191" y="849.8" width="1" height="1.0" fill="#0a0a0a"/>
<rect x="195" y="849.3" width="1" height="1.5" fill="#0a0a0a"/>
<rect x="198" y="847.8" width="1" height="3.0" fill="#0a0a0a"/>
<rect x="199" y="847.8" width="1" height="3.0" fill="#0a0a0a"/>
<rect x="201" y="847.8" width="1" height="3.0" fill="#0a0a0a"/>
<rect x="203" y="848.8" width="1" height="2.0" fill="#0a0a0a"/>
<rect x="204" y="849.8" width="1" height="1.0" fill="#0a0a0a"/>
<rect x="205" y="849.3" width="1" height="1.5" fill="#0a0a0a"/>
<rect x="206" y="849.8" width="1" height="1.0" fill="#0a0a0a"/>
<rect x="209" y="849.8" width="1" height="1.0" fill="#0a0a0a"/>
<rect x="214" y="849.8" width="1" height="1.0" fill="#0a0a0a"/>
<rect x="216" y="848.8" width="1" height="2.0" fill="#0a0a0a"/>
<rect x="219" y="848.8" width="1" height="2.0" fill="#0a0a0a"/>
<rect x="221" y="849.8" width="1" height="1.0" fill="#0a0a0a"/>
<rect x="225" y="847.8" width="1" height="3.0" fill="#0a0a0a"/>
<rect x="227" y="847.8" width="1" height="3.0" fill="#0a0a0a"/>
<rect x="227" y="847.8" width="1" height="3.0" fill="#0a0a0a"/>
<rect x="229" y="849.8" width="1" height="1.0" fill="#0a0a0a"/>
<rect x="231" y="847.8" width="1" height="3.0" fill="#0a0a0a"/>
<rect x="232" y="849.8" width="1" height="1.0" fill="#0a0a0a"/>
<rect x="234" y="847.8" width="1" height="3.0" fill="#0a0a0a"/>
<rect x="236" y="848.8" width="1" height="2.0" fill="#0a0a0a"/>
<rect x="238" y="849.8" width="1" height="1.0" fill="#0a0a0a"/>
<rect x="240" y="849.8" width="1" height="1.0" fill="#0a0a0a"/>
<rect x="241" y="848.8" width="1" height="2.0" fill="#0a0a0a"/>
<rect x="245" y="849.8" width="1" height="1.0" fill="#0a0a0a"/>
<rect x="246" y="848.8" width="1" height="2.0" fill="#0a0a0a"/>
<rect x="249" y="849.8" width="1" height="1.0" fill="#0a0a0a"/>
<rect x="250" y="849.3" width="1" height="1.5" fill="#0a0a0a"/>
<rect x="254" y="849.8" width="1" height="1.0" fill="#0a0a0a"/>
<rect x="255" y="849.3" width="1" height="1.5" fill="#0a0a0a"/>
<rect x="259" y="849.3" width="1" height="1.5" fill="#0a0a0a"/>
<rect x="262" y="847.8" width="1" height="3.0" fill="#0a0a0a"/>
<rect x="263" y="849.8" width="1" height="1.0" fill="#0a0a0a"/>
<rect x="264" y="849.3" width="1" height="1.5" fill="#0a0a0a"/>
<rect x="265" y="849.8" width="1" height="1.0" fill="#0a0a0a"/>
<rect x="267" y="848.8" width="1" height="2.0" fill="#0a0a0a"/>
<rect x="268" y="848.8" width="1" height="2.0" fill="#0a0a0a"/>
<rect x="274" y="849.8" width="1" height="1.0" fill="#0a0a0a"/>
<rect x="278" y="847.8" width="1" height="3.0" fill="#0a0a0a"/>
<rect x="279" y="848.8" width="1" height="2.0" fill="#0a0a0a"/>
<rect x="281" y="849.8" width="1" height="1.0" fill="#0a0a0a"/>
<rect x="282" y="847.8" width="1" height="3.0" fill="#0a0a0a"/>
<rect x="283" y="848.8" width="1" height="2.0" fill="#0a0a0a"/>
<rect x="288" y="847.8" width="1" height="3.0" fill="#0a0a0a"/>
<rect x="290" y="848.8" width="1" height="2.0" fill="#0a0a0a"/>
<rect x="291" y="847.8" width="1" height="3.0" fill="#0a0a0a"/>
<rect x="292" y="848.8" width="1" height="2.0" fill="#0a0a0a"/>
<rect x="295" y="848.8" width="1" height="2.0" fill="#0a0a0a"/>
<rect x="296" y="849.8" width="1" height="1.0" fill="#0a0a0a"/>
<rect x="299" y="847.8" width="1" height="3.0" fill="#0a0a0a"/>
<rect x="300" y="849.8" width="1" height="1.0" fill="#0a0a0a"/>
<rect x="305" y="849.8" width="1" height="1.0" fill="#0a0a0a"/>
<rect x="306" y="849.8" width="1" height="1.0" fill="#0a0a0a"/>
<rect x="307" y="849.3" width="1" height="1.5" fill="#0a0a0a"/>
<rect x="309" y="848.8" width="1" height="2.0" fill="#0a0a0a"/>
<rect x="310" y="849.8" width="1" height="1.0" fill="#0a0a0a"/>
<rect x="313" y="849.8" width="1" height="1.0" fill="#0a0a0a"/>
<rect x="314" y="848.8" width="1" height="2.0" fill="#0a0a0a"/>
<rect x="316" y="848.8" width="1" height="2.0" fill="#0a0a0a"/>
<rect x="317" y="849.8" width="1" height="1.0" fill="#0a0a0a"/>
<rect x="319" y="848.8" width="1" height="2.0" fill="#0a0a0a"/>
<rect x="323" y="849.8" width="1" height="1.0" fill="#0a0a0a"/>
<rect x="324" y="849.3" width="1" height="1.5" fill="#0a0a0a"/>
<rect x="329" y="848.8" width="1" height="2.0" fill="#0a0a0a"/>
<rect x="332" y="847.8" width="1" height="3.0" fill="#0a0a0a"/>
<rect x="334" y="849.8" width="1" height="1.0" fill="#0a0a0a"/>
<rect x="343" y="848.8" width="1" height="2.0" fill="#0a0a0a"/>
<rect x="344" y="849.3" width="1" height="1.5" fill="#0a0a0a"/>
<rect x="345" y="847.8" width="1" height="3.0" fill="#0a0a0a"/>
<rect x="346" y="848.8" width="1" height="2.0" fill="#0a0a0a"/>
<rect x="349" y="849.8" width="1" height="1.0" fill="#0a0a0a"/>
<rect x="353" y="848.8" width="1" height="2.0" fill="#0a0a0a"/>
<rect x="355" y="849.8" width="1" height="1.0" fill="#0a0a0a"/>
<rect x="356" y="849.8" width="1" height="1.0" fill="#0a0a0a"/>
<rect x="358" y="849.8" width="1" height="1.0" fill="#0a0a0a"/>
<rect x="361" y="849.8" width="1" height="1.0" fill="#0a0a0a"/>
<rect x="362" y="848.8" width="1" height="2.0" fill="#0a0a0a"/>
<rect x="365" y="849.8" width="1" height="1.0" fill="#0a0a0a"/>
<rect x="366" y="848.8" width="1" height="2.0" fill="#0a0a0a"/>
<rect x="368" y="849.8" width="1" height="1.0" fill="#0a0a0a"/>
<rect x="369" y="848.8" width="1" height="2.0" fill="#0a0a0a"/>
<rect x="370" y="848.8" width="1" height="2.0" fill="#0a0a0a"/>
<rect x="373" y="848.8" width="1" height="2.0" fill="#0a0a0a"/>
<rect x="375" y="849.3" width="1" height="1.5" fill="#0a0a0a"/>
<rect x="376" y="849.3" width="1" height="1.5" fill="#0a0a0a"/>
<rect x="379" y="849.8" width="1" height="1.0" fill="#0a0a0a"/>
<rect x="381" y="847.8" width="1" height="3.0" fill="#0a0a0a"/>
<rect x="384" y="849.8" width="1" height="1.0" fill="#0a0a0a"/>
<rect x="386" y="848.8" width="1" height="2.0" fill="#0a0a0a"/>
<rect x="387" y="849.8" width="1" height="1.0" fill="#0a0a0a"/>
<rect x="390" y="849.3" width="1" height="1.5" fill="#0a0a0a"/>
<rect x="391" y="848.8" width="1" height="2.0" fill="#0a0a0a"/>
<rect x="393" y="848.8" width="1" height="2.0" fill="#0a0a0a"/>
<rect x="396" y="848.8" width="1" height="2.0" fill="#0a0a0a"/>
<rect x="397" y="849.3" width="1" height="1.5" fill="#0a0a0a"/>
<rect x="400" y="848.8" width="1" height="2.0" fill="#0a0a0a"/>
<rect x="401" y="848.8" width="1" height="2.0" fill="#0a0a0a"/>
<rect x="403" y="848.8" width="1" height="2.0" fill="#0a0a0a"/>
<rect x="63" y="831.6" width="1" height="2.0" fill="#0a0a0a"/>
<rect x="70" y="832.6" width="1" height="1.0" fill="#0a0a0a"/>
<rect x="75" y="832.6" width="1" height="1.0" fill="#0a0a0a"/>
<rect x="96" y="832.6" width="1" height="1.0" fill="#0a0a0a"/>
<rect x="116" y="822.6" width="1" height="11.0" fill="#0a0a0a"/>
<rect x="123" y="830.6" width="1" height="3.0" fill="#0a0a0a"/>
<rect x="126" y="827.6" width="1" height="6.0" fill="#0a0a0a"/>
<rect x="131" y="829.6" width="2" height="4.0" fill="#0a0a0a"/>
<rect x="138" y="830.6" width="1" height="3.0" fill="#0a0a0a"/>
<rect x="141" y="831.6" width="1" height="2.0" fill="#0a0a0a"/>
<rect x="145" y="831.6" width="1" height="2.0" fill="#0a0a0a"/>
<rect x="154" y="824.6" width="2" height="9.0" fill="#0a0a0a"/>
<rect x="155" y="818.6" width="1" height="15.0" fill="#0a0a0a"/>
<rect x="157" y="828.6" width="2" height="5.0" fill="#0a0a0a"/>
<rect x="170" y="830.6" width="1" height="3.0" fill="#0a0a0a"/>
<rect x="172" y="830.6" width="1" height="3.0" fill="#0a0a0a"/>
<rect x="177" y="831.6" width="1" height="2.0" fill="#0a0a0a"/>
<rect x="181" y="832.6" width="1" height="1.0" fill="#0a0a0a"/>
<rect x="202" y="831.6" width="1" height="2.0" fill="#0a0a0a"/>
<rect x="250" y="831.6" width="1" height="2.0" fill="#0a0a0a"/>
<rect x="308" y="831.6" width="1" height="2.0" fill="#0a0a0a"/>
<rect x="200" y="831.6" width="1" height="2.0" fill="#0a0a0a"/>
<rect x="201" y="832.6" width="1" height="1.0" fill="#0a0a0a"/>
<rect x="203" y="832.6" width="1" height="1.0" fill="#0a0a0a"/>
<rect x="204" y="831.6" width="1" height="2.0" fill="#0a0a0a"/>
<rect x="205" y="832.6" width="1" height="1.0" fill="#0a0a0a"/>
<rect x="207" y="831.6" width="1" height="2.0" fill="#0a0a0a"/>
<rect x="209" y="832.6" width="1" height="1.0" fill="#0a0a0a"/>
<rect x="210" y="832.6" width="1" height="1.0" fill="#0a0a0a"/>
<rect x="212" y="832.6" width="1" height="1.0" fill="#0a0a0a"/>
<rect x="215" y="832.1" width="1" height="1.5" fill="#0a0a0a"/>
<rect x="218" y="832.6" width="1" height="1.0" fill="#0a0a0a"/>
<rect x="220" y="832.6" width="1" height="1.0" fill="#0a0a0a"/>
<rect x="223" y="832.6" width="1" height="1.0" fill="#0a0a0a"/>
<rect x="226" y="831.6" width="1" height="2.0" fill="#0a0a0a"/>
<rect x="227" y="832.1" width="1" height="1.5" fill="#0a0a0a"/>
<rect x="228" y="832.1" width="1" height="1.5" fill="#0a0a0a"/>
<rect x="230" y="831.6" width="1" height="2.0" fill="#0a0a0a"/>
<rect x="231" y="832.1" width="1" height="1.5" fill="#0a0a0a"/>
<rect x="234" y="831.6" width="1" height="2.0" fill="#0a0a0a"/>
<rect x="235" y="832.1" width="1" height="1.5" fill="#0a0a0a"/>
<rect x="237" y="831.6" width="1" height="2.0" fill="#0a0a0a"/>
<rect x="237" y="832.6" width="1" height="1.0" fill="#0a0a0a"/>
<rect x="239" y="831.6" width="1" height="2.0" fill="#0a0a0a"/>
<rect x="240" y="831.6" width="1" height="2.0" fill="#0a0a0a"/>
<rect x="242" y="831.6" width="1" height="2.0" fill="#0a0a0a"/>
<rect x="247" y="832.6" width="1" height="1.0" fill="#0a0a0a"/>
<rect x="248" y="832.1" width="1" height="1.5" fill="#0a0a0a"/>
<rect x="251" y="831.6" width="1" height="2.0" fill="#0a0a0a"/>
<rect x="252" y="832.1" width="1" height="1.5" fill="#0a0a0a"/>
<rect x="253" y="832.6" width="1" height="1.0" fill="#0a0a0a"/>
<rect x="256" y="832.6" width="1" height="1.0" fill="#0a0a0a"/>
<rect x="257" y="831.6" width="1" height="2.0" fill="#0a0a0a"/>
<rect x="259" y="832.1" width="1" height="1.5" fill="#0a0a0a"/>
<rect x="261" y="832.6" width="1" height="1.0" fill="#0a0a0a"/>
<rect x="264" y="832.1" width="1" height="1.5" fill="#0a0a0a"/>
<rect x="267" y="832.6" width="1" height="1.0" fill="#0a0a0a"/>
<rect x="268" y="832.6" width="1" height="1.0" fill="#0a0a0a"/>
<rect x="269" y="832.6" width="1" height="1.0" fill="#0a0a0a"/>
<rect x="271" y="831.6" width="1" height="2.0" fill="#0a0a0a"/>
<rect x="275" y="832.1" width="1" height="1.5" fill="#0a0a0a"/>
<rect x="276" y="831.6" width="1" height="2.0" fill="#0a0a0a"/>
<rect x="280" y="831.6" width="1" height="2.0" fill="#0a0a0a"/>
<rect x="282" y="832.1" width="1" height="1.5" fill="#0a0a0a"/>
<rect x="283" y="831.6" width="1" height="2.0" fill="#0a0a0a"/>
<rect x="287" y="832.1" width="1" height="1.5" fill="#0a0a0a"/>
<rect x="289" y="832.1" width="1" height="1.5" fill="#0a0a0a"/>
<rect x="290" y="832.1" width="1" height="1.5" fill="#0a0a0a"/>
<rect x="293" y="832.1" width="1" height="1.5" fill="#0a0a0a"/>
<rect x="295" y="832.6" width="1" height="1.0" fill="#0a0a0a"/>
<rect x="296" y="832.1" width="1" height="1.5" fill="#0a0a0a"/>
<rect x="297" y="831.6" width="1" height="2.0" fill="#0a0a0a"/>
<rect x="299" y="832.1" width="1" height="1.5" fill="#0a0a0a"/>
<rect x="300" y="831.6" width="1" height="2.0" fill="#0a0a0a"/>
<rect x="302" y="831.6" width="1" height="2.0" fill="#0a0a0a"/>
<rect x="305" y="832.6" width="1" height="1.0" fill="#0a0a0a"/>
<rect x="306" y="831.6" width="1" height="2.0" fill="#0a0a0a"/>
<rect x="307" y="831.6" width="1" height="2.0" fill="#0a0a0a"/>
<rect x="309" y="831.6" width="1" height="2.0" fill="#0a0a0a"/>
<rect x="311" y="832.1" width="1" height="1.5" fill="#0a0a0a"/>
<rect x="312" y="832.1" width="1" height="1.5" fill="#0a0a0a"/>
<rect x="314" y="831.6" width="1" height="2.0" fill="#0a0a0a"/>
<rect x="315" y="832.6" width="1" height="1.0" fill="#0a0a0a"/>
<rect x="317" y="831.6" width="1" height="2.0" fill="#0a0a0a"/>
<rect x="320" y="832.6" width="1" height="1.0" fill="#0a0a0a"/>
<rect x="321" y="832.6" width="1" height="1.0" fill="#0a0a0a"/>
<rect x="322" y="832.1" width="1" height="1.5" fill="#0a0a0a"/>
<rect x="324" y="831.6" width="1" height="2.0" fill="#0a0a0a"/>
<rect x="325" y="832.1" width="1" height="1.5" fill="#0a0a0a"/>
<rect x="326" y="832.1" width="1" height="1.5" fill="#0a0a0a"/>
<rect x="330" y="832.6" width="1" height="1.0" fill="#0a0a0a"/>
<rect x="331" y="832.1" width="1" height="1.5" fill="#0a0a0a"/>
<rect x="332" y="831.6" width="1" height="2.0" fill="#0a0a0a"/>
<rect x="334" y="832.6" width="1" height="1.0" fill="#0a0a0a"/>
<rect x="336" y="831.6" width="1" height="2.0" fill="#0a0a0a"/>
<rect x="336" y="831.6" width="1" height="2.0" fill="#0a0a0a"/>
<rect x="338" y="832.6" width="1" height="1.0" fill="#0a0a0a"/>
<rect x="340" y="832.6" width="1" height="1.0" fill="#0a0a0a"/>
<rect x="342" y="831.6" width="1" height="2.0" fill="#0a0a0a"/>
<rect x="343" y="831.6" width="1" height="2.0" fill="#0a0a0a"/>
<rect x="344" y="832.6" width="1" height="1.0" fill="#0a0a0a"/>
<rect x="346" y="831.6" width="1" height="2.0" fill="#0a0a0a"/>
<rect x="347" y="832.6" width="1" height="1.0" fill="#0a0a0a"/>
<rect x="348" y="832.1" width="1" height="1.5" fill="#0a0a0a"/>
<rect x="349" y="832.1" width="1" height="1.5" fill="#0a0a0a"/>
<rect x="353" y="832.6" width="1" height="1.0" fill="#0a0a0a"/>
<rect x="353" y="831.6" width="1" height="2.0" fill="#0a0a0a"/>
<rect x="356" y="832.6" width="1" height="1.0" fill="#0a0a0a"/>
<rect x="359" y="832.1" width="1" height="1.5" fill="#0a0a0a"/>
<rect x="360" y="832.6" width="1" height="1.0" fill="#0a0a0a"/>
<rect x="361" y="832.6" width="1" height="1.0" fill="#0a0a0a"/>
<rect x="364" y="831.6" width="1" height="2.0" fill="#0a0a0a"/>
<rect x="365" y="832.6" width="1" height="1.0" fill="#0a0a0a"/>
<rect x="366" y="832.1" width="1" height="1.5" fill="#0a0a0a"/>
<rect x="368" y="832.1" width="1" height="1.5" fill="#0a0a0a"/>
<rect x="370" y="831.6" width="1" height="2.0" fill="#0a0a0a"/>
<rect x="371" y="831.6" width="1" height="2.0" fill="#0a0a0a"/>
<rect x="373" y="831.6" width="1" height="2.0" fill="#0a0a0a"/>
<rect x="374" y="831.6" width="1" height="2.0" fill="#0a0a0a"/>
<rect x="376" y="831.6" width="1" height="2.0" fill="#0a0a0a"/>
<rect x="380" y="832.6" width="1" height="1.0" fill="#0a0a0a"/>
<rect x="382" y="832.1" width="1" height="1.5" fill="#0a0a0a"/>
<rect x="385" y="832.1" width="1" height="1.5" fill="#0a0a0a"/>
<rect x="386" y="832.1" width="1" height="1.5" fill="#0a0a0a"/>
<rect x="387" y="831.6" width="1" height="2.0" fill="#0a0a0a"/>
<rect x="391" y="831.6" width="1" height="2.0" fill="#0a0a0a"/>
<rect x="393" y="832.6" width="1" height="1.0" fill="#0a0a0a"/>
<rect x="396" y="831.6" width="1" height="2.0" fill="#0a0a0a"/>
<rect x="402" y="832.6" width="1" height="1.0" fill="#0a0a0a"/>
<rect x="403" y="832.6" width="1" height="1.0" fill="#0a0a0a"/>
<rect x="405" y="831.6" width="1" height="2.0" fill="#0a0a0a"/>
<rect x="407" y="831.6" width="1" height="2.0" fill="#0a0a0a"/>
<rect x="30" y="852.9" width="1" height="14.0" fill="#0a0a0a"/>
<rect x="88" y="862.9" width="1" height="4.0" fill="#0a0a0a"/>
<rect x="102" y="856.9" width="1" height="10.0" fill="#0a0a0a"/>
<rect x="106" y="862.9" width="1" height="4.0" fill="#0a0a0a"/>
<rect x="108" y="861.9" width="1" height="5.0" fill="#0a0a0a"/>
<rect x="119" y="865.9" width="1" height="1.0" fill="#0a0a0a"/>
<rect x="122" y="860.9" width="1" height="6.0" fill="#0a0a0a"/>
<rect x="126" y="864.9" width="1" height="2.0" fill="#0a0a0a"/>
<rect x="132" y="855.9" width="1" height="11.0" fill="#0a0a0a"/>
<rect x="135" y="864.9" width="1" height="2.0" fill="#0a0a0a"/>
<rect x="139" y="853.9" width="1" height="13.0" fill="#0a0a0a"/>
<rect x="148" y="860.9" width="1" height="6.0" fill="#0a0a0a"/>
<rect x="155" y="855.9" width="1" height="11.0" fill="#0a0a0a"/>
<rect x="159" y="864.9" width="1" height="2.0" fill="#0a0a0a"/>
<rect x="165" y="856.9" width="1" height="10.0" fill="#0a0a0a"/>
<rect x="173" y="862.9" width="1" height="4.0" fill="#0a0a0a"/>
<rect x="179" y="860.9" width="1" height="6.0" fill="#0a0a0a"/>
<rect x="182" y="859.9" width="1" height="7.0" fill="#0a0a0a"/>
<rect x="201" y="854.9" width="2" height="12.0" fill="#0a0a0a"/>
<rect x="208" y="865.9" width="1" height="1.0" fill="#0a0a0a"/>
<rect x="214" y="861.9" width="1" height="5.0" fill="#0a0a0a"/>
<rect x="217" y="861.9" width="1" height="5.0" fill="#0a0a0a"/>
<rect x="220" y="861.9" width="1" height="5.0" fill="#0a0a0a"/>
<rect x="226" y="865.9" width="1" height="1.0" fill="#0a0a0a"/>
<rect x="230" y="864.9" width="1" height="2.0" fill="#0a0a0a"/>
<rect x="234" y="865.9" width="1" height="1.0" fill="#0a0a0a"/>
<rect x="237" y="863.9" width="1" height="3.0" fill="#0a0a0a"/>
<rect x="239" y="864.9" width="1" height="2.0" fill="#0a0a0a"/>
<rect x="245" y="864.9" width="1" height="2.0" fill="#0a0a0a"/>
<rect x="259" y="861.9" width="2" height="5.0" fill="#0a0a0a"/>
<rect x="263" y="863.9" width="1" height="3.0" fill="#0a0a0a"/>
<rect x="266" y="863.9" width="1" height="3.0" fill="#0a0a0a"/>
<rect x="268" y="861.9" width="1" height="5.0" fill="#0a0a0a"/>
<rect x="82" y="881.9" width="1" height="2.0" fill="#0a0a0a"/>
<rect x="105" y="881.9" width="1" height="2.0" fill="#0a0a0a"/>
<rect x="119" y="881.9" width="1" height="2.0" fill="#0a0a0a"/>
<rect x="126" y="881.9" width="1" height="2.0" fill="#0a0a0a"/>
<rect x="135" y="874.9" width="1" height="9.0" fill="#0a0a0a"/>
<rect x="163" y="881.9" width="2" height="2.0" fill="#0a0a0a"/>
<rect x="180" y="871.9" width="1" height="12.0" fill="#0a0a0a"/>
<rect x="196" y="879.9" width="1" height="4.0" fill="#0a0a0a"/>
<rect x="198" y="880.9" width="1" height="3.0" fill="#0a0a0a"/>
<rect x="201" y="876.9" width="1" height="7.0" fill="#0a0a0a"/>
<rect x="208" y="869.9" width="1" height="14.0" fill="#0a0a0a"/>
<rect x="217" y="879.9" width="1" height="4.0" fill="#0a0a0a"/>
<rect x="223" y="881.9" width="1" height="2.0" fill="#0a0a0a"/>
<rect x="228" y="879.9" width="1" height="4.0" fill="#0a0a0a"/>
<rect x="230" y="880.9" width="1" height="3.0" fill="#0a0a0a"/>
<rect x="243" y="881.9" width="1" height="2.0" fill="#0a0a0a"/>
<rect x="248" y="881.9" width="1" height="2.0" fill="#0a0a0a"/>
<rect x="259" y="881.9" width="1" height="2.0" fill="#0a0a0a"/>
<rect x="272" y="881.9" width="1" height="2.0" fill="#0a0a0a"/>
<rect x="282" y="882.9" width="1" height="1.0" fill="#0a0a0a"/>
<rect x="297" y="881.9" width="1" height="2.0" fill="#0a0a0a"/>
<rect x="299" y="881.9" width="1" height="2.0" fill="#0a0a0a"/>
<rect x="309" y="872.9" width="1" height="11.0" fill="#0a0a0a"/>
<rect x="310" y="873.9" width="1" height="10.0" fill="#0a0a0a"/>
<rect x="313" y="881.9" width="1" height="2.0" fill="#0a0a0a"/>
<rect x="326" y="880.9" width="1" height="3.0" fill="#0a0a0a"/>
<rect x="332" y="880.9" width="1" height="3.0" fill="#0a0a0a"/>
<rect x="338" y="880.9" width="1" height="3.0" fill="#0a0a0a"/>
<rect x="344" y="880.9" width="1" height="3.0" fill="#0a0a0a"/>
<rect x="350" y="881.9" width="1" height="2.0" fill="#0a0a0a"/>
<rect x="354" y="881.9" width="1" height="2.0" fill="#0a0a0a"/>
<rect x="372" y="879.9" width="1" height="4.0" fill="#0a0a0a"/>
<rect x="374" y="879.9" width="1" height="4.0" fill="#0a0a0a"/>
<rect x="380" y="880.9" width="1" height="3.0" fill="#0a0a0a"/>
<rect x="385" y="882.4" width="1" height="1.5" fill="#0a0a0a"/>
<rect x="390" y="882.9" width="1" height="1.0" fill="#0a0a0a"/>
<rect x="391" y="882.9" width="1" height="1.0" fill="#0a0a0a"/>
<rect x="403" y="882.9" width="1" height="1.0" fill="#0a0a0a"/>
<rect x="405" y="882.9" width="1" height="1.0" fill="#0a0a0a"/>
<rect x="407" y="882.4" width="1" height="1.5" fill="#0a0a0a"/>
<rect x="420" y="882.9" width="1" height="1.0" fill="#0a0a0a"/>
<rect x="423" y="881.9" width="1" height="2.0" fill="#0a0a0a"/>
<rect x="424" y="881.9" width="1" height="2.0" fill="#0a0a0a"/>
<rect x="427" y="882.9" width="1" height="1.0" fill="#0a0a0a"/>
<rect x="433" y="882.4" width="1" height="1.5" fill="#0a0a0a"/>
<rect x="435" y="882.4" width="1" height="1.5" fill="#0a0a0a"/>
<rect x="438" y="882.9" width="1" height="1.0" fill="#0a0a0a"/>
<rect x="442" y="882.9" width="1" height="1.0" fill="#0a0a0a"/>
<rect x="444" y="881.9" width="1" height="2.0" fill="#0a0a0a"/>
<rect x="447" y="882.9" width="1" height="1.0" fill="#0a0a0a"/>
<rect x="449" y="882.4" width="1" height="1.5" fill="#0a0a0a"/>
<rect x="451" y="882.9" width="1" height="1.0" fill="#0a0a0a"/>
<rect x="453" y="882.9" width="1" height="1.0" fill="#0a0a0a"/>
<rect x="455" y="882.9" width="1" height="1.0" fill="#0a0a0a"/>
<rect x="464" y="882.9" width="1" height="1.0" fill="#0a0a0a"/>
<rect x="467" y="881.9" width="1" height="2.0" fill="#0a0a0a"/>
<rect x="471" y="881.9" width="1" height="2.0" fill="#0a0a0a"/>
<rect x="475" y="882.9" width="1" height="1.0" fill="#0a0a0a"/>
<rect x="477" y="882.9" width="1" height="1.0" fill="#0a0a0a"/>
<rect x="480" y="882.4" width="1" height="1.5" fill="#0a0a0a"/>
<rect x="497" y="882.9" width="1" height="1.0" fill="#0a0a0a"/>
<rect x="499" y="882.9" width="1" height="1.0" fill="#0a0a0a"/>
<rect x="502" y="882.9" width="1" height="1.0" fill="#0a0a0a"/>
<rect x="504" y="881.9" width="1" height="2.0" fill="#0a0a0a"/>
<rect x="506" y="882.4" width="1" height="1.5" fill="#0a0a0a"/>
<rect x="508" y="881.9" width="1" height="2.0" fill="#0a0a0a"/>
<rect x="515" y="882.4" width="1" height="1.5" fill="#0a0a0a"/>
<rect x="517" y="882.4" width="1" height="1.5" fill="#0a0a0a"/>
<rect x="521" y="882.9" width="1" height="1.0" fill="#0a0a0a"/>
<rect x="524" y="882.9" width="1" height="1.0" fill="#0a0a0a"/>
<rect x="526" y="882.4" width="1" height="1.5" fill="#0a0a0a"/>
<rect x="530" y="882.9" width="1" height="1.0" fill="#0a0a0a"/>
<rect x="532" y="882.9" width="1" height="1.0" fill="#0a0a0a"/>
<rect x="535" y="881.9" width="1" height="2.0" fill="#0a0a0a"/>
<rect x="536" y="881.9" width="1" height="2.0" fill="#0a0a0a"/>
<rect x="541" y="882.9" width="1" height="1.0" fill="#0a0a0a"/>
<rect x="546" y="882.4" width="1" height="1.5" fill="#0a0a0a"/>
<rect x="550" y="881.9" width="1" height="2.0" fill="#0a0a0a"/>
<rect x="555" y="882.9" width="1" height="1.0" fill="#0a0a0a"/>
<rect x="559" y="882.9" width="1" height="1.0" fill="#0a0a0a"/>
<rect x="564" y="881.9" width="1" height="2.0" fill="#0a0a0a"/>
<rect x="455" y="881.9" width="1" height="2.0" fill="#0a0a0a"/>
<rect x="456" y="881.9" width="1" height="2.0" fill="#0a0a0a"/>
<rect x="458" y="881.9" width="1" height="2.0" fill="#0a0a0a"/>
<rect x="459" y="881.9" width="1" height="2.0" fill="#0a0a0a"/>
<rect x="461" y="881.9" width="1" height="2.0" fill="#0a0a0a"/>
<rect x="462" y="881.9" width="1" height="2.0" fill="#0a0a0a"/>
<rect x="464" y="881.9" width="1" height="2.0" fill="#0a0a0a"/>
<rect x="170" y="895.0" width="1" height="4.0" fill="#0a0a0a"/>
<rect x="206" y="885.0" width="1" height="14.0" fill="#0a0a0a"/>
<rect x="256" y="897.0" width="1" height="2.0" fill="#0a0a0a"/>
<rect x="325" y="898.0" width="1" height="1.0" fill="#0a0a0a"/>
<rect x="349" y="897.0" width="1" height="2.0" fill="#0a0a0a"/>
<rect x="386" y="895.0" width="1" height="4.0" fill="#0a0a0a"/>
<line x1="4.5" x2="564.7" y1="665.4" y2="665.4" stroke="#a070a8" stroke-width="0.9"/>
<line x1="4.5" x2="564.7" y1="681.5" y2="681.5" stroke="#0c0c0c" stroke-width="1.1"/>
<line x1="4.5" x2="564.7" y1="698.35" y2="698.35" stroke="#0c0c0c" stroke-width="1.1"/>
<line x1="4.5" x2="564.7" y1="715.9" y2="715.9" stroke="#33343c" stroke-width="1.7"/>
<line x1="4.5" x2="564.7" y1="733.3" y2="733.3" stroke="#70a8a8" stroke-width="0.9"/>
<line x1="4.5" x2="564.7" y1="749.3" y2="749.3" stroke="#28302e" stroke-width="1.2"/>
<line x1="4.5" x2="564.7" y1="766.5" y2="766.5" stroke="#101010" stroke-width="1.2"/>
<line x1="4.5" x2="564.7" y1="783.4" y2="783.4" stroke="#1c201c" stroke-width="1.2"/>
<line x1="4.5" x2="564.7" y1="800.9" y2="800.9" stroke="#38382e" stroke-width="1.6"/>
<line x1="4.5" x2="564.7" y1="818.1" y2="818.1" stroke="#b8a888" stroke-width="1.2"/>
<line x1="4.5" x2="564.7" y1="834.1" y2="834.1" stroke="#2a2824" stroke-width="1.4"/>
<line x1="4.5" x2="564.7" y1="851.3" y2="851.3" stroke="#0c0c0c" stroke-width="1.1"/>
<line x1="4.5" x2="564.7" y1="867.4" y2="867.4" stroke="#0c0c0c" stroke-width="1.0"/>
<line x1="4.5" x2="564.7" y1="884.4" y2="884.4" stroke="#b06898" stroke-width="1.0"/>
<line x1="3.9" x2="565.3000000000001" y1="899.9" y2="899.9" stroke="#000" stroke-width="1.9"/>
<line x1="4.0" x2="565.2" y1="465.6" y2="465.6" stroke="#333" stroke-width="1.1"/>
<line x1="4.5" x2="4.5" y1="465.6" y2="908.6" stroke="#000" stroke-width="1.3"/>
<line x1="564.7" x2="564.7" y1="465.6" y2="908.6" stroke="#222" stroke-width="1.3"/>
<text x="3.5" y="926.2" font-size="16.6" text-anchor="middle" textLength="7.6" lengthAdjust="spacingAndGlyphs" fill="#141414">5</text>
<line x1="37.5" x2="37.5" y1="899.3" y2="908.6" stroke="#111" stroke-width="1.35"/>
<text x="36.5" y="926.2" font-size="16.6" text-anchor="middle" textLength="15.6" lengthAdjust="spacingAndGlyphs" fill="#141414">10</text>
<line x1="70.4" x2="70.4" y1="899.3" y2="908.6" stroke="#111" stroke-width="1.35"/>
<text x="69.4" y="926.2" font-size="16.6" text-anchor="middle" textLength="15.6" lengthAdjust="spacingAndGlyphs" fill="#141414">15</text>
<line x1="103.4" x2="103.4" y1="899.3" y2="908.6" stroke="#111" stroke-width="1.35"/>
<text x="102.4" y="926.2" font-size="16.6" text-anchor="middle" textLength="15.6" lengthAdjust="spacingAndGlyphs" fill="#141414">20</text>
<line x1="136.3" x2="136.3" y1="899.3" y2="908.6" stroke="#111" stroke-width="1.35"/>
<text x="135.3" y="926.2" font-size="16.6" text-anchor="middle" textLength="15.6" lengthAdjust="spacingAndGlyphs" fill="#141414">25</text>
<line x1="169.3" x2="169.3" y1="899.3" y2="908.6" stroke="#111" stroke-width="1.35"/>
<text x="168.3" y="926.2" font-size="16.6" text-anchor="middle" textLength="15.6" lengthAdjust="spacingAndGlyphs" fill="#141414">30</text>
<line x1="202.2" x2="202.2" y1="899.3" y2="908.6" stroke="#111" stroke-width="1.35"/>
<text x="201.2" y="926.2" font-size="16.6" text-anchor="middle" textLength="15.6" lengthAdjust="spacingAndGlyphs" fill="#141414">35</text>
<line x1="235.2" x2="235.2" y1="899.3" y2="908.6" stroke="#111" stroke-width="1.35"/>
<text x="234.2" y="926.2" font-size="16.6" text-anchor="middle" textLength="15.6" lengthAdjust="spacingAndGlyphs" fill="#141414">40</text>
<line x1="268.1" x2="268.1" y1="899.3" y2="908.6" stroke="#111" stroke-width="1.35"/>
<text x="267.1" y="926.2" font-size="16.6" text-anchor="middle" textLength="15.6" lengthAdjust="spacingAndGlyphs" fill="#141414">45</text>
<line x1="301.1" x2="301.1" y1="899.3" y2="908.6" stroke="#111" stroke-width="1.35"/>
<text x="300.1" y="926.2" font-size="16.6" text-anchor="middle" textLength="15.6" lengthAdjust="spacingAndGlyphs" fill="#141414">50</text>
<line x1="334.0" x2="334.0" y1="899.3" y2="908.6" stroke="#111" stroke-width="1.35"/>
<text x="333.0" y="926.2" font-size="16.6" text-anchor="middle" textLength="15.6" lengthAdjust="spacingAndGlyphs" fill="#141414">55</text>
<line x1="367.0" x2="367.0" y1="899.3" y2="908.6" stroke="#111" stroke-width="1.35"/>
<text x="366.0" y="926.2" font-size="16.6" text-anchor="middle" textLength="15.6" lengthAdjust="spacingAndGlyphs" fill="#141414">60</text>
<line x1="399.9" x2="399.9" y1="899.3" y2="908.6" stroke="#111" stroke-width="1.35"/>
<text x="398.9" y="926.2" font-size="16.6" text-anchor="middle" textLength="15.6" lengthAdjust="spacingAndGlyphs" fill="#141414">65</text>
<line x1="432.9" x2="432.9" y1="899.3" y2="908.6" stroke="#111" stroke-width="1.35"/>
<text x="431.9" y="926.2" font-size="16.6" text-anchor="middle" textLength="15.6" lengthAdjust="spacingAndGlyphs" fill="#141414">70</text>
<line x1="465.8" x2="465.8" y1="899.3" y2="908.6" stroke="#111" stroke-width="1.35"/>
<text x="464.8" y="926.2" font-size="16.6" text-anchor="middle" textLength="15.6" lengthAdjust="spacingAndGlyphs" fill="#141414">75</text>
<line x1="498.8" x2="498.8" y1="899.3" y2="908.6" stroke="#111" stroke-width="1.35"/>
<text x="497.8" y="926.2" font-size="16.6" text-anchor="middle" textLength="15.6" lengthAdjust="spacingAndGlyphs" fill="#141414">80</text>
<line x1="531.7" x2="531.7" y1="899.3" y2="908.6" stroke="#111" stroke-width="1.35"/>
<text x="530.7" y="926.2" font-size="16.6" text-anchor="middle" textLength="15.6" lengthAdjust="spacingAndGlyphs" fill="#141414">85</text>
<text x="563.7" y="926.2" font-size="16.6" text-anchor="middle" textLength="15.6" lengthAdjust="spacingAndGlyphs" fill="#141414">90</text>
<line x1="21.0" x2="21.0" y1="899.3" y2="904.7" stroke="#111" stroke-width="1.25"/>
<line x1="53.9" x2="53.9" y1="899.3" y2="904.7" stroke="#111" stroke-width="1.25"/>
<line x1="86.9" x2="86.9" y1="899.3" y2="904.7" stroke="#111" stroke-width="1.25"/>
<line x1="119.8" x2="119.8" y1="899.3" y2="904.7" stroke="#111" stroke-width="1.25"/>
<line x1="152.8" x2="152.8" y1="899.3" y2="904.7" stroke="#111" stroke-width="1.25"/>
<line x1="185.7" x2="185.7" y1="899.3" y2="904.7" stroke="#111" stroke-width="1.25"/>
<line x1="218.7" x2="218.7" y1="899.3" y2="904.7" stroke="#111" stroke-width="1.25"/>
<line x1="251.6" x2="251.6" y1="899.3" y2="904.7" stroke="#111" stroke-width="1.25"/>
<line x1="284.6" x2="284.6" y1="899.3" y2="904.7" stroke="#111" stroke-width="1.25"/>
<line x1="317.6" x2="317.6" y1="899.3" y2="904.7" stroke="#111" stroke-width="1.25"/>
<line x1="350.5" x2="350.5" y1="899.3" y2="904.7" stroke="#111" stroke-width="1.25"/>
<line x1="383.5" x2="383.5" y1="899.3" y2="904.7" stroke="#111" stroke-width="1.25"/>
<line x1="416.4" x2="416.4" y1="899.3" y2="904.7" stroke="#111" stroke-width="1.25"/>
<line x1="449.4" x2="449.4" y1="899.3" y2="904.7" stroke="#111" stroke-width="1.25"/>
<line x1="482.3" x2="482.3" y1="899.3" y2="904.7" stroke="#111" stroke-width="1.25"/>
<line x1="515.3" x2="515.3" y1="899.3" y2="904.7" stroke="#111" stroke-width="1.25"/>
<line x1="548.2" x2="548.2" y1="899.3" y2="904.7" stroke="#111" stroke-width="1.25"/>
<text x="258.6" y="981.5" font-size="17.5" textLength="82.4" lengthAdjust="spacingAndGlyphs" fill="#141414">2θ (Degree)</text>
<text x="9.1" y="459.4" font-size="18.7" textLength="23.4" lengthAdjust="spacingAndGlyphs" fill="#141414">(b)</text>
<line x1="469.9" x2="502.1" y1="485.2" y2="485.2" stroke="#111" stroke-width="1.2"/>
<text x="506.2" y="490.3" font-size="18" textLength="48.6" lengthAdjust="spacingAndGlyphs" fill="#141414">3-CLL</text>
<g transform="translate(31.7,507.1) scale(10.00,9.20)"><path d="M-0.5,-0.5 L0.5,-0.5 L0,0.5 Z" fill="none" stroke="#181020" stroke-width="1.15" stroke-linejoin="miter" vector-effect="non-scaling-stroke"/><path d="M-0.46,-0.5 L0.02,0.46" fill="none" stroke="#181020" stroke-width="1.8399999999999999" vector-effect="non-scaling-stroke"/></g>
<text transform="translate(25.8,523.6) scale(0.1085,0.1692) translate(-1.5,32.5)" text-anchor="middle" font-size="100" fill="#181020">ϒ</text>
<text transform="translate(49.9,529.7) scale(0.1333,0.1185) translate(-0.0,32.5)" text-anchor="middle" font-size="100" fill="#181020">Π</text>
<text transform="translate(76.2,560.8) scale(0.1729,0.1305) translate(-0.0,29.5)" text-anchor="middle" font-size="100" fill="#181020">♠</text>
<text transform="translate(92.0,484.1) scale(0.1467,0.1200) translate(-0.0,30.0)" text-anchor="middle" font-size="100" fill="#181020">♣</text>
<g transform="translate(98.1,573.5) scale(7.70,11.00)"><path d="M0.25,-0.2 C0.25,-0.6 -0.4,-0.6 -0.4,-0.2 C-0.4,0.15 0.25,0.1 0.25,-0.2 C0.28,0.1 0.25,0.5 -0.1,0.5 C-0.3,0.5 -0.43,0.4 -0.45,0.25 M0.25,-0.06 L0.5,-0.1" fill="none" stroke="#181020" stroke-width="1.15" stroke-linecap="round" vector-effect="non-scaling-stroke"/></g>
<text transform="translate(108.8,576.3) scale(0.1273,0.1185) translate(-0.0,32.5)" text-anchor="middle" font-size="100" fill="#181020">Π</text>
<g transform="translate(118.2,582.2) scale(7.70,11.00)"><path d="M0.25,-0.2 C0.25,-0.6 -0.4,-0.6 -0.4,-0.2 C-0.4,0.15 0.25,0.1 0.25,-0.2 C0.28,0.1 0.25,0.5 -0.1,0.5 C-0.3,0.5 -0.43,0.4 -0.45,0.25 M0.25,-0.06 L0.5,-0.1" fill="none" stroke="#181020" stroke-width="1.15" stroke-linecap="round" vector-effect="non-scaling-stroke"/></g>
<g transform="translate(123.3,559.9) scale(6.00,10.00)"><path d="M-0.22,0.5 V-0.08 M0.22,0.5 V-0.08 M-0.5,0.02 L0,-0.5 L0.5,0.02" fill="none" stroke="#8a6a90" stroke-width="0.9" vector-effect="non-scaling-stroke"/></g>
<text transform="translate(127.7,572.4) scale(0.1729,0.1305) translate(-0.0,29.5)" text-anchor="middle" font-size="100" fill="#181020">♠</text>
<text transform="translate(132.0,591.0) scale(0.0973,0.0969) translate(-0.0,32.5)" text-anchor="middle" font-size="100" fill="#3a3040">Ψ</text>
<g transform="translate(139.7,579.6) scale(9.60,9.20)"><path d="M-0.5,-0.5 L0.5,-0.5 L0,0.5 Z" fill="none" stroke="#181020" stroke-width="1.15" stroke-linejoin="miter" vector-effect="non-scaling-stroke"/><path d="M-0.46,-0.5 L0.02,0.46" fill="none" stroke="#181020" stroke-width="1.8399999999999999" vector-effect="non-scaling-stroke"/></g>
<text transform="translate(148.2,548.1) scale(0.1818,0.1932) translate(-0.0,29.5)" text-anchor="middle" font-size="100" fill="#181020">♦</text>
<g transform="translate(155.8,572.8) scale(7.70,11.00)"><path d="M0.25,-0.2 C0.25,-0.6 -0.4,-0.6 -0.4,-0.2 C-0.4,0.15 0.25,0.1 0.25,-0.2 C0.28,0.1 0.25,0.5 -0.1,0.5 C-0.3,0.5 -0.43,0.4 -0.45,0.25 M0.25,-0.06 L0.5,-0.1" fill="none" stroke="#181020" stroke-width="1.15" stroke-linecap="round" vector-effect="non-scaling-stroke"/></g>
<text transform="translate(159.7,560.3) scale(0.1467,0.1233) translate(-0.0,30.0)" text-anchor="middle" font-size="100" fill="#181020">♣</text>
<g transform="translate(166.9,489.9) scale(9.00,7.60)"><path d="M0,-0.5 V0.5 M-0.48,-0.27 L0.48,0.27 M-0.48,0.27 L0.48,-0.27" fill="none" stroke="#3a2c4c" stroke-width="1.5" vector-effect="non-scaling-stroke"/></g>
<text transform="translate(184.4,563.0) scale(0.1480,0.1375) translate(-0.0,28.0)" text-anchor="middle" font-size="100" fill="#181020">♥</text>
<text transform="translate(192.6,565.4) scale(0.0919,0.0969) translate(-0.0,32.5)" text-anchor="middle" font-size="100" fill="#3a3040">Ψ</text>
<text transform="translate(188.2,574.1) scale(0.1729,0.1305) translate(-0.0,29.5)" text-anchor="middle" font-size="100" fill="#181020">♠</text>
<text transform="translate(192.1,582.2) scale(0.0938,0.0909) translate(-0.0,32.0)" text-anchor="middle" font-size="100" fill="#3a3040">Θ</text>
<text transform="translate(197.4,487.4) scale(0.1467,0.1200) translate(-0.0,30.0)" text-anchor="middle" font-size="100" fill="#181020">♣</text>
<g transform="translate(204.6,569.1) scale(9.60,9.20)"><path d="M-0.5,-0.5 L0.5,-0.5 L0,0.5 Z" fill="none" stroke="#181020" stroke-width="1.15" stroke-linejoin="miter" vector-effect="non-scaling-stroke"/><path d="M-0.46,-0.5 L0.02,0.46" fill="none" stroke="#181020" stroke-width="1.8399999999999999" vector-effect="non-scaling-stroke"/></g>
<g transform="translate(211.2,575.0) scale(6.60,7.70)"><path d="M-0.46,-0.44 L0.46,0.44" fill="none" stroke="#181020" stroke-width="1.8399999999999999" stroke-linecap="round" vector-effect="non-scaling-stroke"/><path d="M0.24,-0.46 L0.42,-0.22 M-0.42,0.2 L-0.22,0.46" fill="none" stroke="#181020" stroke-width="1.8399999999999999" stroke-linecap="round" vector-effect="non-scaling-stroke"/><path d="M0.42,-0.22 C0.4,-0.1 0.28,-0.02 0.16,0.1 M-0.42,0.2 C-0.45,0.05 -0.35,-0.05 -0.2,-0.18" fill="none" stroke="#181020" stroke-width="1.15" vector-effect="non-scaling-stroke"/></g>
<g transform="translate(207.9,587.3) scale(8.30,7.40)"><path d="M-0.46,-0.3 C-0.3,-0.52 -0.1,-0.5 0.05,-0.38 C0.2,-0.28 0.35,-0.3 0.48,-0.46 M0.16,-0.33 C-0.05,-0.1 0.44,-0.05 0.44,0.2 C0.44,0.45 0.1,0.5 -0.15,0.4 C-0.3,0.34 -0.4,0.24 -0.45,0.16" fill="none" stroke="#181020" stroke-width="1.8399999999999999" stroke-linecap="round" vector-effect="non-scaling-stroke"/></g>
<g transform="translate(232.6,584.0) scale(9.60,9.20)"><path d="M-0.5,-0.5 L0.5,-0.5 L0,0.5 Z" fill="none" stroke="#181020" stroke-width="1.15" stroke-linejoin="miter" vector-effect="non-scaling-stroke"/><path d="M-0.46,-0.5 L0.02,0.46" fill="none" stroke="#181020" stroke-width="1.8399999999999999" vector-effect="non-scaling-stroke"/></g>
<g transform="translate(257.1,587.7) scale(12.00,12.00)"><path d="M-0.28,-0.32 C-0.52,-0.1 -0.5,0.3 -0.34,0.5 C-0.2,0.52 -0.14,0.3 -0.2,0.1 C-0.27,-0.2 0,-0.47 0.25,-0.44 C0.5,-0.4 0.56,-0.05 0.36,0.12 C0.2,0.26 -0.06,0.2 -0.05,-0.02" fill="none" stroke="#181020" stroke-width="1.8399999999999999" vector-effect="non-scaling-stroke"/></g>
<text transform="translate(242.9,600.9) scale(0.1200,0.1071) translate(-0.0,28.0)" text-anchor="middle" font-size="100" fill="#181020">♥</text>
<text transform="translate(252.3,601.9) scale(0.1682,0.1864) translate(-0.0,29.5)" text-anchor="middle" font-size="100" fill="#181020">♦</text>
<text transform="translate(263.3,602.4) scale(0.0919,0.0969) translate(-0.0,32.5)" text-anchor="middle" font-size="100" fill="#3a3040">Ψ</text>
<text transform="translate(283.6,562.7) scale(0.1467,0.1200) translate(-0.0,30.0)" text-anchor="middle" font-size="100" fill="#181020">♣</text>
<text transform="translate(288.3,596.5) scale(0.1729,0.1305) translate(-0.0,29.5)" text-anchor="middle" font-size="100" fill="#181020">♠</text>
<text transform="translate(302.3,600.2) scale(0.0973,0.1046) translate(-0.0,32.5)" text-anchor="middle" font-size="100" fill="#3a3040">Ψ</text>
<text transform="translate(308.0,586.0) scale(0.1467,0.1200) translate(-0.0,30.0)" text-anchor="middle" font-size="100" fill="#181020">♣</text>
<text transform="translate(313.5,614.0) scale(0.1260,0.1125) translate(-0.0,28.0)" text-anchor="middle" font-size="100" fill="#181020">♥</text>
<text transform="translate(331.5,605.9) scale(0.1467,0.1200) translate(-0.0,30.0)" text-anchor="middle" font-size="100" fill="#181020">♣</text>
<text transform="translate(385.1,614.0) scale(0.1260,0.1125) translate(-0.0,28.0)" text-anchor="middle" font-size="100" fill="#181020">♥</text>
<text transform="translate(398.2,617.9) scale(0.1467,0.1200) translate(-0.0,30.0)" text-anchor="middle" font-size="100" fill="#181020">♣</text>
<text transform="translate(446.3,621.7) scale(0.1467,0.1200) translate(-0.0,30.0)" text-anchor="middle" font-size="100" fill="#181020">♣</text>
<text transform="translate(532.3,624.3) scale(0.1467,0.1200) translate(-0.0,30.0)" text-anchor="middle" font-size="100" fill="#181020">♣</text>
<text transform="translate(438.2,672.9) scale(0.1960,0.1643) translate(-0.0,28.0)" text-anchor="middle" font-size="100" fill="#101018">♥</text>
<text x="448.3" y="676.9" font-size="12.6" textLength="96.0" lengthAdjust="spacingAndGlyphs" fill="#16162a" stroke="#16162a" stroke-width="0.22">PDF#00-049-0442</text>
<text transform="translate(439.1,689.7) scale(0.1979,0.1559) translate(-0.0,29.5)" text-anchor="middle" font-size="100" fill="#101018">♠</text>
<text x="448.3" y="693.7" font-size="12.6" textLength="96.0" lengthAdjust="spacingAndGlyphs" fill="#16162a" stroke="#16162a" stroke-width="0.22">PDF#00-049-1672</text>
<text transform="translate(437.6,706.6) scale(0.1766,0.1621) translate(-0.0,32.0)" text-anchor="middle" font-size="100" fill="#101018">Θ</text>
<text x="448.3" y="711.2" font-size="12.6" textLength="96.0" lengthAdjust="spacingAndGlyphs" fill="#16162a" stroke="#16162a" stroke-width="0.22">PDF#00-032-0148</text>
<text transform="translate(436.6,724.4) scale(0.1568,0.1938) translate(-0.0,32.5)" text-anchor="middle" font-size="100" fill="#101018">Ψ</text>
<text x="447.4" y="728.0" font-size="12.6" textLength="96.0" lengthAdjust="spacingAndGlyphs" fill="#16162a" stroke="#16162a" stroke-width="0.22">PDF#00-030-0226</text>
<g transform="translate(439.1,741.2) scale(7.00,7.00)"><path d="M0,-0.5 V0.5 M-0.48,-0.27 L0.48,0.27 M-0.48,0.27 L0.48,-0.27" fill="none" stroke="#101018" stroke-width="1.1" vector-effect="non-scaling-stroke"/></g>
<text x="447.4" y="745.8" font-size="12.6" textLength="96.0" lengthAdjust="spacingAndGlyphs" fill="#16162a" stroke="#16162a" stroke-width="0.22">PDF#00-005-0586</text>
<text transform="translate(437.6,757.5) scale(0.1766,0.1554) translate(-0.0,32.5)" text-anchor="middle" font-size="100" fill="#101018">Ω</text>
<text x="448.3" y="762.1" font-size="12.6" textLength="96.0" lengthAdjust="spacingAndGlyphs" fill="#16162a" stroke="#16162a" stroke-width="0.22">PDF#00-036-0426</text>
<text transform="translate(439.1,774.3) scale(0.1591,0.1915) translate(-0.0,29.5)" text-anchor="middle" font-size="100" fill="#101018">♦</text>
<text x="448.3" y="778.9" font-size="12.6" textLength="96.0" lengthAdjust="spacingAndGlyphs" fill="#16162a" stroke="#16162a" stroke-width="0.22">PDF#00-033-1161</text>
<text transform="translate(438.2,792.3) scale(0.1712,0.1415) translate(-0.0,32.5)" text-anchor="middle" font-size="100" fill="#101018">Π</text>
<text x="448.3" y="796.2" font-size="12.6" textLength="96.0" lengthAdjust="spacingAndGlyphs" fill="#16162a" stroke="#16162a" stroke-width="0.22">PDF#00-033-0311</text>
<text transform="translate(437.6,809.1) scale(0.1883,0.1333) translate(-0.0,30.0)" text-anchor="middle" font-size="100" fill="#101018">♣</text>
<text x="448.9" y="813.7" font-size="12.6" textLength="96.0" lengthAdjust="spacingAndGlyphs" fill="#16162a" stroke="#16162a" stroke-width="0.22">PDF#00-004-0733</text>
<g transform="translate(439.1,826.0) scale(8.90,10.70)"><path d="M0.25,-0.2 C0.25,-0.6 -0.4,-0.6 -0.4,-0.2 C-0.4,0.15 0.25,0.1 0.25,-0.2 C0.28,0.1 0.25,0.5 -0.1,0.5 C-0.3,0.5 -0.43,0.4 -0.45,0.25 M0.25,-0.06 L0.5,-0.1" fill="none" stroke="#101018" stroke-width="1.4" stroke-linecap="round" vector-effect="non-scaling-stroke"/></g>
<text x="447.4" y="830.0" font-size="12.6" textLength="96.0" lengthAdjust="spacingAndGlyphs" fill="#16162a" stroke="#16162a" stroke-width="0.22">PDF#01-074-0603</text>
<g transform="translate(438.2,842.2) scale(7.70,14.40)"><path d="M-0.22,0.5 V-0.08 M0.22,0.5 V-0.08 M-0.5,0.02 L0,-0.5 L0.5,0.02" fill="none" stroke="#8a7a70" stroke-width="0.9" vector-effect="non-scaling-stroke"/></g>
<text x="448.9" y="848.0" font-size="12.6" textLength="96.0" lengthAdjust="spacingAndGlyphs" fill="#16162a" stroke="#16162a" stroke-width="0.22">PDF#01-076-6582</text>
<g transform="translate(438.2,860.3) scale(9.80,9.50)"><path d="M-0.5,-0.5 L0.5,-0.5 L0,0.5 Z" fill="none" stroke="#101018" stroke-width="1.1" stroke-linejoin="miter" vector-effect="non-scaling-stroke"/><path d="M-0.46,-0.5 L0.02,0.46" fill="none" stroke="#101018" stroke-width="1.7600000000000002" vector-effect="non-scaling-stroke"/></g>
<text x="447.4" y="864.3" font-size="12.6" textLength="96.0" lengthAdjust="spacingAndGlyphs" fill="#16162a" stroke="#16162a" stroke-width="0.22">PDF#00-034-0175</text>
<g transform="translate(438.2,876.6) scale(9.80,13.80)"><path d="M-0.46,-0.44 L0.46,0.44" fill="none" stroke="#101018" stroke-width="1.7600000000000002" stroke-linecap="round" vector-effect="non-scaling-stroke"/><path d="M0.24,-0.46 L0.42,-0.22 M-0.42,0.2 L-0.22,0.46" fill="none" stroke="#101018" stroke-width="1.7600000000000002" stroke-linecap="round" vector-effect="non-scaling-stroke"/><path d="M0.42,-0.22 C0.4,-0.1 0.28,-0.02 0.16,0.1 M-0.42,0.2 C-0.45,0.05 -0.35,-0.05 -0.2,-0.18" fill="none" stroke="#101018" stroke-width="1.1" vector-effect="non-scaling-stroke"/></g>
<text x="447.4" y="879.6" font-size="12.6" textLength="96.0" lengthAdjust="spacingAndGlyphs" fill="#16162a" stroke="#16162a" stroke-width="0.22">PDF#00-034-0178</text>
<g transform="translate(439.1,891.9) scale(9.80,11.30)"><path d="M-0.46,-0.3 C-0.3,-0.52 -0.1,-0.5 0.05,-0.38 C0.2,-0.28 0.35,-0.3 0.48,-0.46 M0.16,-0.33 C-0.05,-0.1 0.44,-0.05 0.44,0.2 C0.44,0.45 0.1,0.5 -0.15,0.4 C-0.3,0.34 -0.4,0.24 -0.45,0.16" fill="none" stroke="#101018" stroke-width="1.7600000000000002" stroke-linecap="round" vector-effect="non-scaling-stroke"/></g>
<text x="447.4" y="895.9" font-size="12.6" textLength="96.0" lengthAdjust="spacingAndGlyphs" fill="#16162a" stroke="#16162a" stroke-width="0.22">PDF#01-084-2782</text>
<text transform="translate(588.1,474.8) scale(0.1733,0.1617) translate(-0.0,30.0)" text-anchor="middle" font-size="100" fill="#151515">♣</text>
<text transform="translate(588.1,496.2) scale(0.1909,0.1847) translate(-0.0,29.5)" text-anchor="middle" font-size="100" fill="#151515">♦</text>
<g transform="translate(590.1,518.8) scale(11.20,11.20)"><path d="M-0.46,-0.44 L0.46,0.44" fill="none" stroke="#151515" stroke-width="1.6" stroke-linecap="round" vector-effect="non-scaling-stroke"/><path d="M0.24,-0.46 L0.42,-0.22 M-0.42,0.2 L-0.22,0.46" fill="none" stroke="#151515" stroke-width="1.6" stroke-linecap="round" vector-effect="non-scaling-stroke"/><path d="M0.42,-0.22 C0.4,-0.1 0.28,-0.02 0.16,0.1 M-0.42,0.2 C-0.45,0.05 -0.35,-0.05 -0.2,-0.18" fill="none" stroke="#151515" stroke-width="1.0" vector-effect="non-scaling-stroke"/></g>
<g transform="translate(588.8,543.2) scale(10.90,11.70)"><path d="M-0.46,-0.3 C-0.3,-0.52 -0.1,-0.5 0.05,-0.38 C0.2,-0.28 0.35,-0.3 0.48,-0.46 M0.16,-0.33 C-0.05,-0.1 0.44,-0.05 0.44,0.2 C0.44,0.45 0.1,0.5 -0.15,0.4 C-0.3,0.34 -0.4,0.24 -0.45,0.16" fill="none" stroke="#151515" stroke-width="1.6" stroke-linecap="round" vector-effect="non-scaling-stroke"/></g>
<text transform="translate(588.5,564.2) scale(0.1652,0.1723) translate(-0.0,32.5)" text-anchor="middle" font-size="100" fill="#151515">Π</text>
<g transform="translate(589.8,590.1) scale(11.20,10.90)"><path d="M-0.5,-0.5 L0.5,-0.5 L0,0.5 Z" fill="none" stroke="#151515" stroke-width="1.0" stroke-linejoin="miter" vector-effect="non-scaling-stroke"/><path d="M-0.46,-0.5 L0.02,0.46" fill="none" stroke="#151515" stroke-width="1.6" vector-effect="non-scaling-stroke"/></g>
<text transform="translate(590.1,612.8) scale(0.1408,0.1800) translate(-1.5,32.5)" text-anchor="middle" font-size="100" fill="#151515">ϒ</text>
<text transform="translate(589.8,638.0) scale(0.1703,0.1538) translate(-0.0,32.5)" text-anchor="middle" font-size="100" fill="#151515">Ω</text>
<g transform="translate(589.8,661.5) scale(9.40,15.40)"><path d="M-0.22,0.5 V-0.08 M0.22,0.5 V-0.08 M-0.5,0.02 L0,-0.5 L0.5,0.02" fill="none" stroke="#151515" stroke-width="1.0" vector-effect="non-scaling-stroke"/></g>
<g transform="translate(590.1,683.8) scale(7.90,7.50)"><path d="M0,-0.5 V0.5 M-0.48,-0.27 L0.48,0.27 M-0.48,0.27 L0.48,-0.27" fill="none" stroke="#151515" stroke-width="1.7" vector-effect="non-scaling-stroke"/></g>
<text transform="translate(589.8,703.4) scale(0.2000,0.1589) translate(-0.0,28.0)" text-anchor="middle" font-size="100" fill="#151515">♥</text>
<text transform="translate(590.1,742.0) scale(0.2083,0.1695) translate(-0.0,29.5)" text-anchor="middle" font-size="100" fill="#151515">♠</text>
<text transform="translate(589.3,773.9) scale(0.1828,0.1848) translate(-0.0,32.0)" text-anchor="middle" font-size="100" fill="#151515">Θ</text>
<text transform="translate(589.8,829.3) scale(0.1514,0.1677) translate(-0.0,32.5)" text-anchor="middle" font-size="100" fill="#151515">Ψ</text>
<g transform="translate(592.2,864.6) scale(9.20,12.60)"><path d="M0.25,-0.2 C0.25,-0.6 -0.4,-0.6 -0.4,-0.2 C-0.4,0.15 0.25,0.1 0.25,-0.2 C0.28,0.1 0.25,0.5 -0.1,0.5 C-0.3,0.5 -0.43,0.4 -0.45,0.25 M0.25,-0.06 L0.5,-0.1" fill="none" stroke="#151515" stroke-width="1.5" stroke-linecap="round" vector-effect="non-scaling-stroke"/></g>
<g transform="translate(591.0,887.2) scale(13.80,11.70)"><path d="M-0.28,-0.32 C-0.52,-0.1 -0.5,0.3 -0.34,0.5 C-0.2,0.52 -0.14,0.3 -0.2,0.1 C-0.27,-0.2 0,-0.47 0.25,-0.44 C0.5,-0.4 0.56,-0.05 0.36,0.12 C0.2,0.26 -0.06,0.2 -0.05,-0.02" fill="none" stroke="#151515" stroke-width="1.2000000000000002" vector-effect="non-scaling-stroke"/></g>
<text x="599.9" y="478.5" font-size="15.2" textLength="68.3" lengthAdjust="spacingAndGlyphs" fill="#161616" stroke="#161616" stroke-width="0.12">Portlandite</text>
<text x="600.2" y="500.4" font-size="15.2" textLength="42.8" lengthAdjust="spacingAndGlyphs" fill="#161616" stroke="#161616" stroke-width="0.12">Quartz</text>
<text x="600.2" y="523.0" font-size="15.2" textLength="51.2" lengthAdjust="spacingAndGlyphs" fill="#161616" stroke="#161616" stroke-width="0.12">Fe<tspan font-size="9.4" dy="3.6">2</tspan><tspan dy="-3.6">SiO</tspan><tspan font-size="9.4" dy="3.6">4</tspan></text>
<text x="600.7" y="546.2" font-size="15.2" textLength="37.3" lengthAdjust="spacingAndGlyphs" fill="#161616" stroke="#161616" stroke-width="0.12">Fe<tspan font-size="9.4" dy="3.6">3</tspan><tspan dy="-3.6">O</tspan><tspan font-size="9.4" dy="3.6">4</tspan></text>
<text x="600.2" y="567.5" font-size="15.2" textLength="52.9" lengthAdjust="spacingAndGlyphs" fill="#161616" stroke="#161616" stroke-width="0.12">Gypsum</text>
<text x="600.2" y="593.5" font-size="15.2" textLength="66.0" lengthAdjust="spacingAndGlyphs" fill="#161616" stroke="#161616" stroke-width="0.12">Muscovite</text>
<text x="599.9" y="617.5" font-size="15.2" textLength="58.2" lengthAdjust="spacingAndGlyphs" fill="#161616" stroke="#161616" stroke-width="0.12">Ettringite</text>
<text x="600.2" y="642.2" font-size="15.2" textLength="57.9" lengthAdjust="spacingAndGlyphs" fill="#161616" stroke="#161616" stroke-width="0.12">Dolomite</text>
<text x="599.9" y="665.4" font-size="15.2" textLength="68.3" lengthAdjust="spacingAndGlyphs" fill="#161616" stroke="#161616" stroke-width="0.12">Microcline</text>
<text x="601.1" y="687.0" font-size="14.4" textLength="44.1" lengthAdjust="spacingAndGlyphs" fill="#161616" stroke="#161616" stroke-width="0.2">Calcite</text>
<text x="600.7" y="706.3" font-size="14" textLength="52.7" lengthAdjust="spacingAndGlyphs" fill="#161616" stroke="#161616" stroke-width="0.2">Calcium-</text>
<text x="600.7" y="723.6" font-size="14" textLength="78.4" lengthAdjust="spacingAndGlyphs" fill="#161616" stroke="#161616" stroke-width="0.2">Silicate (C<tspan font-size="8.7" dy="3.4">3</tspan><tspan dy="-3.4">S)</tspan></text>
<text x="600.7" y="743.4" font-size="14" textLength="52.7" lengthAdjust="spacingAndGlyphs" fill="#161616" stroke="#161616" stroke-width="0.2">Calcium-</text>
<text x="600.7" y="761.0" font-size="14" textLength="78.4" lengthAdjust="spacingAndGlyphs" fill="#161616" stroke="#161616" stroke-width="0.2">Silicate (C<tspan font-size="8.7" dy="3.4">2</tspan><tspan dy="-3.4">S)</tspan></text>
<text x="601.6" y="777.8" font-size="14" textLength="51.8" lengthAdjust="spacingAndGlyphs" fill="#161616" stroke="#161616" stroke-width="0.2">Calcium-</text>
<text x="601.6" y="795.8" font-size="14" textLength="65.8" lengthAdjust="spacingAndGlyphs" fill="#161616" stroke="#161616" stroke-width="0.2">Aluminum-</text>
<text x="601.1" y="813.4" font-size="14" textLength="69.1" lengthAdjust="spacingAndGlyphs" fill="#161616" stroke="#161616" stroke-width="0.2">Oxide(C<tspan font-size="8.7" dy="3.4">3</tspan><tspan dy="-3.4">A)</tspan></text>
<text x="600.2" y="830.1" font-size="12.2" textLength="78.9" lengthAdjust="spacingAndGlyphs" fill="#161616" stroke="#161616" stroke-width="0.2">Brownmillerite</text>
<text x="600.2" y="847.8" font-size="12.2" textLength="38.1" lengthAdjust="spacingAndGlyphs" fill="#161616" stroke="#161616" stroke-width="0.2">(C<tspan font-size="7.6" dy="2.9">4</tspan><tspan dy="-2.9">AF)</tspan></text>
<text x="601.9" y="867.9" font-size="13.2" textLength="35.2" lengthAdjust="spacingAndGlyphs" fill="#161616" stroke="#161616" stroke-width="0.2">Albite</text>
<text x="600.7" y="888.9" font-size="13.2" textLength="61.3" lengthAdjust="spacingAndGlyphs" fill="#161616" stroke="#161616" stroke-width="0.2">Corundum</text>
<text x="600.7" y="907.0" font-size="13.2" textLength="43.7" lengthAdjust="spacingAndGlyphs" fill="#161616" stroke="#161616" stroke-width="0.2">(Al<tspan font-size="8.2" dy="3.2">2</tspan><tspan dy="-3.2">O</tspan><tspan font-size="8.2" dy="3.2">3</tspan><tspan dy="-3.2">)</tspan></text>
</svg>
</body></html>
